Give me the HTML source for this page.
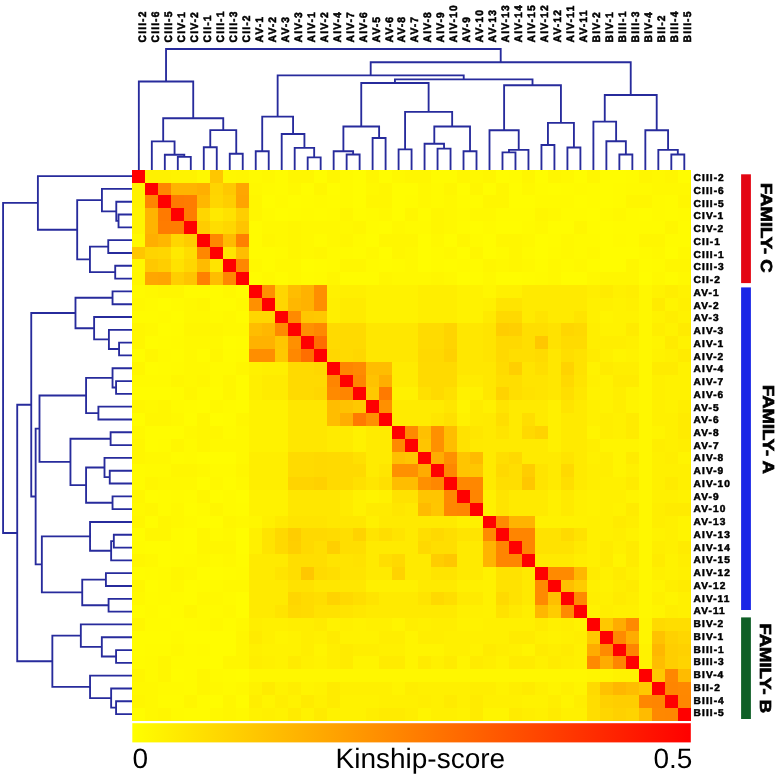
<!DOCTYPE html><html><head><meta charset="utf-8"><style>html,body{margin:0;padding:0;background:#fff;}svg{display:block;will-change:transform;}text{font-family:"Liberation Sans",sans-serif;text-rendering:geometricPrecision;}.lb{font-weight:bold;font-size:10.0px;letter-spacing:1.05px;fill:#000;stroke:#000;stroke-width:0.5px;}.lt{font-weight:bold;font-size:10.8px;letter-spacing:1.2px;fill:#000;stroke:#000;stroke-width:0.55px;}.fam{font-weight:bold;font-size:16px;fill:#000;stroke:#000;stroke-width:0.7px;}.big{font-size:28px;fill:#000;}</style></head><body><svg width="778" height="775" viewBox="0 0 778 775"><rect width="778" height="775" fill="#fff"/><defs><linearGradient id="cb" x1="0" x2="1" y1="0" y2="0"><stop offset="0" stop-color="#ffff00"/><stop offset="1" stop-color="#ff0000"/></linearGradient></defs><path d="M177.81 169.70L177.81 156.80M190.79 169.70L190.79 156.80M177.81 156.80L190.79 156.80M164.82 169.70L164.82 154.70M184.30 156.80L184.30 154.70M164.82 154.70L184.30 154.70M151.83 169.70L151.83 141.30M174.56 154.70L174.56 141.30M151.83 141.30L174.56 141.30M203.78 169.70L203.78 147.20M216.77 169.70L216.77 147.20M203.78 147.20L216.77 147.20M229.75 169.70L229.75 153.70M242.74 169.70L242.74 153.70M229.75 153.70L242.74 153.70M210.27 147.20L210.27 130.10M236.25 153.70L236.25 130.10M210.27 130.10L236.25 130.10M163.19 141.30L163.19 118.20M223.26 130.10L223.26 118.20M163.19 118.20L223.26 118.20M138.84 169.70L138.84 81.50M193.23 118.20L193.23 81.50M138.84 81.50L193.23 81.50M255.73 169.70L255.73 151.20M268.72 169.70L268.72 151.20M255.73 151.20L268.72 151.20M307.68 169.70L307.68 157.30M320.66 169.70L320.66 157.30M307.68 157.30L320.66 157.30M294.69 169.70L294.69 147.80M314.17 157.30L314.17 147.80M294.69 147.80L314.17 147.80M281.70 169.70L281.70 134.00M304.43 147.80L304.43 134.00M281.70 134.00L304.43 134.00M262.22 151.20L262.22 116.60M293.07 134.00L293.07 116.60M262.22 116.60L293.07 116.60M346.64 169.70L346.64 154.50M359.63 169.70L359.63 154.50M346.64 154.50L359.63 154.50M333.65 169.70L333.65 151.20M353.13 154.50L353.13 151.20M333.65 151.20L353.13 151.20M372.61 169.70L372.61 138.00M385.60 169.70L385.60 138.00M372.61 138.00L385.60 138.00M343.39 151.20L343.39 126.50M379.11 138.00L379.11 126.50M343.39 126.50L379.11 126.50M398.59 169.70L398.59 149.40M411.57 169.70L411.57 149.40M398.59 149.40L411.57 149.40M437.55 169.70L437.55 148.60M450.54 169.70L450.54 148.60M437.55 148.60L450.54 148.60M424.56 169.70L424.56 143.70M444.04 148.60L444.04 143.70M424.56 143.70L444.04 143.70M463.52 169.70L463.52 151.20M476.51 169.70L476.51 151.20M463.52 151.20L476.51 151.20M434.30 143.70L434.30 126.50M470.02 151.20L470.02 126.50M434.30 126.50L470.02 126.50M405.08 149.40L405.08 111.90M452.16 126.50L452.16 111.90M405.08 111.90L452.16 111.90M361.25 126.50L361.25 83.00M428.62 111.90L428.62 83.00M361.25 83.00L428.62 83.00M502.49 169.70L502.49 152.40M515.47 169.70L515.47 152.40M502.49 152.40L515.47 152.40M508.98 152.40L508.98 149.90M528.46 169.70L528.46 149.90M508.98 149.90L528.46 149.90M489.50 169.70L489.50 130.20M518.72 149.90L518.72 130.20M489.50 130.20L518.72 130.20M541.45 169.70L541.45 145.00M554.43 169.70L554.43 145.00M541.45 145.00L554.43 145.00M567.42 169.70L567.42 147.50M580.41 169.70L580.41 147.50M567.42 147.50L580.41 147.50M547.94 145.00L547.94 122.90M573.92 147.50L573.92 122.90M547.94 122.90L573.92 122.90M504.11 130.20L504.11 85.20M560.93 122.90L560.93 85.20M504.11 85.20L560.93 85.20M394.94 83.00L394.94 79.40M532.52 85.20L532.52 79.40M394.94 79.40L532.52 79.40M277.64 116.60L277.64 75.30M463.73 79.40L463.73 75.30M277.64 75.30L463.73 75.30M619.37 169.70L619.37 154.50M632.36 169.70L632.36 154.50M619.37 154.50L632.36 154.50M606.38 169.70L606.38 141.20M625.86 154.50L625.86 141.20M606.38 141.20L625.86 141.20M593.40 169.70L593.40 121.60M616.12 141.20L616.12 121.60M593.40 121.60L616.12 121.60M671.32 169.70L671.32 154.50M684.31 169.70L684.31 154.50M671.32 154.50L684.31 154.50M658.33 169.70L658.33 149.90M677.81 154.50L677.81 149.90M658.33 149.90L677.81 149.90M645.34 169.70L645.34 130.20M668.07 149.90L668.07 130.20M645.34 130.20L668.07 130.20M604.76 121.60L604.76 95.00M656.71 130.20L656.71 95.00M604.76 95.00L656.71 95.00M370.69 75.30L370.69 62.20M630.73 95.00L630.73 62.20M370.69 62.20L630.73 62.20M166.04 81.50L166.04 49.00M500.71 62.20L500.71 49.00M166.04 49.00L500.71 49.00" stroke="#272b9c" stroke-width="1.85" fill="none" stroke-linecap="square"/><path d="M132.35 214.53L118.53 214.53M132.35 227.34L118.53 227.34M118.53 214.53L118.53 227.34M132.35 201.72L116.28 201.72M118.53 220.94L116.28 220.94M116.28 201.72L116.28 220.94M132.35 188.91L101.93 188.91M116.28 211.33L101.93 211.33M101.93 188.91L101.93 211.33M132.35 240.15L108.25 240.15M132.35 252.96L108.25 252.96M108.25 240.15L108.25 252.96M132.35 265.77L115.21 265.77M132.35 278.58L115.21 278.58M115.21 265.77L115.21 278.58M108.25 246.56L89.94 246.56M115.21 272.17L89.94 272.17M89.94 246.56L89.94 272.17M101.93 200.12L77.19 200.12M89.94 259.37L77.19 259.37M77.19 200.12L77.19 259.37M132.35 176.10L37.89 176.10M77.19 229.74L37.89 229.74M37.89 176.10L37.89 229.74M132.35 291.39L112.54 291.39M132.35 304.20L112.54 304.20M112.54 291.39L112.54 304.20M132.35 342.63L119.07 342.63M132.35 355.43L119.07 355.43M119.07 342.63L119.07 355.43M132.35 329.82L108.90 329.82M119.07 349.03L108.90 349.03M108.90 329.82L108.90 349.03M132.35 317.01L94.12 317.01M108.90 339.42L94.12 339.42M94.12 317.01L94.12 339.42M112.54 297.79L75.48 297.79M94.12 328.22L75.48 328.22M75.48 297.79L75.48 328.22M132.35 381.05L116.07 381.05M132.35 393.86L116.07 393.86M116.07 381.05L116.07 393.86M132.35 368.24L112.54 368.24M116.07 387.46L112.54 387.46M112.54 368.24L112.54 387.46M132.35 406.67L98.40 406.67M132.35 419.48L98.40 419.48M98.40 406.67L98.40 419.48M112.54 377.85L86.08 377.85M98.40 413.08L86.08 413.08M86.08 377.85L86.08 413.08M132.35 432.29L110.61 432.29M132.35 445.10L110.61 445.10M110.61 432.29L110.61 445.10M132.35 470.72L109.75 470.72M132.35 483.53L109.75 483.53M109.75 470.72L109.75 483.53M132.35 457.91L104.50 457.91M109.75 477.12L104.50 477.12M104.50 457.91L104.50 477.12M132.35 496.34L112.54 496.34M132.35 509.15L112.54 509.15M112.54 496.34L112.54 509.15M104.50 467.52L86.08 467.52M112.54 502.74L86.08 502.74M86.08 467.52L86.08 502.74M110.61 438.70L70.45 438.70M86.08 485.13L70.45 485.13M70.45 438.70L70.45 485.13M86.08 395.46L39.49 395.46M70.45 461.91L39.49 461.91M39.49 395.46L39.49 461.91M132.35 534.77L113.82 534.77M132.35 547.57L113.82 547.57M113.82 534.77L113.82 547.57M113.82 541.17L111.14 541.17M132.35 560.38L111.14 560.38M111.14 541.17L111.14 560.38M132.35 521.96L90.05 521.96M111.14 550.78L90.05 550.78M90.05 521.96L90.05 550.78M132.35 573.19L105.90 573.19M132.35 586.00L105.90 586.00M105.90 573.19L105.90 586.00M132.35 598.81L108.57 598.81M132.35 611.62L108.57 611.62M108.57 598.81L108.57 611.62M105.90 579.60L82.23 579.60M108.57 605.22L82.23 605.22M82.23 579.60L82.23 605.22M90.05 536.37L41.85 536.37M82.23 592.41L41.85 592.41M41.85 536.37L41.85 592.41M39.49 428.69L35.64 428.69M41.85 564.39L35.64 564.39M35.64 428.69L35.64 564.39M75.48 313.00L31.25 313.00M35.64 496.54L31.25 496.54M31.25 313.00L31.25 496.54M132.35 650.05L116.07 650.05M132.35 662.86L116.07 662.86M116.07 650.05L116.07 662.86M132.35 637.24L101.83 637.24M116.07 656.45L101.83 656.45M101.83 637.24L101.83 656.45M132.35 624.43L80.83 624.43M101.83 646.85L80.83 646.85M80.83 624.43L80.83 646.85M132.35 701.29L116.07 701.29M132.35 714.10L116.07 714.10M116.07 701.29L116.07 714.10M132.35 688.48L111.14 688.48M116.07 707.69L111.14 707.69M111.14 688.48L111.14 707.69M132.35 675.67L90.05 675.67M111.14 698.08L90.05 698.08M90.05 675.67L90.05 698.08M80.83 635.64L52.35 635.64M90.05 686.88L52.35 686.88M52.35 635.64L52.35 686.88M31.25 404.77L17.22 404.77M52.35 661.26L17.22 661.26M17.22 404.77L17.22 661.26M37.89 202.92L3.08 202.92M17.22 533.01L3.08 533.01M3.08 202.92L3.08 533.01" stroke="#272b9c" stroke-width="1.85" fill="none" stroke-linecap="square"/><g shape-rendering="crispEdges"><rect x="132.35" y="169.70" width="13.04" height="12.86" fill="rgb(255,0,0)"/><rect x="145.34" y="169.70" width="13.04" height="12.86" fill="rgb(255,241,0)"/><rect x="158.32" y="169.70" width="13.04" height="12.86" fill="rgb(255,241,0)"/><rect x="171.31" y="169.70" width="13.04" height="12.86" fill="rgb(255,243,0)"/><rect x="184.30" y="169.70" width="13.04" height="12.86" fill="rgb(255,243,0)"/><rect x="197.29" y="169.70" width="13.04" height="12.86" fill="rgb(255,248,0)"/><rect x="210.27" y="169.70" width="13.04" height="12.86" fill="rgb(255,198,0)"/><rect x="223.26" y="169.70" width="13.04" height="12.86" fill="rgb(255,247,0)"/><rect x="236.25" y="169.70" width="13.04" height="12.86" fill="rgb(255,246,0)"/><rect x="249.23" y="169.70" width="13.04" height="12.86" fill="rgb(255,250,0)"/><rect x="262.22" y="169.70" width="13.04" height="12.86" fill="rgb(255,248,0)"/><rect x="275.21" y="169.70" width="13.04" height="12.86" fill="rgb(255,251,0)"/><rect x="288.20" y="169.70" width="13.04" height="12.86" fill="rgb(255,246,0)"/><rect x="301.18" y="169.70" width="13.04" height="12.86" fill="rgb(255,246,0)"/><rect x="314.17" y="169.70" width="13.04" height="12.86" fill="rgb(255,252,0)"/><rect x="327.16" y="169.70" width="13.04" height="12.86" fill="rgb(255,246,0)"/><rect x="340.15" y="169.70" width="13.04" height="12.86" fill="rgb(255,250,0)"/><rect x="353.13" y="169.70" width="13.04" height="12.86" fill="rgb(255,252,0)"/><rect x="366.12" y="169.70" width="13.04" height="12.86" fill="rgb(255,246,0)"/><rect x="379.11" y="169.70" width="13.04" height="12.86" fill="rgb(255,252,0)"/><rect x="392.09" y="169.70" width="13.04" height="12.86" fill="rgb(255,248,0)"/><rect x="405.08" y="169.70" width="13.04" height="12.86" fill="rgb(255,246,0)"/><rect x="418.07" y="169.70" width="13.04" height="12.86" fill="rgb(255,246,0)"/><rect x="431.06" y="169.70" width="13.04" height="12.86" fill="rgb(255,251,0)"/><rect x="444.04" y="169.70" width="13.04" height="12.86" fill="rgb(255,251,0)"/><rect x="457.03" y="169.70" width="13.04" height="12.86" fill="rgb(255,246,0)"/><rect x="470.02" y="169.70" width="13.04" height="12.86" fill="rgb(255,248,0)"/><rect x="483.00" y="169.70" width="13.04" height="12.86" fill="rgb(255,246,0)"/><rect x="495.99" y="169.70" width="13.04" height="12.86" fill="rgb(255,252,0)"/><rect x="508.98" y="169.70" width="13.04" height="12.86" fill="rgb(255,251,0)"/><rect x="521.97" y="169.70" width="13.04" height="12.86" fill="rgb(255,246,0)"/><rect x="534.95" y="169.70" width="13.04" height="12.86" fill="rgb(255,252,0)"/><rect x="547.94" y="169.70" width="13.04" height="12.86" fill="rgb(255,246,0)"/><rect x="560.93" y="169.70" width="13.04" height="12.86" fill="rgb(255,248,0)"/><rect x="573.92" y="169.70" width="13.04" height="12.86" fill="rgb(255,252,0)"/><rect x="586.90" y="169.70" width="13.04" height="12.86" fill="rgb(255,246,0)"/><rect x="599.89" y="169.70" width="13.04" height="12.86" fill="rgb(255,252,0)"/><rect x="612.88" y="169.70" width="13.04" height="12.86" fill="rgb(255,252,0)"/><rect x="625.86" y="169.70" width="13.04" height="12.86" fill="rgb(255,251,0)"/><rect x="638.85" y="169.70" width="13.04" height="12.86" fill="rgb(255,246,0)"/><rect x="651.84" y="169.70" width="13.04" height="12.86" fill="rgb(255,248,0)"/><rect x="664.83" y="169.70" width="13.04" height="12.86" fill="rgb(255,246,0)"/><rect x="677.81" y="169.70" width="13.04" height="12.86" fill="rgb(255,252,0)"/><rect x="132.35" y="182.51" width="13.04" height="12.86" fill="rgb(255,241,0)"/><rect x="145.34" y="182.51" width="13.04" height="12.86" fill="rgb(255,0,0)"/><rect x="158.32" y="182.51" width="13.04" height="12.86" fill="rgb(255,133,0)"/><rect x="171.31" y="182.51" width="13.04" height="12.86" fill="rgb(255,180,0)"/><rect x="184.30" y="182.51" width="13.04" height="12.86" fill="rgb(255,180,0)"/><rect x="197.29" y="182.51" width="13.04" height="12.86" fill="rgb(255,175,0)"/><rect x="210.27" y="182.51" width="13.04" height="12.86" fill="rgb(255,212,0)"/><rect x="223.26" y="182.51" width="13.04" height="12.86" fill="rgb(255,200,0)"/><rect x="236.25" y="182.51" width="13.04" height="12.86" fill="rgb(255,166,0)"/><rect x="249.23" y="182.51" width="13.04" height="12.86" fill="rgb(255,248,0)"/><rect x="262.22" y="182.51" width="13.04" height="12.86" fill="rgb(255,250,0)"/><rect x="275.21" y="182.51" width="13.04" height="12.86" fill="rgb(255,251,0)"/><rect x="288.20" y="182.51" width="13.04" height="12.86" fill="rgb(255,248,0)"/><rect x="301.18" y="182.51" width="13.04" height="12.86" fill="rgb(255,252,0)"/><rect x="314.17" y="182.51" width="13.04" height="12.86" fill="rgb(255,246,0)"/><rect x="327.16" y="182.51" width="13.04" height="12.86" fill="rgb(255,252,0)"/><rect x="340.15" y="182.51" width="13.04" height="12.86" fill="rgb(255,250,0)"/><rect x="353.13" y="182.51" width="13.04" height="12.86" fill="rgb(255,252,0)"/><rect x="366.12" y="182.51" width="13.04" height="12.86" fill="rgb(255,248,0)"/><rect x="379.11" y="182.51" width="13.04" height="12.86" fill="rgb(255,246,0)"/><rect x="392.09" y="182.51" width="13.04" height="12.86" fill="rgb(255,252,0)"/><rect x="405.08" y="182.51" width="13.04" height="12.86" fill="rgb(255,252,0)"/><rect x="418.07" y="182.51" width="13.04" height="12.86" fill="rgb(255,248,0)"/><rect x="431.06" y="182.51" width="13.04" height="12.86" fill="rgb(255,250,0)"/><rect x="444.04" y="182.51" width="13.04" height="12.86" fill="rgb(255,246,0)"/><rect x="457.03" y="182.51" width="13.04" height="12.86" fill="rgb(255,252,0)"/><rect x="470.02" y="182.51" width="13.04" height="12.86" fill="rgb(255,246,0)"/><rect x="483.00" y="182.51" width="13.04" height="12.86" fill="rgb(255,252,0)"/><rect x="495.99" y="182.51" width="13.04" height="12.86" fill="rgb(255,246,0)"/><rect x="508.98" y="182.51" width="13.04" height="12.86" fill="rgb(255,252,0)"/><rect x="521.97" y="182.51" width="13.04" height="12.86" fill="rgb(255,248,0)"/><rect x="534.95" y="182.51" width="13.04" height="12.86" fill="rgb(255,251,0)"/><rect x="547.94" y="182.51" width="13.04" height="12.86" fill="rgb(255,252,0)"/><rect x="560.93" y="182.51" width="13.04" height="12.86" fill="rgb(255,251,0)"/><rect x="573.92" y="182.51" width="13.04" height="12.86" fill="rgb(255,250,0)"/><rect x="586.90" y="182.51" width="13.04" height="12.86" fill="rgb(255,251,0)"/><rect x="599.89" y="182.51" width="13.04" height="12.86" fill="rgb(255,252,0)"/><rect x="612.88" y="182.51" width="13.04" height="12.86" fill="rgb(255,251,0)"/><rect x="625.86" y="182.51" width="13.04" height="12.86" fill="rgb(255,250,0)"/><rect x="638.85" y="182.51" width="13.04" height="12.86" fill="rgb(255,250,0)"/><rect x="651.84" y="182.51" width="13.04" height="12.86" fill="rgb(255,248,0)"/><rect x="664.83" y="182.51" width="13.04" height="12.86" fill="rgb(255,248,0)"/><rect x="677.81" y="182.51" width="13.04" height="12.86" fill="rgb(255,248,0)"/><rect x="132.35" y="195.32" width="13.04" height="12.86" fill="rgb(255,241,0)"/><rect x="145.34" y="195.32" width="13.04" height="12.86" fill="rgb(255,133,0)"/><rect x="158.32" y="195.32" width="13.04" height="12.86" fill="rgb(255,0,0)"/><rect x="171.31" y="195.32" width="13.04" height="12.86" fill="rgb(255,122,0)"/><rect x="184.30" y="195.32" width="13.04" height="12.86" fill="rgb(255,124,0)"/><rect x="197.29" y="195.32" width="13.04" height="12.86" fill="rgb(255,183,0)"/><rect x="210.27" y="195.32" width="13.04" height="12.86" fill="rgb(255,214,0)"/><rect x="223.26" y="195.32" width="13.04" height="12.86" fill="rgb(255,206,0)"/><rect x="236.25" y="195.32" width="13.04" height="12.86" fill="rgb(255,164,0)"/><rect x="249.23" y="195.32" width="13.04" height="12.86" fill="rgb(255,246,0)"/><rect x="262.22" y="195.32" width="13.04" height="12.86" fill="rgb(255,252,0)"/><rect x="275.21" y="195.32" width="13.04" height="12.86" fill="rgb(255,250,0)"/><rect x="288.20" y="195.32" width="13.04" height="12.86" fill="rgb(255,252,0)"/><rect x="301.18" y="195.32" width="13.04" height="12.86" fill="rgb(255,251,0)"/><rect x="314.17" y="195.32" width="13.04" height="12.86" fill="rgb(255,250,0)"/><rect x="327.16" y="195.32" width="13.04" height="12.86" fill="rgb(255,251,0)"/><rect x="340.15" y="195.32" width="13.04" height="12.86" fill="rgb(255,250,0)"/><rect x="353.13" y="195.32" width="13.04" height="12.86" fill="rgb(255,252,0)"/><rect x="366.12" y="195.32" width="13.04" height="12.86" fill="rgb(255,246,0)"/><rect x="379.11" y="195.32" width="13.04" height="12.86" fill="rgb(255,246,0)"/><rect x="392.09" y="195.32" width="13.04" height="12.86" fill="rgb(255,252,0)"/><rect x="405.08" y="195.32" width="13.04" height="12.86" fill="rgb(255,251,0)"/><rect x="418.07" y="195.32" width="13.04" height="12.86" fill="rgb(255,248,0)"/><rect x="431.06" y="195.32" width="13.04" height="12.86" fill="rgb(255,250,0)"/><rect x="444.04" y="195.32" width="13.04" height="12.86" fill="rgb(255,248,0)"/><rect x="457.03" y="195.32" width="13.04" height="12.86" fill="rgb(255,251,0)"/><rect x="470.02" y="195.32" width="13.04" height="12.86" fill="rgb(255,251,0)"/><rect x="483.00" y="195.32" width="13.04" height="12.86" fill="rgb(255,246,0)"/><rect x="495.99" y="195.32" width="13.04" height="12.86" fill="rgb(255,246,0)"/><rect x="508.98" y="195.32" width="13.04" height="12.86" fill="rgb(255,252,0)"/><rect x="521.97" y="195.32" width="13.04" height="12.86" fill="rgb(255,252,0)"/><rect x="534.95" y="195.32" width="13.04" height="12.86" fill="rgb(255,250,0)"/><rect x="547.94" y="195.32" width="13.04" height="12.86" fill="rgb(255,250,0)"/><rect x="560.93" y="195.32" width="13.04" height="12.86" fill="rgb(255,250,0)"/><rect x="573.92" y="195.32" width="13.04" height="12.86" fill="rgb(255,252,0)"/><rect x="586.90" y="195.32" width="13.04" height="12.86" fill="rgb(255,251,0)"/><rect x="599.89" y="195.32" width="13.04" height="12.86" fill="rgb(255,252,0)"/><rect x="612.88" y="195.32" width="13.04" height="12.86" fill="rgb(255,251,0)"/><rect x="625.86" y="195.32" width="13.04" height="12.86" fill="rgb(255,246,0)"/><rect x="638.85" y="195.32" width="13.04" height="12.86" fill="rgb(255,246,0)"/><rect x="651.84" y="195.32" width="13.04" height="12.86" fill="rgb(255,250,0)"/><rect x="664.83" y="195.32" width="13.04" height="12.86" fill="rgb(255,251,0)"/><rect x="677.81" y="195.32" width="13.04" height="12.86" fill="rgb(255,246,0)"/><rect x="132.35" y="208.13" width="13.04" height="12.86" fill="rgb(255,243,0)"/><rect x="145.34" y="208.13" width="13.04" height="12.86" fill="rgb(255,180,0)"/><rect x="158.32" y="208.13" width="13.04" height="12.86" fill="rgb(255,122,0)"/><rect x="171.31" y="208.13" width="13.04" height="12.86" fill="rgb(255,0,0)"/><rect x="184.30" y="208.13" width="13.04" height="12.86" fill="rgb(255,124,0)"/><rect x="197.29" y="208.13" width="13.04" height="12.86" fill="rgb(255,214,0)"/><rect x="210.27" y="208.13" width="13.04" height="12.86" fill="rgb(255,233,0)"/><rect x="223.26" y="208.13" width="13.04" height="12.86" fill="rgb(255,226,0)"/><rect x="236.25" y="208.13" width="13.04" height="12.86" fill="rgb(255,206,0)"/><rect x="249.23" y="208.13" width="13.04" height="12.86" fill="rgb(255,246,0)"/><rect x="262.22" y="208.13" width="13.04" height="12.86" fill="rgb(255,250,0)"/><rect x="275.21" y="208.13" width="13.04" height="12.86" fill="rgb(255,252,0)"/><rect x="288.20" y="208.13" width="13.04" height="12.86" fill="rgb(255,251,0)"/><rect x="301.18" y="208.13" width="13.04" height="12.86" fill="rgb(255,250,0)"/><rect x="314.17" y="208.13" width="13.04" height="12.86" fill="rgb(255,251,0)"/><rect x="327.16" y="208.13" width="13.04" height="12.86" fill="rgb(255,250,0)"/><rect x="340.15" y="208.13" width="13.04" height="12.86" fill="rgb(255,246,0)"/><rect x="353.13" y="208.13" width="13.04" height="12.86" fill="rgb(255,251,0)"/><rect x="366.12" y="208.13" width="13.04" height="12.86" fill="rgb(255,250,0)"/><rect x="379.11" y="208.13" width="13.04" height="12.86" fill="rgb(255,248,0)"/><rect x="392.09" y="208.13" width="13.04" height="12.86" fill="rgb(255,252,0)"/><rect x="405.08" y="208.13" width="13.04" height="12.86" fill="rgb(255,246,0)"/><rect x="418.07" y="208.13" width="13.04" height="12.86" fill="rgb(255,251,0)"/><rect x="431.06" y="208.13" width="13.04" height="12.86" fill="rgb(255,246,0)"/><rect x="444.04" y="208.13" width="13.04" height="12.86" fill="rgb(255,248,0)"/><rect x="457.03" y="208.13" width="13.04" height="12.86" fill="rgb(255,250,0)"/><rect x="470.02" y="208.13" width="13.04" height="12.86" fill="rgb(255,248,0)"/><rect x="483.00" y="208.13" width="13.04" height="12.86" fill="rgb(255,248,0)"/><rect x="495.99" y="208.13" width="13.04" height="12.86" fill="rgb(255,251,0)"/><rect x="508.98" y="208.13" width="13.04" height="12.86" fill="rgb(255,251,0)"/><rect x="521.97" y="208.13" width="13.04" height="12.86" fill="rgb(255,251,0)"/><rect x="534.95" y="208.13" width="13.04" height="12.86" fill="rgb(255,246,0)"/><rect x="547.94" y="208.13" width="13.04" height="12.86" fill="rgb(255,248,0)"/><rect x="560.93" y="208.13" width="13.04" height="12.86" fill="rgb(255,251,0)"/><rect x="573.92" y="208.13" width="13.04" height="12.86" fill="rgb(255,251,0)"/><rect x="586.90" y="208.13" width="13.04" height="12.86" fill="rgb(255,252,0)"/><rect x="599.89" y="208.13" width="13.04" height="12.86" fill="rgb(255,250,0)"/><rect x="612.88" y="208.13" width="13.04" height="12.86" fill="rgb(255,248,0)"/><rect x="625.86" y="208.13" width="13.04" height="12.86" fill="rgb(255,251,0)"/><rect x="638.85" y="208.13" width="13.04" height="12.86" fill="rgb(255,252,0)"/><rect x="651.84" y="208.13" width="13.04" height="12.86" fill="rgb(255,250,0)"/><rect x="664.83" y="208.13" width="13.04" height="12.86" fill="rgb(255,251,0)"/><rect x="677.81" y="208.13" width="13.04" height="12.86" fill="rgb(255,250,0)"/><rect x="132.35" y="220.94" width="13.04" height="12.86" fill="rgb(255,243,0)"/><rect x="145.34" y="220.94" width="13.04" height="12.86" fill="rgb(255,180,0)"/><rect x="158.32" y="220.94" width="13.04" height="12.86" fill="rgb(255,124,0)"/><rect x="171.31" y="220.94" width="13.04" height="12.86" fill="rgb(255,124,0)"/><rect x="184.30" y="220.94" width="13.04" height="12.86" fill="rgb(255,0,0)"/><rect x="197.29" y="220.94" width="13.04" height="12.86" fill="rgb(255,204,0)"/><rect x="210.27" y="220.94" width="13.04" height="12.86" fill="rgb(255,221,0)"/><rect x="223.26" y="220.94" width="13.04" height="12.86" fill="rgb(255,215,0)"/><rect x="236.25" y="220.94" width="13.04" height="12.86" fill="rgb(255,196,0)"/><rect x="249.23" y="220.94" width="13.04" height="12.86" fill="rgb(255,251,0)"/><rect x="262.22" y="220.94" width="13.04" height="12.86" fill="rgb(255,248,0)"/><rect x="275.21" y="220.94" width="13.04" height="12.86" fill="rgb(255,248,0)"/><rect x="288.20" y="220.94" width="13.04" height="12.86" fill="rgb(255,246,0)"/><rect x="301.18" y="220.94" width="13.04" height="12.86" fill="rgb(255,248,0)"/><rect x="314.17" y="220.94" width="13.04" height="12.86" fill="rgb(255,248,0)"/><rect x="327.16" y="220.94" width="13.04" height="12.86" fill="rgb(255,248,0)"/><rect x="340.15" y="220.94" width="13.04" height="12.86" fill="rgb(255,248,0)"/><rect x="353.13" y="220.94" width="13.04" height="12.86" fill="rgb(255,246,0)"/><rect x="366.12" y="220.94" width="13.04" height="12.86" fill="rgb(255,251,0)"/><rect x="379.11" y="220.94" width="13.04" height="12.86" fill="rgb(255,252,0)"/><rect x="392.09" y="220.94" width="13.04" height="12.86" fill="rgb(255,248,0)"/><rect x="405.08" y="220.94" width="13.04" height="12.86" fill="rgb(255,250,0)"/><rect x="418.07" y="220.94" width="13.04" height="12.86" fill="rgb(255,250,0)"/><rect x="431.06" y="220.94" width="13.04" height="12.86" fill="rgb(255,246,0)"/><rect x="444.04" y="220.94" width="13.04" height="12.86" fill="rgb(255,248,0)"/><rect x="457.03" y="220.94" width="13.04" height="12.86" fill="rgb(255,251,0)"/><rect x="470.02" y="220.94" width="13.04" height="12.86" fill="rgb(255,252,0)"/><rect x="483.00" y="220.94" width="13.04" height="12.86" fill="rgb(255,250,0)"/><rect x="495.99" y="220.94" width="13.04" height="12.86" fill="rgb(255,252,0)"/><rect x="508.98" y="220.94" width="13.04" height="12.86" fill="rgb(255,252,0)"/><rect x="521.97" y="220.94" width="13.04" height="12.86" fill="rgb(255,250,0)"/><rect x="534.95" y="220.94" width="13.04" height="12.86" fill="rgb(255,248,0)"/><rect x="547.94" y="220.94" width="13.04" height="12.86" fill="rgb(255,252,0)"/><rect x="560.93" y="220.94" width="13.04" height="12.86" fill="rgb(255,252,0)"/><rect x="573.92" y="220.94" width="13.04" height="12.86" fill="rgb(255,246,0)"/><rect x="586.90" y="220.94" width="13.04" height="12.86" fill="rgb(255,251,0)"/><rect x="599.89" y="220.94" width="13.04" height="12.86" fill="rgb(255,252,0)"/><rect x="612.88" y="220.94" width="13.04" height="12.86" fill="rgb(255,251,0)"/><rect x="625.86" y="220.94" width="13.04" height="12.86" fill="rgb(255,251,0)"/><rect x="638.85" y="220.94" width="13.04" height="12.86" fill="rgb(255,251,0)"/><rect x="651.84" y="220.94" width="13.04" height="12.86" fill="rgb(255,251,0)"/><rect x="664.83" y="220.94" width="13.04" height="12.86" fill="rgb(255,246,0)"/><rect x="677.81" y="220.94" width="13.04" height="12.86" fill="rgb(255,251,0)"/><rect x="132.35" y="233.75" width="13.04" height="12.86" fill="rgb(255,248,0)"/><rect x="145.34" y="233.75" width="13.04" height="12.86" fill="rgb(255,175,0)"/><rect x="158.32" y="233.75" width="13.04" height="12.86" fill="rgb(255,183,0)"/><rect x="171.31" y="233.75" width="13.04" height="12.86" fill="rgb(255,214,0)"/><rect x="184.30" y="233.75" width="13.04" height="12.86" fill="rgb(255,204,0)"/><rect x="197.29" y="233.75" width="13.04" height="12.86" fill="rgb(255,0,0)"/><rect x="210.27" y="233.75" width="13.04" height="12.86" fill="rgb(255,135,0)"/><rect x="223.26" y="233.75" width="13.04" height="12.86" fill="rgb(255,187,0)"/><rect x="236.25" y="233.75" width="13.04" height="12.86" fill="rgb(255,128,0)"/><rect x="249.23" y="233.75" width="13.04" height="12.86" fill="rgb(255,251,0)"/><rect x="262.22" y="233.75" width="13.04" height="12.86" fill="rgb(255,246,0)"/><rect x="275.21" y="233.75" width="13.04" height="12.86" fill="rgb(255,248,0)"/><rect x="288.20" y="233.75" width="13.04" height="12.86" fill="rgb(255,246,0)"/><rect x="301.18" y="233.75" width="13.04" height="12.86" fill="rgb(255,248,0)"/><rect x="314.17" y="233.75" width="13.04" height="12.86" fill="rgb(255,251,0)"/><rect x="327.16" y="233.75" width="13.04" height="12.86" fill="rgb(255,248,0)"/><rect x="340.15" y="233.75" width="13.04" height="12.86" fill="rgb(255,246,0)"/><rect x="353.13" y="233.75" width="13.04" height="12.86" fill="rgb(255,250,0)"/><rect x="366.12" y="233.75" width="13.04" height="12.86" fill="rgb(255,252,0)"/><rect x="379.11" y="233.75" width="13.04" height="12.86" fill="rgb(255,246,0)"/><rect x="392.09" y="233.75" width="13.04" height="12.86" fill="rgb(255,246,0)"/><rect x="405.08" y="233.75" width="13.04" height="12.86" fill="rgb(255,246,0)"/><rect x="418.07" y="233.75" width="13.04" height="12.86" fill="rgb(255,252,0)"/><rect x="431.06" y="233.75" width="13.04" height="12.86" fill="rgb(255,248,0)"/><rect x="444.04" y="233.75" width="13.04" height="12.86" fill="rgb(255,252,0)"/><rect x="457.03" y="233.75" width="13.04" height="12.86" fill="rgb(255,246,0)"/><rect x="470.02" y="233.75" width="13.04" height="12.86" fill="rgb(255,250,0)"/><rect x="483.00" y="233.75" width="13.04" height="12.86" fill="rgb(255,252,0)"/><rect x="495.99" y="233.75" width="13.04" height="12.86" fill="rgb(255,246,0)"/><rect x="508.98" y="233.75" width="13.04" height="12.86" fill="rgb(255,246,0)"/><rect x="521.97" y="233.75" width="13.04" height="12.86" fill="rgb(255,248,0)"/><rect x="534.95" y="233.75" width="13.04" height="12.86" fill="rgb(255,252,0)"/><rect x="547.94" y="233.75" width="13.04" height="12.86" fill="rgb(255,251,0)"/><rect x="560.93" y="233.75" width="13.04" height="12.86" fill="rgb(255,248,0)"/><rect x="573.92" y="233.75" width="13.04" height="12.86" fill="rgb(255,250,0)"/><rect x="586.90" y="233.75" width="13.04" height="12.86" fill="rgb(255,250,0)"/><rect x="599.89" y="233.75" width="13.04" height="12.86" fill="rgb(255,252,0)"/><rect x="612.88" y="233.75" width="13.04" height="12.86" fill="rgb(255,250,0)"/><rect x="625.86" y="233.75" width="13.04" height="12.86" fill="rgb(255,251,0)"/><rect x="638.85" y="233.75" width="13.04" height="12.86" fill="rgb(255,246,0)"/><rect x="651.84" y="233.75" width="13.04" height="12.86" fill="rgb(255,246,0)"/><rect x="664.83" y="233.75" width="13.04" height="12.86" fill="rgb(255,251,0)"/><rect x="677.81" y="233.75" width="13.04" height="12.86" fill="rgb(255,251,0)"/><rect x="132.35" y="246.56" width="13.04" height="12.86" fill="rgb(255,198,0)"/><rect x="145.34" y="246.56" width="13.04" height="12.86" fill="rgb(255,212,0)"/><rect x="158.32" y="246.56" width="13.04" height="12.86" fill="rgb(255,214,0)"/><rect x="171.31" y="246.56" width="13.04" height="12.86" fill="rgb(255,233,0)"/><rect x="184.30" y="246.56" width="13.04" height="12.86" fill="rgb(255,221,0)"/><rect x="197.29" y="246.56" width="13.04" height="12.86" fill="rgb(255,135,0)"/><rect x="210.27" y="246.56" width="13.04" height="12.86" fill="rgb(255,0,0)"/><rect x="223.26" y="246.56" width="13.04" height="12.86" fill="rgb(255,228,0)"/><rect x="236.25" y="246.56" width="13.04" height="12.86" fill="rgb(255,189,0)"/><rect x="249.23" y="246.56" width="13.04" height="12.86" fill="rgb(255,251,0)"/><rect x="262.22" y="246.56" width="13.04" height="12.86" fill="rgb(255,251,0)"/><rect x="275.21" y="246.56" width="13.04" height="12.86" fill="rgb(255,250,0)"/><rect x="288.20" y="246.56" width="13.04" height="12.86" fill="rgb(255,246,0)"/><rect x="301.18" y="246.56" width="13.04" height="12.86" fill="rgb(255,248,0)"/><rect x="314.17" y="246.56" width="13.04" height="12.86" fill="rgb(255,246,0)"/><rect x="327.16" y="246.56" width="13.04" height="12.86" fill="rgb(255,250,0)"/><rect x="340.15" y="246.56" width="13.04" height="12.86" fill="rgb(255,250,0)"/><rect x="353.13" y="246.56" width="13.04" height="12.86" fill="rgb(255,251,0)"/><rect x="366.12" y="246.56" width="13.04" height="12.86" fill="rgb(255,248,0)"/><rect x="379.11" y="246.56" width="13.04" height="12.86" fill="rgb(255,252,0)"/><rect x="392.09" y="246.56" width="13.04" height="12.86" fill="rgb(255,246,0)"/><rect x="405.08" y="246.56" width="13.04" height="12.86" fill="rgb(255,248,0)"/><rect x="418.07" y="246.56" width="13.04" height="12.86" fill="rgb(255,252,0)"/><rect x="431.06" y="246.56" width="13.04" height="12.86" fill="rgb(255,250,0)"/><rect x="444.04" y="246.56" width="13.04" height="12.86" fill="rgb(255,248,0)"/><rect x="457.03" y="246.56" width="13.04" height="12.86" fill="rgb(255,252,0)"/><rect x="470.02" y="246.56" width="13.04" height="12.86" fill="rgb(255,246,0)"/><rect x="483.00" y="246.56" width="13.04" height="12.86" fill="rgb(255,252,0)"/><rect x="495.99" y="246.56" width="13.04" height="12.86" fill="rgb(255,250,0)"/><rect x="508.98" y="246.56" width="13.04" height="12.86" fill="rgb(255,246,0)"/><rect x="521.97" y="246.56" width="13.04" height="12.86" fill="rgb(255,250,0)"/><rect x="534.95" y="246.56" width="13.04" height="12.86" fill="rgb(255,252,0)"/><rect x="547.94" y="246.56" width="13.04" height="12.86" fill="rgb(255,250,0)"/><rect x="560.93" y="246.56" width="13.04" height="12.86" fill="rgb(255,248,0)"/><rect x="573.92" y="246.56" width="13.04" height="12.86" fill="rgb(255,250,0)"/><rect x="586.90" y="246.56" width="13.04" height="12.86" fill="rgb(255,248,0)"/><rect x="599.89" y="246.56" width="13.04" height="12.86" fill="rgb(255,252,0)"/><rect x="612.88" y="246.56" width="13.04" height="12.86" fill="rgb(255,252,0)"/><rect x="625.86" y="246.56" width="13.04" height="12.86" fill="rgb(255,252,0)"/><rect x="638.85" y="246.56" width="13.04" height="12.86" fill="rgb(255,250,0)"/><rect x="651.84" y="246.56" width="13.04" height="12.86" fill="rgb(255,248,0)"/><rect x="664.83" y="246.56" width="13.04" height="12.86" fill="rgb(255,252,0)"/><rect x="677.81" y="246.56" width="13.04" height="12.86" fill="rgb(255,248,0)"/><rect x="132.35" y="259.37" width="13.04" height="12.86" fill="rgb(255,247,0)"/><rect x="145.34" y="259.37" width="13.04" height="12.86" fill="rgb(255,200,0)"/><rect x="158.32" y="259.37" width="13.04" height="12.86" fill="rgb(255,206,0)"/><rect x="171.31" y="259.37" width="13.04" height="12.86" fill="rgb(255,226,0)"/><rect x="184.30" y="259.37" width="13.04" height="12.86" fill="rgb(255,215,0)"/><rect x="197.29" y="259.37" width="13.04" height="12.86" fill="rgb(255,187,0)"/><rect x="210.27" y="259.37" width="13.04" height="12.86" fill="rgb(255,228,0)"/><rect x="223.26" y="259.37" width="13.04" height="12.86" fill="rgb(255,0,0)"/><rect x="236.25" y="259.37" width="13.04" height="12.86" fill="rgb(255,135,0)"/><rect x="249.23" y="259.37" width="13.04" height="12.86" fill="rgb(255,248,0)"/><rect x="262.22" y="259.37" width="13.04" height="12.86" fill="rgb(255,251,0)"/><rect x="275.21" y="259.37" width="13.04" height="12.86" fill="rgb(255,248,0)"/><rect x="288.20" y="259.37" width="13.04" height="12.86" fill="rgb(255,248,0)"/><rect x="301.18" y="259.37" width="13.04" height="12.86" fill="rgb(255,252,0)"/><rect x="314.17" y="259.37" width="13.04" height="12.86" fill="rgb(255,251,0)"/><rect x="327.16" y="259.37" width="13.04" height="12.86" fill="rgb(255,250,0)"/><rect x="340.15" y="259.37" width="13.04" height="12.86" fill="rgb(255,246,0)"/><rect x="353.13" y="259.37" width="13.04" height="12.86" fill="rgb(255,246,0)"/><rect x="366.12" y="259.37" width="13.04" height="12.86" fill="rgb(255,250,0)"/><rect x="379.11" y="259.37" width="13.04" height="12.86" fill="rgb(255,251,0)"/><rect x="392.09" y="259.37" width="13.04" height="12.86" fill="rgb(255,250,0)"/><rect x="405.08" y="259.37" width="13.04" height="12.86" fill="rgb(255,248,0)"/><rect x="418.07" y="259.37" width="13.04" height="12.86" fill="rgb(255,252,0)"/><rect x="431.06" y="259.37" width="13.04" height="12.86" fill="rgb(255,250,0)"/><rect x="444.04" y="259.37" width="13.04" height="12.86" fill="rgb(255,251,0)"/><rect x="457.03" y="259.37" width="13.04" height="12.86" fill="rgb(255,250,0)"/><rect x="470.02" y="259.37" width="13.04" height="12.86" fill="rgb(255,250,0)"/><rect x="483.00" y="259.37" width="13.04" height="12.86" fill="rgb(255,246,0)"/><rect x="495.99" y="259.37" width="13.04" height="12.86" fill="rgb(255,248,0)"/><rect x="508.98" y="259.37" width="13.04" height="12.86" fill="rgb(255,246,0)"/><rect x="521.97" y="259.37" width="13.04" height="12.86" fill="rgb(255,248,0)"/><rect x="534.95" y="259.37" width="13.04" height="12.86" fill="rgb(255,251,0)"/><rect x="547.94" y="259.37" width="13.04" height="12.86" fill="rgb(255,248,0)"/><rect x="560.93" y="259.37" width="13.04" height="12.86" fill="rgb(255,250,0)"/><rect x="573.92" y="259.37" width="13.04" height="12.86" fill="rgb(255,248,0)"/><rect x="586.90" y="259.37" width="13.04" height="12.86" fill="rgb(255,251,0)"/><rect x="599.89" y="259.37" width="13.04" height="12.86" fill="rgb(255,252,0)"/><rect x="612.88" y="259.37" width="13.04" height="12.86" fill="rgb(255,252,0)"/><rect x="625.86" y="259.37" width="13.04" height="12.86" fill="rgb(255,246,0)"/><rect x="638.85" y="259.37" width="13.04" height="12.86" fill="rgb(255,251,0)"/><rect x="651.84" y="259.37" width="13.04" height="12.86" fill="rgb(255,250,0)"/><rect x="664.83" y="259.37" width="13.04" height="12.86" fill="rgb(255,246,0)"/><rect x="677.81" y="259.37" width="13.04" height="12.86" fill="rgb(255,246,0)"/><rect x="132.35" y="272.17" width="13.04" height="12.86" fill="rgb(255,246,0)"/><rect x="145.34" y="272.17" width="13.04" height="12.86" fill="rgb(255,166,0)"/><rect x="158.32" y="272.17" width="13.04" height="12.86" fill="rgb(255,164,0)"/><rect x="171.31" y="272.17" width="13.04" height="12.86" fill="rgb(255,206,0)"/><rect x="184.30" y="272.17" width="13.04" height="12.86" fill="rgb(255,196,0)"/><rect x="197.29" y="272.17" width="13.04" height="12.86" fill="rgb(255,128,0)"/><rect x="210.27" y="272.17" width="13.04" height="12.86" fill="rgb(255,189,0)"/><rect x="223.26" y="272.17" width="13.04" height="12.86" fill="rgb(255,135,0)"/><rect x="236.25" y="272.17" width="13.04" height="12.86" fill="rgb(255,0,0)"/><rect x="249.23" y="272.17" width="13.04" height="12.86" fill="rgb(255,251,0)"/><rect x="262.22" y="272.17" width="13.04" height="12.86" fill="rgb(255,248,0)"/><rect x="275.21" y="272.17" width="13.04" height="12.86" fill="rgb(255,251,0)"/><rect x="288.20" y="272.17" width="13.04" height="12.86" fill="rgb(255,248,0)"/><rect x="301.18" y="272.17" width="13.04" height="12.86" fill="rgb(255,251,0)"/><rect x="314.17" y="272.17" width="13.04" height="12.86" fill="rgb(255,250,0)"/><rect x="327.16" y="272.17" width="13.04" height="12.86" fill="rgb(255,246,0)"/><rect x="340.15" y="272.17" width="13.04" height="12.86" fill="rgb(255,251,0)"/><rect x="353.13" y="272.17" width="13.04" height="12.86" fill="rgb(255,251,0)"/><rect x="366.12" y="272.17" width="13.04" height="12.86" fill="rgb(255,251,0)"/><rect x="379.11" y="272.17" width="13.04" height="12.86" fill="rgb(255,246,0)"/><rect x="392.09" y="272.17" width="13.04" height="12.86" fill="rgb(255,248,0)"/><rect x="405.08" y="272.17" width="13.04" height="12.86" fill="rgb(255,248,0)"/><rect x="418.07" y="272.17" width="13.04" height="12.86" fill="rgb(255,248,0)"/><rect x="431.06" y="272.17" width="13.04" height="12.86" fill="rgb(255,246,0)"/><rect x="444.04" y="272.17" width="13.04" height="12.86" fill="rgb(255,248,0)"/><rect x="457.03" y="272.17" width="13.04" height="12.86" fill="rgb(255,252,0)"/><rect x="470.02" y="272.17" width="13.04" height="12.86" fill="rgb(255,251,0)"/><rect x="483.00" y="272.17" width="13.04" height="12.86" fill="rgb(255,248,0)"/><rect x="495.99" y="272.17" width="13.04" height="12.86" fill="rgb(255,252,0)"/><rect x="508.98" y="272.17" width="13.04" height="12.86" fill="rgb(255,252,0)"/><rect x="521.97" y="272.17" width="13.04" height="12.86" fill="rgb(255,251,0)"/><rect x="534.95" y="272.17" width="13.04" height="12.86" fill="rgb(255,250,0)"/><rect x="547.94" y="272.17" width="13.04" height="12.86" fill="rgb(255,248,0)"/><rect x="560.93" y="272.17" width="13.04" height="12.86" fill="rgb(255,252,0)"/><rect x="573.92" y="272.17" width="13.04" height="12.86" fill="rgb(255,252,0)"/><rect x="586.90" y="272.17" width="13.04" height="12.86" fill="rgb(255,248,0)"/><rect x="599.89" y="272.17" width="13.04" height="12.86" fill="rgb(255,246,0)"/><rect x="612.88" y="272.17" width="13.04" height="12.86" fill="rgb(255,246,0)"/><rect x="625.86" y="272.17" width="13.04" height="12.86" fill="rgb(255,246,0)"/><rect x="638.85" y="272.17" width="13.04" height="12.86" fill="rgb(255,252,0)"/><rect x="651.84" y="272.17" width="13.04" height="12.86" fill="rgb(255,248,0)"/><rect x="664.83" y="272.17" width="13.04" height="12.86" fill="rgb(255,251,0)"/><rect x="677.81" y="272.17" width="13.04" height="12.86" fill="rgb(255,248,0)"/><rect x="132.35" y="284.98" width="13.04" height="12.86" fill="rgb(255,250,0)"/><rect x="145.34" y="284.98" width="13.04" height="12.86" fill="rgb(255,248,0)"/><rect x="158.32" y="284.98" width="13.04" height="12.86" fill="rgb(255,246,0)"/><rect x="171.31" y="284.98" width="13.04" height="12.86" fill="rgb(255,246,0)"/><rect x="184.30" y="284.98" width="13.04" height="12.86" fill="rgb(255,251,0)"/><rect x="197.29" y="284.98" width="13.04" height="12.86" fill="rgb(255,251,0)"/><rect x="210.27" y="284.98" width="13.04" height="12.86" fill="rgb(255,251,0)"/><rect x="223.26" y="284.98" width="13.04" height="12.86" fill="rgb(255,248,0)"/><rect x="236.25" y="284.98" width="13.04" height="12.86" fill="rgb(255,251,0)"/><rect x="249.23" y="284.98" width="13.04" height="12.86" fill="rgb(255,0,0)"/><rect x="262.22" y="284.98" width="13.04" height="12.86" fill="rgb(255,144,0)"/><rect x="275.21" y="284.98" width="13.04" height="12.86" fill="rgb(255,214,0)"/><rect x="288.20" y="284.98" width="13.04" height="12.86" fill="rgb(255,189,0)"/><rect x="301.18" y="284.98" width="13.04" height="12.86" fill="rgb(255,178,0)"/><rect x="314.17" y="284.98" width="13.04" height="12.86" fill="rgb(255,142,0)"/><rect x="327.16" y="284.98" width="13.04" height="12.86" fill="rgb(255,241,0)"/><rect x="340.15" y="284.98" width="13.04" height="12.86" fill="rgb(255,239,0)"/><rect x="353.13" y="284.98" width="13.04" height="12.86" fill="rgb(255,239,0)"/><rect x="366.12" y="284.98" width="13.04" height="12.86" fill="rgb(255,242,0)"/><rect x="379.11" y="284.98" width="13.04" height="12.86" fill="rgb(255,242,0)"/><rect x="392.09" y="284.98" width="13.04" height="12.86" fill="rgb(255,242,0)"/><rect x="405.08" y="284.98" width="13.04" height="12.86" fill="rgb(255,242,0)"/><rect x="418.07" y="284.98" width="13.04" height="12.86" fill="rgb(255,238,0)"/><rect x="431.06" y="284.98" width="13.04" height="12.86" fill="rgb(255,238,0)"/><rect x="444.04" y="284.98" width="13.04" height="12.86" fill="rgb(255,238,0)"/><rect x="457.03" y="284.98" width="13.04" height="12.86" fill="rgb(255,242,0)"/><rect x="470.02" y="284.98" width="13.04" height="12.86" fill="rgb(255,242,0)"/><rect x="483.00" y="284.98" width="13.04" height="12.86" fill="rgb(255,246,0)"/><rect x="495.99" y="284.98" width="13.04" height="12.86" fill="rgb(255,240,0)"/><rect x="508.98" y="284.98" width="13.04" height="12.86" fill="rgb(255,240,0)"/><rect x="521.97" y="284.98" width="13.04" height="12.86" fill="rgb(255,234,0)"/><rect x="534.95" y="284.98" width="13.04" height="12.86" fill="rgb(255,234,0)"/><rect x="547.94" y="284.98" width="13.04" height="12.86" fill="rgb(255,234,0)"/><rect x="560.93" y="284.98" width="13.04" height="12.86" fill="rgb(255,234,0)"/><rect x="573.92" y="284.98" width="13.04" height="12.86" fill="rgb(255,234,0)"/><rect x="586.90" y="284.98" width="13.04" height="12.86" fill="rgb(255,238,0)"/><rect x="599.89" y="284.98" width="13.04" height="12.86" fill="rgb(255,235,0)"/><rect x="612.88" y="284.98" width="13.04" height="12.86" fill="rgb(255,240,0)"/><rect x="625.86" y="284.98" width="13.04" height="12.86" fill="rgb(255,238,0)"/><rect x="638.85" y="284.98" width="13.04" height="12.86" fill="rgb(255,247,0)"/><rect x="651.84" y="284.98" width="13.04" height="12.86" fill="rgb(255,242,0)"/><rect x="664.83" y="284.98" width="13.04" height="12.86" fill="rgb(255,238,0)"/><rect x="677.81" y="284.98" width="13.04" height="12.86" fill="rgb(255,242,0)"/><rect x="132.35" y="297.79" width="13.04" height="12.86" fill="rgb(255,248,0)"/><rect x="145.34" y="297.79" width="13.04" height="12.86" fill="rgb(255,250,0)"/><rect x="158.32" y="297.79" width="13.04" height="12.86" fill="rgb(255,252,0)"/><rect x="171.31" y="297.79" width="13.04" height="12.86" fill="rgb(255,250,0)"/><rect x="184.30" y="297.79" width="13.04" height="12.86" fill="rgb(255,248,0)"/><rect x="197.29" y="297.79" width="13.04" height="12.86" fill="rgb(255,246,0)"/><rect x="210.27" y="297.79" width="13.04" height="12.86" fill="rgb(255,251,0)"/><rect x="223.26" y="297.79" width="13.04" height="12.86" fill="rgb(255,251,0)"/><rect x="236.25" y="297.79" width="13.04" height="12.86" fill="rgb(255,248,0)"/><rect x="249.23" y="297.79" width="13.04" height="12.86" fill="rgb(255,144,0)"/><rect x="262.22" y="297.79" width="13.04" height="12.86" fill="rgb(255,0,0)"/><rect x="275.21" y="297.79" width="13.04" height="12.86" fill="rgb(255,214,0)"/><rect x="288.20" y="297.79" width="13.04" height="12.86" fill="rgb(255,183,0)"/><rect x="301.18" y="297.79" width="13.04" height="12.86" fill="rgb(255,178,0)"/><rect x="314.17" y="297.79" width="13.04" height="12.86" fill="rgb(255,142,0)"/><rect x="327.16" y="297.79" width="13.04" height="12.86" fill="rgb(255,239,0)"/><rect x="340.15" y="297.79" width="13.04" height="12.86" fill="rgb(255,235,0)"/><rect x="353.13" y="297.79" width="13.04" height="12.86" fill="rgb(255,235,0)"/><rect x="366.12" y="297.79" width="13.04" height="12.86" fill="rgb(255,242,0)"/><rect x="379.11" y="297.79" width="13.04" height="12.86" fill="rgb(255,242,0)"/><rect x="392.09" y="297.79" width="13.04" height="12.86" fill="rgb(255,242,0)"/><rect x="405.08" y="297.79" width="13.04" height="12.86" fill="rgb(255,242,0)"/><rect x="418.07" y="297.79" width="13.04" height="12.86" fill="rgb(255,238,0)"/><rect x="431.06" y="297.79" width="13.04" height="12.86" fill="rgb(255,238,0)"/><rect x="444.04" y="297.79" width="13.04" height="12.86" fill="rgb(255,238,0)"/><rect x="457.03" y="297.79" width="13.04" height="12.86" fill="rgb(255,242,0)"/><rect x="470.02" y="297.79" width="13.04" height="12.86" fill="rgb(255,242,0)"/><rect x="483.00" y="297.79" width="13.04" height="12.86" fill="rgb(255,240,0)"/><rect x="495.99" y="297.79" width="13.04" height="12.86" fill="rgb(255,228,0)"/><rect x="508.98" y="297.79" width="13.04" height="12.86" fill="rgb(255,228,0)"/><rect x="521.97" y="297.79" width="13.04" height="12.86" fill="rgb(255,234,0)"/><rect x="534.95" y="297.79" width="13.04" height="12.86" fill="rgb(255,234,0)"/><rect x="547.94" y="297.79" width="13.04" height="12.86" fill="rgb(255,234,0)"/><rect x="560.93" y="297.79" width="13.04" height="12.86" fill="rgb(255,234,0)"/><rect x="573.92" y="297.79" width="13.04" height="12.86" fill="rgb(255,234,0)"/><rect x="586.90" y="297.79" width="13.04" height="12.86" fill="rgb(255,240,0)"/><rect x="599.89" y="297.79" width="13.04" height="12.86" fill="rgb(255,240,0)"/><rect x="612.88" y="297.79" width="13.04" height="12.86" fill="rgb(255,242,0)"/><rect x="625.86" y="297.79" width="13.04" height="12.86" fill="rgb(255,240,0)"/><rect x="638.85" y="297.79" width="13.04" height="12.86" fill="rgb(255,247,0)"/><rect x="651.84" y="297.79" width="13.04" height="12.86" fill="rgb(255,235,0)"/><rect x="664.83" y="297.79" width="13.04" height="12.86" fill="rgb(255,244,0)"/><rect x="677.81" y="297.79" width="13.04" height="12.86" fill="rgb(255,240,0)"/><rect x="132.35" y="310.60" width="13.04" height="12.86" fill="rgb(255,251,0)"/><rect x="145.34" y="310.60" width="13.04" height="12.86" fill="rgb(255,251,0)"/><rect x="158.32" y="310.60" width="13.04" height="12.86" fill="rgb(255,250,0)"/><rect x="171.31" y="310.60" width="13.04" height="12.86" fill="rgb(255,252,0)"/><rect x="184.30" y="310.60" width="13.04" height="12.86" fill="rgb(255,248,0)"/><rect x="197.29" y="310.60" width="13.04" height="12.86" fill="rgb(255,248,0)"/><rect x="210.27" y="310.60" width="13.04" height="12.86" fill="rgb(255,250,0)"/><rect x="223.26" y="310.60" width="13.04" height="12.86" fill="rgb(255,248,0)"/><rect x="236.25" y="310.60" width="13.04" height="12.86" fill="rgb(255,251,0)"/><rect x="249.23" y="310.60" width="13.04" height="12.86" fill="rgb(255,214,0)"/><rect x="262.22" y="310.60" width="13.04" height="12.86" fill="rgb(255,214,0)"/><rect x="275.21" y="310.60" width="13.04" height="12.86" fill="rgb(255,0,0)"/><rect x="288.20" y="310.60" width="13.04" height="12.86" fill="rgb(255,138,0)"/><rect x="301.18" y="310.60" width="13.04" height="12.86" fill="rgb(255,198,0)"/><rect x="314.17" y="310.60" width="13.04" height="12.86" fill="rgb(255,200,0)"/><rect x="327.16" y="310.60" width="13.04" height="12.86" fill="rgb(255,239,0)"/><rect x="340.15" y="310.60" width="13.04" height="12.86" fill="rgb(255,235,0)"/><rect x="353.13" y="310.60" width="13.04" height="12.86" fill="rgb(255,235,0)"/><rect x="366.12" y="310.60" width="13.04" height="12.86" fill="rgb(255,242,0)"/><rect x="379.11" y="310.60" width="13.04" height="12.86" fill="rgb(255,242,0)"/><rect x="392.09" y="310.60" width="13.04" height="12.86" fill="rgb(255,242,0)"/><rect x="405.08" y="310.60" width="13.04" height="12.86" fill="rgb(255,242,0)"/><rect x="418.07" y="310.60" width="13.04" height="12.86" fill="rgb(255,238,0)"/><rect x="431.06" y="310.60" width="13.04" height="12.86" fill="rgb(255,238,0)"/><rect x="444.04" y="310.60" width="13.04" height="12.86" fill="rgb(255,238,0)"/><rect x="457.03" y="310.60" width="13.04" height="12.86" fill="rgb(255,242,0)"/><rect x="470.02" y="310.60" width="13.04" height="12.86" fill="rgb(255,242,0)"/><rect x="483.00" y="310.60" width="13.04" height="12.86" fill="rgb(255,234,0)"/><rect x="495.99" y="310.60" width="13.04" height="12.86" fill="rgb(255,217,0)"/><rect x="508.98" y="310.60" width="13.04" height="12.86" fill="rgb(255,217,0)"/><rect x="521.97" y="310.60" width="13.04" height="12.86" fill="rgb(255,234,0)"/><rect x="534.95" y="310.60" width="13.04" height="12.86" fill="rgb(255,228,0)"/><rect x="547.94" y="310.60" width="13.04" height="12.86" fill="rgb(255,234,0)"/><rect x="560.93" y="310.60" width="13.04" height="12.86" fill="rgb(255,234,0)"/><rect x="573.92" y="310.60" width="13.04" height="12.86" fill="rgb(255,228,0)"/><rect x="586.90" y="310.60" width="13.04" height="12.86" fill="rgb(255,240,0)"/><rect x="599.89" y="310.60" width="13.04" height="12.86" fill="rgb(255,244,0)"/><rect x="612.88" y="310.60" width="13.04" height="12.86" fill="rgb(255,242,0)"/><rect x="625.86" y="310.60" width="13.04" height="12.86" fill="rgb(255,242,0)"/><rect x="638.85" y="310.60" width="13.04" height="12.86" fill="rgb(255,247,0)"/><rect x="651.84" y="310.60" width="13.04" height="12.86" fill="rgb(255,242,0)"/><rect x="664.83" y="310.60" width="13.04" height="12.86" fill="rgb(255,238,0)"/><rect x="677.81" y="310.60" width="13.04" height="12.86" fill="rgb(255,242,0)"/><rect x="132.35" y="323.41" width="13.04" height="12.86" fill="rgb(255,246,0)"/><rect x="145.34" y="323.41" width="13.04" height="12.86" fill="rgb(255,248,0)"/><rect x="158.32" y="323.41" width="13.04" height="12.86" fill="rgb(255,252,0)"/><rect x="171.31" y="323.41" width="13.04" height="12.86" fill="rgb(255,251,0)"/><rect x="184.30" y="323.41" width="13.04" height="12.86" fill="rgb(255,246,0)"/><rect x="197.29" y="323.41" width="13.04" height="12.86" fill="rgb(255,246,0)"/><rect x="210.27" y="323.41" width="13.04" height="12.86" fill="rgb(255,246,0)"/><rect x="223.26" y="323.41" width="13.04" height="12.86" fill="rgb(255,248,0)"/><rect x="236.25" y="323.41" width="13.04" height="12.86" fill="rgb(255,248,0)"/><rect x="249.23" y="323.41" width="13.04" height="12.86" fill="rgb(255,189,0)"/><rect x="262.22" y="323.41" width="13.04" height="12.86" fill="rgb(255,183,0)"/><rect x="275.21" y="323.41" width="13.04" height="12.86" fill="rgb(255,138,0)"/><rect x="288.20" y="323.41" width="13.04" height="12.86" fill="rgb(255,0,0)"/><rect x="301.18" y="323.41" width="13.04" height="12.86" fill="rgb(255,144,0)"/><rect x="314.17" y="323.41" width="13.04" height="12.86" fill="rgb(255,136,0)"/><rect x="327.16" y="323.41" width="13.04" height="12.86" fill="rgb(255,218,0)"/><rect x="340.15" y="323.41" width="13.04" height="12.86" fill="rgb(255,218,0)"/><rect x="353.13" y="323.41" width="13.04" height="12.86" fill="rgb(255,218,0)"/><rect x="366.12" y="323.41" width="13.04" height="12.86" fill="rgb(255,231,0)"/><rect x="379.11" y="323.41" width="13.04" height="12.86" fill="rgb(255,231,0)"/><rect x="392.09" y="323.41" width="13.04" height="12.86" fill="rgb(255,231,0)"/><rect x="405.08" y="323.41" width="13.04" height="12.86" fill="rgb(255,231,0)"/><rect x="418.07" y="323.41" width="13.04" height="12.86" fill="rgb(255,219,0)"/><rect x="431.06" y="323.41" width="13.04" height="12.86" fill="rgb(255,219,0)"/><rect x="444.04" y="323.41" width="13.04" height="12.86" fill="rgb(255,212,0)"/><rect x="457.03" y="323.41" width="13.04" height="12.86" fill="rgb(255,231,0)"/><rect x="470.02" y="323.41" width="13.04" height="12.86" fill="rgb(255,231,0)"/><rect x="483.00" y="323.41" width="13.04" height="12.86" fill="rgb(255,228,0)"/><rect x="495.99" y="323.41" width="13.04" height="12.86" fill="rgb(255,205,0)"/><rect x="508.98" y="323.41" width="13.04" height="12.86" fill="rgb(255,207,0)"/><rect x="521.97" y="323.41" width="13.04" height="12.86" fill="rgb(255,222,0)"/><rect x="534.95" y="323.41" width="13.04" height="12.86" fill="rgb(255,222,0)"/><rect x="547.94" y="323.41" width="13.04" height="12.86" fill="rgb(255,226,0)"/><rect x="560.93" y="323.41" width="13.04" height="12.86" fill="rgb(255,214,0)"/><rect x="573.92" y="323.41" width="13.04" height="12.86" fill="rgb(255,217,0)"/><rect x="586.90" y="323.41" width="13.04" height="12.86" fill="rgb(255,238,0)"/><rect x="599.89" y="323.41" width="13.04" height="12.86" fill="rgb(255,242,0)"/><rect x="612.88" y="323.41" width="13.04" height="12.86" fill="rgb(255,242,0)"/><rect x="625.86" y="323.41" width="13.04" height="12.86" fill="rgb(255,235,0)"/><rect x="638.85" y="323.41" width="13.04" height="12.86" fill="rgb(255,247,0)"/><rect x="651.84" y="323.41" width="13.04" height="12.86" fill="rgb(255,238,0)"/><rect x="664.83" y="323.41" width="13.04" height="12.86" fill="rgb(255,242,0)"/><rect x="677.81" y="323.41" width="13.04" height="12.86" fill="rgb(255,235,0)"/><rect x="132.35" y="336.22" width="13.04" height="12.86" fill="rgb(255,246,0)"/><rect x="145.34" y="336.22" width="13.04" height="12.86" fill="rgb(255,252,0)"/><rect x="158.32" y="336.22" width="13.04" height="12.86" fill="rgb(255,251,0)"/><rect x="171.31" y="336.22" width="13.04" height="12.86" fill="rgb(255,250,0)"/><rect x="184.30" y="336.22" width="13.04" height="12.86" fill="rgb(255,248,0)"/><rect x="197.29" y="336.22" width="13.04" height="12.86" fill="rgb(255,248,0)"/><rect x="210.27" y="336.22" width="13.04" height="12.86" fill="rgb(255,248,0)"/><rect x="223.26" y="336.22" width="13.04" height="12.86" fill="rgb(255,252,0)"/><rect x="236.25" y="336.22" width="13.04" height="12.86" fill="rgb(255,251,0)"/><rect x="249.23" y="336.22" width="13.04" height="12.86" fill="rgb(255,178,0)"/><rect x="262.22" y="336.22" width="13.04" height="12.86" fill="rgb(255,178,0)"/><rect x="275.21" y="336.22" width="13.04" height="12.86" fill="rgb(255,198,0)"/><rect x="288.20" y="336.22" width="13.04" height="12.86" fill="rgb(255,144,0)"/><rect x="301.18" y="336.22" width="13.04" height="12.86" fill="rgb(255,0,0)"/><rect x="314.17" y="336.22" width="13.04" height="12.86" fill="rgb(255,110,0)"/><rect x="327.16" y="336.22" width="13.04" height="12.86" fill="rgb(255,218,0)"/><rect x="340.15" y="336.22" width="13.04" height="12.86" fill="rgb(255,218,0)"/><rect x="353.13" y="336.22" width="13.04" height="12.86" fill="rgb(255,218,0)"/><rect x="366.12" y="336.22" width="13.04" height="12.86" fill="rgb(255,231,0)"/><rect x="379.11" y="336.22" width="13.04" height="12.86" fill="rgb(255,231,0)"/><rect x="392.09" y="336.22" width="13.04" height="12.86" fill="rgb(255,231,0)"/><rect x="405.08" y="336.22" width="13.04" height="12.86" fill="rgb(255,231,0)"/><rect x="418.07" y="336.22" width="13.04" height="12.86" fill="rgb(255,219,0)"/><rect x="431.06" y="336.22" width="13.04" height="12.86" fill="rgb(255,219,0)"/><rect x="444.04" y="336.22" width="13.04" height="12.86" fill="rgb(255,212,0)"/><rect x="457.03" y="336.22" width="13.04" height="12.86" fill="rgb(255,231,0)"/><rect x="470.02" y="336.22" width="13.04" height="12.86" fill="rgb(255,231,0)"/><rect x="483.00" y="336.22" width="13.04" height="12.86" fill="rgb(255,228,0)"/><rect x="495.99" y="336.22" width="13.04" height="12.86" fill="rgb(255,217,0)"/><rect x="508.98" y="336.22" width="13.04" height="12.86" fill="rgb(255,217,0)"/><rect x="521.97" y="336.22" width="13.04" height="12.86" fill="rgb(255,222,0)"/><rect x="534.95" y="336.22" width="13.04" height="12.86" fill="rgb(255,199,0)"/><rect x="547.94" y="336.22" width="13.04" height="12.86" fill="rgb(255,226,0)"/><rect x="560.93" y="336.22" width="13.04" height="12.86" fill="rgb(255,219,0)"/><rect x="573.92" y="336.22" width="13.04" height="12.86" fill="rgb(255,219,0)"/><rect x="586.90" y="336.22" width="13.04" height="12.86" fill="rgb(255,238,0)"/><rect x="599.89" y="336.22" width="13.04" height="12.86" fill="rgb(255,238,0)"/><rect x="612.88" y="336.22" width="13.04" height="12.86" fill="rgb(255,238,0)"/><rect x="625.86" y="336.22" width="13.04" height="12.86" fill="rgb(255,240,0)"/><rect x="638.85" y="336.22" width="13.04" height="12.86" fill="rgb(255,247,0)"/><rect x="651.84" y="336.22" width="13.04" height="12.86" fill="rgb(255,244,0)"/><rect x="664.83" y="336.22" width="13.04" height="12.86" fill="rgb(255,235,0)"/><rect x="677.81" y="336.22" width="13.04" height="12.86" fill="rgb(255,242,0)"/><rect x="132.35" y="349.03" width="13.04" height="12.86" fill="rgb(255,252,0)"/><rect x="145.34" y="349.03" width="13.04" height="12.86" fill="rgb(255,246,0)"/><rect x="158.32" y="349.03" width="13.04" height="12.86" fill="rgb(255,250,0)"/><rect x="171.31" y="349.03" width="13.04" height="12.86" fill="rgb(255,251,0)"/><rect x="184.30" y="349.03" width="13.04" height="12.86" fill="rgb(255,248,0)"/><rect x="197.29" y="349.03" width="13.04" height="12.86" fill="rgb(255,251,0)"/><rect x="210.27" y="349.03" width="13.04" height="12.86" fill="rgb(255,246,0)"/><rect x="223.26" y="349.03" width="13.04" height="12.86" fill="rgb(255,251,0)"/><rect x="236.25" y="349.03" width="13.04" height="12.86" fill="rgb(255,250,0)"/><rect x="249.23" y="349.03" width="13.04" height="12.86" fill="rgb(255,142,0)"/><rect x="262.22" y="349.03" width="13.04" height="12.86" fill="rgb(255,142,0)"/><rect x="275.21" y="349.03" width="13.04" height="12.86" fill="rgb(255,200,0)"/><rect x="288.20" y="349.03" width="13.04" height="12.86" fill="rgb(255,136,0)"/><rect x="301.18" y="349.03" width="13.04" height="12.86" fill="rgb(255,110,0)"/><rect x="314.17" y="349.03" width="13.04" height="12.86" fill="rgb(255,0,0)"/><rect x="327.16" y="349.03" width="13.04" height="12.86" fill="rgb(255,215,0)"/><rect x="340.15" y="349.03" width="13.04" height="12.86" fill="rgb(255,218,0)"/><rect x="353.13" y="349.03" width="13.04" height="12.86" fill="rgb(255,215,0)"/><rect x="366.12" y="349.03" width="13.04" height="12.86" fill="rgb(255,231,0)"/><rect x="379.11" y="349.03" width="13.04" height="12.86" fill="rgb(255,231,0)"/><rect x="392.09" y="349.03" width="13.04" height="12.86" fill="rgb(255,231,0)"/><rect x="405.08" y="349.03" width="13.04" height="12.86" fill="rgb(255,231,0)"/><rect x="418.07" y="349.03" width="13.04" height="12.86" fill="rgb(255,217,0)"/><rect x="431.06" y="349.03" width="13.04" height="12.86" fill="rgb(255,217,0)"/><rect x="444.04" y="349.03" width="13.04" height="12.86" fill="rgb(255,209,0)"/><rect x="457.03" y="349.03" width="13.04" height="12.86" fill="rgb(255,231,0)"/><rect x="470.02" y="349.03" width="13.04" height="12.86" fill="rgb(255,231,0)"/><rect x="483.00" y="349.03" width="13.04" height="12.86" fill="rgb(255,228,0)"/><rect x="495.99" y="349.03" width="13.04" height="12.86" fill="rgb(255,217,0)"/><rect x="508.98" y="349.03" width="13.04" height="12.86" fill="rgb(255,222,0)"/><rect x="521.97" y="349.03" width="13.04" height="12.86" fill="rgb(255,222,0)"/><rect x="534.95" y="349.03" width="13.04" height="12.86" fill="rgb(255,219,0)"/><rect x="547.94" y="349.03" width="13.04" height="12.86" fill="rgb(255,231,0)"/><rect x="560.93" y="349.03" width="13.04" height="12.86" fill="rgb(255,222,0)"/><rect x="573.92" y="349.03" width="13.04" height="12.86" fill="rgb(255,226,0)"/><rect x="586.90" y="349.03" width="13.04" height="12.86" fill="rgb(255,235,0)"/><rect x="599.89" y="349.03" width="13.04" height="12.86" fill="rgb(255,240,0)"/><rect x="612.88" y="349.03" width="13.04" height="12.86" fill="rgb(255,244,0)"/><rect x="625.86" y="349.03" width="13.04" height="12.86" fill="rgb(255,242,0)"/><rect x="638.85" y="349.03" width="13.04" height="12.86" fill="rgb(255,247,0)"/><rect x="651.84" y="349.03" width="13.04" height="12.86" fill="rgb(255,242,0)"/><rect x="664.83" y="349.03" width="13.04" height="12.86" fill="rgb(255,240,0)"/><rect x="677.81" y="349.03" width="13.04" height="12.86" fill="rgb(255,235,0)"/><rect x="132.35" y="361.84" width="13.04" height="12.86" fill="rgb(255,246,0)"/><rect x="145.34" y="361.84" width="13.04" height="12.86" fill="rgb(255,252,0)"/><rect x="158.32" y="361.84" width="13.04" height="12.86" fill="rgb(255,251,0)"/><rect x="171.31" y="361.84" width="13.04" height="12.86" fill="rgb(255,250,0)"/><rect x="184.30" y="361.84" width="13.04" height="12.86" fill="rgb(255,248,0)"/><rect x="197.29" y="361.84" width="13.04" height="12.86" fill="rgb(255,248,0)"/><rect x="210.27" y="361.84" width="13.04" height="12.86" fill="rgb(255,250,0)"/><rect x="223.26" y="361.84" width="13.04" height="12.86" fill="rgb(255,250,0)"/><rect x="236.25" y="361.84" width="13.04" height="12.86" fill="rgb(255,246,0)"/><rect x="249.23" y="361.84" width="13.04" height="12.86" fill="rgb(255,241,0)"/><rect x="262.22" y="361.84" width="13.04" height="12.86" fill="rgb(255,239,0)"/><rect x="275.21" y="361.84" width="13.04" height="12.86" fill="rgb(255,239,0)"/><rect x="288.20" y="361.84" width="13.04" height="12.86" fill="rgb(255,218,0)"/><rect x="301.18" y="361.84" width="13.04" height="12.86" fill="rgb(255,218,0)"/><rect x="314.17" y="361.84" width="13.04" height="12.86" fill="rgb(255,215,0)"/><rect x="327.16" y="361.84" width="13.04" height="12.86" fill="rgb(255,0,0)"/><rect x="340.15" y="361.84" width="13.04" height="12.86" fill="rgb(255,133,0)"/><rect x="353.13" y="361.84" width="13.04" height="12.86" fill="rgb(255,138,0)"/><rect x="366.12" y="361.84" width="13.04" height="12.86" fill="rgb(255,189,0)"/><rect x="379.11" y="361.84" width="13.04" height="12.86" fill="rgb(255,189,0)"/><rect x="392.09" y="361.84" width="13.04" height="12.86" fill="rgb(255,235,0)"/><rect x="405.08" y="361.84" width="13.04" height="12.86" fill="rgb(255,235,0)"/><rect x="418.07" y="361.84" width="13.04" height="12.86" fill="rgb(255,218,0)"/><rect x="431.06" y="361.84" width="13.04" height="12.86" fill="rgb(255,218,0)"/><rect x="444.04" y="361.84" width="13.04" height="12.86" fill="rgb(255,218,0)"/><rect x="457.03" y="361.84" width="13.04" height="12.86" fill="rgb(255,231,0)"/><rect x="470.02" y="361.84" width="13.04" height="12.86" fill="rgb(255,231,0)"/><rect x="483.00" y="361.84" width="13.04" height="12.86" fill="rgb(255,231,0)"/><rect x="495.99" y="361.84" width="13.04" height="12.86" fill="rgb(255,219,0)"/><rect x="508.98" y="361.84" width="13.04" height="12.86" fill="rgb(255,207,0)"/><rect x="521.97" y="361.84" width="13.04" height="12.86" fill="rgb(255,228,0)"/><rect x="534.95" y="361.84" width="13.04" height="12.86" fill="rgb(255,222,0)"/><rect x="547.94" y="361.84" width="13.04" height="12.86" fill="rgb(255,231,0)"/><rect x="560.93" y="361.84" width="13.04" height="12.86" fill="rgb(255,211,0)"/><rect x="573.92" y="361.84" width="13.04" height="12.86" fill="rgb(255,226,0)"/><rect x="586.90" y="361.84" width="13.04" height="12.86" fill="rgb(255,242,0)"/><rect x="599.89" y="361.84" width="13.04" height="12.86" fill="rgb(255,235,0)"/><rect x="612.88" y="361.84" width="13.04" height="12.86" fill="rgb(255,238,0)"/><rect x="625.86" y="361.84" width="13.04" height="12.86" fill="rgb(255,238,0)"/><rect x="638.85" y="361.84" width="13.04" height="12.86" fill="rgb(255,247,0)"/><rect x="651.84" y="361.84" width="13.04" height="12.86" fill="rgb(255,235,0)"/><rect x="664.83" y="361.84" width="13.04" height="12.86" fill="rgb(255,235,0)"/><rect x="677.81" y="361.84" width="13.04" height="12.86" fill="rgb(255,242,0)"/><rect x="132.35" y="374.65" width="13.04" height="12.86" fill="rgb(255,250,0)"/><rect x="145.34" y="374.65" width="13.04" height="12.86" fill="rgb(255,250,0)"/><rect x="158.32" y="374.65" width="13.04" height="12.86" fill="rgb(255,250,0)"/><rect x="171.31" y="374.65" width="13.04" height="12.86" fill="rgb(255,246,0)"/><rect x="184.30" y="374.65" width="13.04" height="12.86" fill="rgb(255,248,0)"/><rect x="197.29" y="374.65" width="13.04" height="12.86" fill="rgb(255,246,0)"/><rect x="210.27" y="374.65" width="13.04" height="12.86" fill="rgb(255,250,0)"/><rect x="223.26" y="374.65" width="13.04" height="12.86" fill="rgb(255,246,0)"/><rect x="236.25" y="374.65" width="13.04" height="12.86" fill="rgb(255,251,0)"/><rect x="249.23" y="374.65" width="13.04" height="12.86" fill="rgb(255,239,0)"/><rect x="262.22" y="374.65" width="13.04" height="12.86" fill="rgb(255,235,0)"/><rect x="275.21" y="374.65" width="13.04" height="12.86" fill="rgb(255,235,0)"/><rect x="288.20" y="374.65" width="13.04" height="12.86" fill="rgb(255,218,0)"/><rect x="301.18" y="374.65" width="13.04" height="12.86" fill="rgb(255,218,0)"/><rect x="314.17" y="374.65" width="13.04" height="12.86" fill="rgb(255,218,0)"/><rect x="327.16" y="374.65" width="13.04" height="12.86" fill="rgb(255,133,0)"/><rect x="340.15" y="374.65" width="13.04" height="12.86" fill="rgb(255,0,0)"/><rect x="353.13" y="374.65" width="13.04" height="12.86" fill="rgb(255,133,0)"/><rect x="366.12" y="374.65" width="13.04" height="12.86" fill="rgb(255,194,0)"/><rect x="379.11" y="374.65" width="13.04" height="12.86" fill="rgb(255,174,0)"/><rect x="392.09" y="374.65" width="13.04" height="12.86" fill="rgb(255,235,0)"/><rect x="405.08" y="374.65" width="13.04" height="12.86" fill="rgb(255,235,0)"/><rect x="418.07" y="374.65" width="13.04" height="12.86" fill="rgb(255,218,0)"/><rect x="431.06" y="374.65" width="13.04" height="12.86" fill="rgb(255,218,0)"/><rect x="444.04" y="374.65" width="13.04" height="12.86" fill="rgb(255,218,0)"/><rect x="457.03" y="374.65" width="13.04" height="12.86" fill="rgb(255,235,0)"/><rect x="470.02" y="374.65" width="13.04" height="12.86" fill="rgb(255,235,0)"/><rect x="483.00" y="374.65" width="13.04" height="12.86" fill="rgb(255,231,0)"/><rect x="495.99" y="374.65" width="13.04" height="12.86" fill="rgb(255,222,0)"/><rect x="508.98" y="374.65" width="13.04" height="12.86" fill="rgb(255,222,0)"/><rect x="521.97" y="374.65" width="13.04" height="12.86" fill="rgb(255,228,0)"/><rect x="534.95" y="374.65" width="13.04" height="12.86" fill="rgb(255,228,0)"/><rect x="547.94" y="374.65" width="13.04" height="12.86" fill="rgb(255,231,0)"/><rect x="560.93" y="374.65" width="13.04" height="12.86" fill="rgb(255,217,0)"/><rect x="573.92" y="374.65" width="13.04" height="12.86" fill="rgb(255,228,0)"/><rect x="586.90" y="374.65" width="13.04" height="12.86" fill="rgb(255,240,0)"/><rect x="599.89" y="374.65" width="13.04" height="12.86" fill="rgb(255,242,0)"/><rect x="612.88" y="374.65" width="13.04" height="12.86" fill="rgb(255,235,0)"/><rect x="625.86" y="374.65" width="13.04" height="12.86" fill="rgb(255,235,0)"/><rect x="638.85" y="374.65" width="13.04" height="12.86" fill="rgb(255,247,0)"/><rect x="651.84" y="374.65" width="13.04" height="12.86" fill="rgb(255,240,0)"/><rect x="664.83" y="374.65" width="13.04" height="12.86" fill="rgb(255,242,0)"/><rect x="677.81" y="374.65" width="13.04" height="12.86" fill="rgb(255,242,0)"/><rect x="132.35" y="387.46" width="13.04" height="12.86" fill="rgb(255,252,0)"/><rect x="145.34" y="387.46" width="13.04" height="12.86" fill="rgb(255,252,0)"/><rect x="158.32" y="387.46" width="13.04" height="12.86" fill="rgb(255,252,0)"/><rect x="171.31" y="387.46" width="13.04" height="12.86" fill="rgb(255,251,0)"/><rect x="184.30" y="387.46" width="13.04" height="12.86" fill="rgb(255,246,0)"/><rect x="197.29" y="387.46" width="13.04" height="12.86" fill="rgb(255,250,0)"/><rect x="210.27" y="387.46" width="13.04" height="12.86" fill="rgb(255,251,0)"/><rect x="223.26" y="387.46" width="13.04" height="12.86" fill="rgb(255,246,0)"/><rect x="236.25" y="387.46" width="13.04" height="12.86" fill="rgb(255,251,0)"/><rect x="249.23" y="387.46" width="13.04" height="12.86" fill="rgb(255,239,0)"/><rect x="262.22" y="387.46" width="13.04" height="12.86" fill="rgb(255,235,0)"/><rect x="275.21" y="387.46" width="13.04" height="12.86" fill="rgb(255,235,0)"/><rect x="288.20" y="387.46" width="13.04" height="12.86" fill="rgb(255,218,0)"/><rect x="301.18" y="387.46" width="13.04" height="12.86" fill="rgb(255,218,0)"/><rect x="314.17" y="387.46" width="13.04" height="12.86" fill="rgb(255,215,0)"/><rect x="327.16" y="387.46" width="13.04" height="12.86" fill="rgb(255,138,0)"/><rect x="340.15" y="387.46" width="13.04" height="12.86" fill="rgb(255,133,0)"/><rect x="353.13" y="387.46" width="13.04" height="12.86" fill="rgb(255,0,0)"/><rect x="366.12" y="387.46" width="13.04" height="12.86" fill="rgb(255,200,0)"/><rect x="379.11" y="387.46" width="13.04" height="12.86" fill="rgb(255,122,0)"/><rect x="392.09" y="387.46" width="13.04" height="12.86" fill="rgb(255,241,0)"/><rect x="405.08" y="387.46" width="13.04" height="12.86" fill="rgb(255,241,0)"/><rect x="418.07" y="387.46" width="13.04" height="12.86" fill="rgb(255,224,0)"/><rect x="431.06" y="387.46" width="13.04" height="12.86" fill="rgb(255,218,0)"/><rect x="444.04" y="387.46" width="13.04" height="12.86" fill="rgb(255,224,0)"/><rect x="457.03" y="387.46" width="13.04" height="12.86" fill="rgb(255,241,0)"/><rect x="470.02" y="387.46" width="13.04" height="12.86" fill="rgb(255,241,0)"/><rect x="483.00" y="387.46" width="13.04" height="12.86" fill="rgb(255,231,0)"/><rect x="495.99" y="387.46" width="13.04" height="12.86" fill="rgb(255,211,0)"/><rect x="508.98" y="387.46" width="13.04" height="12.86" fill="rgb(255,222,0)"/><rect x="521.97" y="387.46" width="13.04" height="12.86" fill="rgb(255,226,0)"/><rect x="534.95" y="387.46" width="13.04" height="12.86" fill="rgb(255,228,0)"/><rect x="547.94" y="387.46" width="13.04" height="12.86" fill="rgb(255,231,0)"/><rect x="560.93" y="387.46" width="13.04" height="12.86" fill="rgb(255,222,0)"/><rect x="573.92" y="387.46" width="13.04" height="12.86" fill="rgb(255,231,0)"/><rect x="586.90" y="387.46" width="13.04" height="12.86" fill="rgb(255,242,0)"/><rect x="599.89" y="387.46" width="13.04" height="12.86" fill="rgb(255,242,0)"/><rect x="612.88" y="387.46" width="13.04" height="12.86" fill="rgb(255,238,0)"/><rect x="625.86" y="387.46" width="13.04" height="12.86" fill="rgb(255,244,0)"/><rect x="638.85" y="387.46" width="13.04" height="12.86" fill="rgb(255,247,0)"/><rect x="651.84" y="387.46" width="13.04" height="12.86" fill="rgb(255,240,0)"/><rect x="664.83" y="387.46" width="13.04" height="12.86" fill="rgb(255,242,0)"/><rect x="677.81" y="387.46" width="13.04" height="12.86" fill="rgb(255,242,0)"/><rect x="132.35" y="400.27" width="13.04" height="12.86" fill="rgb(255,246,0)"/><rect x="145.34" y="400.27" width="13.04" height="12.86" fill="rgb(255,248,0)"/><rect x="158.32" y="400.27" width="13.04" height="12.86" fill="rgb(255,246,0)"/><rect x="171.31" y="400.27" width="13.04" height="12.86" fill="rgb(255,250,0)"/><rect x="184.30" y="400.27" width="13.04" height="12.86" fill="rgb(255,251,0)"/><rect x="197.29" y="400.27" width="13.04" height="12.86" fill="rgb(255,252,0)"/><rect x="210.27" y="400.27" width="13.04" height="12.86" fill="rgb(255,248,0)"/><rect x="223.26" y="400.27" width="13.04" height="12.86" fill="rgb(255,250,0)"/><rect x="236.25" y="400.27" width="13.04" height="12.86" fill="rgb(255,251,0)"/><rect x="249.23" y="400.27" width="13.04" height="12.86" fill="rgb(255,242,0)"/><rect x="262.22" y="400.27" width="13.04" height="12.86" fill="rgb(255,242,0)"/><rect x="275.21" y="400.27" width="13.04" height="12.86" fill="rgb(255,242,0)"/><rect x="288.20" y="400.27" width="13.04" height="12.86" fill="rgb(255,231,0)"/><rect x="301.18" y="400.27" width="13.04" height="12.86" fill="rgb(255,231,0)"/><rect x="314.17" y="400.27" width="13.04" height="12.86" fill="rgb(255,231,0)"/><rect x="327.16" y="400.27" width="13.04" height="12.86" fill="rgb(255,189,0)"/><rect x="340.15" y="400.27" width="13.04" height="12.86" fill="rgb(255,194,0)"/><rect x="353.13" y="400.27" width="13.04" height="12.86" fill="rgb(255,200,0)"/><rect x="366.12" y="400.27" width="13.04" height="12.86" fill="rgb(255,0,0)"/><rect x="379.11" y="400.27" width="13.04" height="12.86" fill="rgb(255,144,0)"/><rect x="392.09" y="400.27" width="13.04" height="12.86" fill="rgb(255,235,0)"/><rect x="405.08" y="400.27" width="13.04" height="12.86" fill="rgb(255,235,0)"/><rect x="418.07" y="400.27" width="13.04" height="12.86" fill="rgb(255,235,0)"/><rect x="431.06" y="400.27" width="13.04" height="12.86" fill="rgb(255,235,0)"/><rect x="444.04" y="400.27" width="13.04" height="12.86" fill="rgb(255,230,0)"/><rect x="457.03" y="400.27" width="13.04" height="12.86" fill="rgb(255,244,0)"/><rect x="470.02" y="400.27" width="13.04" height="12.86" fill="rgb(255,235,0)"/><rect x="483.00" y="400.27" width="13.04" height="12.86" fill="rgb(255,240,0)"/><rect x="495.99" y="400.27" width="13.04" height="12.86" fill="rgb(255,228,0)"/><rect x="508.98" y="400.27" width="13.04" height="12.86" fill="rgb(255,234,0)"/><rect x="521.97" y="400.27" width="13.04" height="12.86" fill="rgb(255,234,0)"/><rect x="534.95" y="400.27" width="13.04" height="12.86" fill="rgb(255,234,0)"/><rect x="547.94" y="400.27" width="13.04" height="12.86" fill="rgb(255,240,0)"/><rect x="560.93" y="400.27" width="13.04" height="12.86" fill="rgb(255,228,0)"/><rect x="573.92" y="400.27" width="13.04" height="12.86" fill="rgb(255,234,0)"/><rect x="586.90" y="400.27" width="13.04" height="12.86" fill="rgb(255,240,0)"/><rect x="599.89" y="400.27" width="13.04" height="12.86" fill="rgb(255,242,0)"/><rect x="612.88" y="400.27" width="13.04" height="12.86" fill="rgb(255,238,0)"/><rect x="625.86" y="400.27" width="13.04" height="12.86" fill="rgb(255,244,0)"/><rect x="638.85" y="400.27" width="13.04" height="12.86" fill="rgb(255,247,0)"/><rect x="651.84" y="400.27" width="13.04" height="12.86" fill="rgb(255,240,0)"/><rect x="664.83" y="400.27" width="13.04" height="12.86" fill="rgb(255,242,0)"/><rect x="677.81" y="400.27" width="13.04" height="12.86" fill="rgb(255,238,0)"/><rect x="132.35" y="413.08" width="13.04" height="12.86" fill="rgb(255,252,0)"/><rect x="145.34" y="413.08" width="13.04" height="12.86" fill="rgb(255,246,0)"/><rect x="158.32" y="413.08" width="13.04" height="12.86" fill="rgb(255,246,0)"/><rect x="171.31" y="413.08" width="13.04" height="12.86" fill="rgb(255,248,0)"/><rect x="184.30" y="413.08" width="13.04" height="12.86" fill="rgb(255,252,0)"/><rect x="197.29" y="413.08" width="13.04" height="12.86" fill="rgb(255,246,0)"/><rect x="210.27" y="413.08" width="13.04" height="12.86" fill="rgb(255,252,0)"/><rect x="223.26" y="413.08" width="13.04" height="12.86" fill="rgb(255,251,0)"/><rect x="236.25" y="413.08" width="13.04" height="12.86" fill="rgb(255,246,0)"/><rect x="249.23" y="413.08" width="13.04" height="12.86" fill="rgb(255,242,0)"/><rect x="262.22" y="413.08" width="13.04" height="12.86" fill="rgb(255,242,0)"/><rect x="275.21" y="413.08" width="13.04" height="12.86" fill="rgb(255,242,0)"/><rect x="288.20" y="413.08" width="13.04" height="12.86" fill="rgb(255,231,0)"/><rect x="301.18" y="413.08" width="13.04" height="12.86" fill="rgb(255,231,0)"/><rect x="314.17" y="413.08" width="13.04" height="12.86" fill="rgb(255,231,0)"/><rect x="327.16" y="413.08" width="13.04" height="12.86" fill="rgb(255,189,0)"/><rect x="340.15" y="413.08" width="13.04" height="12.86" fill="rgb(255,174,0)"/><rect x="353.13" y="413.08" width="13.04" height="12.86" fill="rgb(255,122,0)"/><rect x="366.12" y="413.08" width="13.04" height="12.86" fill="rgb(255,144,0)"/><rect x="379.11" y="413.08" width="13.04" height="12.86" fill="rgb(255,0,0)"/><rect x="392.09" y="413.08" width="13.04" height="12.86" fill="rgb(255,235,0)"/><rect x="405.08" y="413.08" width="13.04" height="12.86" fill="rgb(255,235,0)"/><rect x="418.07" y="413.08" width="13.04" height="12.86" fill="rgb(255,235,0)"/><rect x="431.06" y="413.08" width="13.04" height="12.86" fill="rgb(255,230,0)"/><rect x="444.04" y="413.08" width="13.04" height="12.86" fill="rgb(255,224,0)"/><rect x="457.03" y="413.08" width="13.04" height="12.86" fill="rgb(255,241,0)"/><rect x="470.02" y="413.08" width="13.04" height="12.86" fill="rgb(255,235,0)"/><rect x="483.00" y="413.08" width="13.04" height="12.86" fill="rgb(255,234,0)"/><rect x="495.99" y="413.08" width="13.04" height="12.86" fill="rgb(255,222,0)"/><rect x="508.98" y="413.08" width="13.04" height="12.86" fill="rgb(255,234,0)"/><rect x="521.97" y="413.08" width="13.04" height="12.86" fill="rgb(255,222,0)"/><rect x="534.95" y="413.08" width="13.04" height="12.86" fill="rgb(255,234,0)"/><rect x="547.94" y="413.08" width="13.04" height="12.86" fill="rgb(255,240,0)"/><rect x="560.93" y="413.08" width="13.04" height="12.86" fill="rgb(255,234,0)"/><rect x="573.92" y="413.08" width="13.04" height="12.86" fill="rgb(255,234,0)"/><rect x="586.90" y="413.08" width="13.04" height="12.86" fill="rgb(255,240,0)"/><rect x="599.89" y="413.08" width="13.04" height="12.86" fill="rgb(255,238,0)"/><rect x="612.88" y="413.08" width="13.04" height="12.86" fill="rgb(255,240,0)"/><rect x="625.86" y="413.08" width="13.04" height="12.86" fill="rgb(255,235,0)"/><rect x="638.85" y="413.08" width="13.04" height="12.86" fill="rgb(255,247,0)"/><rect x="651.84" y="413.08" width="13.04" height="12.86" fill="rgb(255,240,0)"/><rect x="664.83" y="413.08" width="13.04" height="12.86" fill="rgb(255,240,0)"/><rect x="677.81" y="413.08" width="13.04" height="12.86" fill="rgb(255,235,0)"/><rect x="132.35" y="425.89" width="13.04" height="12.86" fill="rgb(255,248,0)"/><rect x="145.34" y="425.89" width="13.04" height="12.86" fill="rgb(255,252,0)"/><rect x="158.32" y="425.89" width="13.04" height="12.86" fill="rgb(255,252,0)"/><rect x="171.31" y="425.89" width="13.04" height="12.86" fill="rgb(255,252,0)"/><rect x="184.30" y="425.89" width="13.04" height="12.86" fill="rgb(255,248,0)"/><rect x="197.29" y="425.89" width="13.04" height="12.86" fill="rgb(255,246,0)"/><rect x="210.27" y="425.89" width="13.04" height="12.86" fill="rgb(255,246,0)"/><rect x="223.26" y="425.89" width="13.04" height="12.86" fill="rgb(255,250,0)"/><rect x="236.25" y="425.89" width="13.04" height="12.86" fill="rgb(255,248,0)"/><rect x="249.23" y="425.89" width="13.04" height="12.86" fill="rgb(255,242,0)"/><rect x="262.22" y="425.89" width="13.04" height="12.86" fill="rgb(255,242,0)"/><rect x="275.21" y="425.89" width="13.04" height="12.86" fill="rgb(255,242,0)"/><rect x="288.20" y="425.89" width="13.04" height="12.86" fill="rgb(255,231,0)"/><rect x="301.18" y="425.89" width="13.04" height="12.86" fill="rgb(255,231,0)"/><rect x="314.17" y="425.89" width="13.04" height="12.86" fill="rgb(255,231,0)"/><rect x="327.16" y="425.89" width="13.04" height="12.86" fill="rgb(255,235,0)"/><rect x="340.15" y="425.89" width="13.04" height="12.86" fill="rgb(255,235,0)"/><rect x="353.13" y="425.89" width="13.04" height="12.86" fill="rgb(255,241,0)"/><rect x="366.12" y="425.89" width="13.04" height="12.86" fill="rgb(255,235,0)"/><rect x="379.11" y="425.89" width="13.04" height="12.86" fill="rgb(255,235,0)"/><rect x="392.09" y="425.89" width="13.04" height="12.86" fill="rgb(255,0,0)"/><rect x="405.08" y="425.89" width="13.04" height="12.86" fill="rgb(255,138,0)"/><rect x="418.07" y="425.89" width="13.04" height="12.86" fill="rgb(255,192,0)"/><rect x="431.06" y="425.89" width="13.04" height="12.86" fill="rgb(255,144,0)"/><rect x="444.04" y="425.89" width="13.04" height="12.86" fill="rgb(255,189,0)"/><rect x="457.03" y="425.89" width="13.04" height="12.86" fill="rgb(255,226,0)"/><rect x="470.02" y="425.89" width="13.04" height="12.86" fill="rgb(255,230,0)"/><rect x="483.00" y="425.89" width="13.04" height="12.86" fill="rgb(255,234,0)"/><rect x="495.99" y="425.89" width="13.04" height="12.86" fill="rgb(255,228,0)"/><rect x="508.98" y="425.89" width="13.04" height="12.86" fill="rgb(255,234,0)"/><rect x="521.97" y="425.89" width="13.04" height="12.86" fill="rgb(255,217,0)"/><rect x="534.95" y="425.89" width="13.04" height="12.86" fill="rgb(255,211,0)"/><rect x="547.94" y="425.89" width="13.04" height="12.86" fill="rgb(255,240,0)"/><rect x="560.93" y="425.89" width="13.04" height="12.86" fill="rgb(255,234,0)"/><rect x="573.92" y="425.89" width="13.04" height="12.86" fill="rgb(255,234,0)"/><rect x="586.90" y="425.89" width="13.04" height="12.86" fill="rgb(255,244,0)"/><rect x="599.89" y="425.89" width="13.04" height="12.86" fill="rgb(255,238,0)"/><rect x="612.88" y="425.89" width="13.04" height="12.86" fill="rgb(255,240,0)"/><rect x="625.86" y="425.89" width="13.04" height="12.86" fill="rgb(255,235,0)"/><rect x="638.85" y="425.89" width="13.04" height="12.86" fill="rgb(255,247,0)"/><rect x="651.84" y="425.89" width="13.04" height="12.86" fill="rgb(255,244,0)"/><rect x="664.83" y="425.89" width="13.04" height="12.86" fill="rgb(255,240,0)"/><rect x="677.81" y="425.89" width="13.04" height="12.86" fill="rgb(255,235,0)"/><rect x="132.35" y="438.70" width="13.04" height="12.86" fill="rgb(255,246,0)"/><rect x="145.34" y="438.70" width="13.04" height="12.86" fill="rgb(255,252,0)"/><rect x="158.32" y="438.70" width="13.04" height="12.86" fill="rgb(255,251,0)"/><rect x="171.31" y="438.70" width="13.04" height="12.86" fill="rgb(255,246,0)"/><rect x="184.30" y="438.70" width="13.04" height="12.86" fill="rgb(255,250,0)"/><rect x="197.29" y="438.70" width="13.04" height="12.86" fill="rgb(255,246,0)"/><rect x="210.27" y="438.70" width="13.04" height="12.86" fill="rgb(255,248,0)"/><rect x="223.26" y="438.70" width="13.04" height="12.86" fill="rgb(255,248,0)"/><rect x="236.25" y="438.70" width="13.04" height="12.86" fill="rgb(255,248,0)"/><rect x="249.23" y="438.70" width="13.04" height="12.86" fill="rgb(255,242,0)"/><rect x="262.22" y="438.70" width="13.04" height="12.86" fill="rgb(255,242,0)"/><rect x="275.21" y="438.70" width="13.04" height="12.86" fill="rgb(255,242,0)"/><rect x="288.20" y="438.70" width="13.04" height="12.86" fill="rgb(255,231,0)"/><rect x="301.18" y="438.70" width="13.04" height="12.86" fill="rgb(255,231,0)"/><rect x="314.17" y="438.70" width="13.04" height="12.86" fill="rgb(255,231,0)"/><rect x="327.16" y="438.70" width="13.04" height="12.86" fill="rgb(255,235,0)"/><rect x="340.15" y="438.70" width="13.04" height="12.86" fill="rgb(255,235,0)"/><rect x="353.13" y="438.70" width="13.04" height="12.86" fill="rgb(255,241,0)"/><rect x="366.12" y="438.70" width="13.04" height="12.86" fill="rgb(255,235,0)"/><rect x="379.11" y="438.70" width="13.04" height="12.86" fill="rgb(255,235,0)"/><rect x="392.09" y="438.70" width="13.04" height="12.86" fill="rgb(255,138,0)"/><rect x="405.08" y="438.70" width="13.04" height="12.86" fill="rgb(255,0,0)"/><rect x="418.07" y="438.70" width="13.04" height="12.86" fill="rgb(255,197,0)"/><rect x="431.06" y="438.70" width="13.04" height="12.86" fill="rgb(255,144,0)"/><rect x="444.04" y="438.70" width="13.04" height="12.86" fill="rgb(255,189,0)"/><rect x="457.03" y="438.70" width="13.04" height="12.86" fill="rgb(255,226,0)"/><rect x="470.02" y="438.70" width="13.04" height="12.86" fill="rgb(255,233,0)"/><rect x="483.00" y="438.70" width="13.04" height="12.86" fill="rgb(255,234,0)"/><rect x="495.99" y="438.70" width="13.04" height="12.86" fill="rgb(255,234,0)"/><rect x="508.98" y="438.70" width="13.04" height="12.86" fill="rgb(255,234,0)"/><rect x="521.97" y="438.70" width="13.04" height="12.86" fill="rgb(255,234,0)"/><rect x="534.95" y="438.70" width="13.04" height="12.86" fill="rgb(255,234,0)"/><rect x="547.94" y="438.70" width="13.04" height="12.86" fill="rgb(255,240,0)"/><rect x="560.93" y="438.70" width="13.04" height="12.86" fill="rgb(255,234,0)"/><rect x="573.92" y="438.70" width="13.04" height="12.86" fill="rgb(255,234,0)"/><rect x="586.90" y="438.70" width="13.04" height="12.86" fill="rgb(255,238,0)"/><rect x="599.89" y="438.70" width="13.04" height="12.86" fill="rgb(255,244,0)"/><rect x="612.88" y="438.70" width="13.04" height="12.86" fill="rgb(255,244,0)"/><rect x="625.86" y="438.70" width="13.04" height="12.86" fill="rgb(255,244,0)"/><rect x="638.85" y="438.70" width="13.04" height="12.86" fill="rgb(255,247,0)"/><rect x="651.84" y="438.70" width="13.04" height="12.86" fill="rgb(255,238,0)"/><rect x="664.83" y="438.70" width="13.04" height="12.86" fill="rgb(255,240,0)"/><rect x="677.81" y="438.70" width="13.04" height="12.86" fill="rgb(255,238,0)"/><rect x="132.35" y="451.50" width="13.04" height="12.86" fill="rgb(255,246,0)"/><rect x="145.34" y="451.50" width="13.04" height="12.86" fill="rgb(255,248,0)"/><rect x="158.32" y="451.50" width="13.04" height="12.86" fill="rgb(255,248,0)"/><rect x="171.31" y="451.50" width="13.04" height="12.86" fill="rgb(255,251,0)"/><rect x="184.30" y="451.50" width="13.04" height="12.86" fill="rgb(255,250,0)"/><rect x="197.29" y="451.50" width="13.04" height="12.86" fill="rgb(255,252,0)"/><rect x="210.27" y="451.50" width="13.04" height="12.86" fill="rgb(255,252,0)"/><rect x="223.26" y="451.50" width="13.04" height="12.86" fill="rgb(255,252,0)"/><rect x="236.25" y="451.50" width="13.04" height="12.86" fill="rgb(255,248,0)"/><rect x="249.23" y="451.50" width="13.04" height="12.86" fill="rgb(255,238,0)"/><rect x="262.22" y="451.50" width="13.04" height="12.86" fill="rgb(255,238,0)"/><rect x="275.21" y="451.50" width="13.04" height="12.86" fill="rgb(255,238,0)"/><rect x="288.20" y="451.50" width="13.04" height="12.86" fill="rgb(255,219,0)"/><rect x="301.18" y="451.50" width="13.04" height="12.86" fill="rgb(255,219,0)"/><rect x="314.17" y="451.50" width="13.04" height="12.86" fill="rgb(255,217,0)"/><rect x="327.16" y="451.50" width="13.04" height="12.86" fill="rgb(255,218,0)"/><rect x="340.15" y="451.50" width="13.04" height="12.86" fill="rgb(255,218,0)"/><rect x="353.13" y="451.50" width="13.04" height="12.86" fill="rgb(255,224,0)"/><rect x="366.12" y="451.50" width="13.04" height="12.86" fill="rgb(255,235,0)"/><rect x="379.11" y="451.50" width="13.04" height="12.86" fill="rgb(255,235,0)"/><rect x="392.09" y="451.50" width="13.04" height="12.86" fill="rgb(255,192,0)"/><rect x="405.08" y="451.50" width="13.04" height="12.86" fill="rgb(255,197,0)"/><rect x="418.07" y="451.50" width="13.04" height="12.86" fill="rgb(255,0,0)"/><rect x="431.06" y="451.50" width="13.04" height="12.86" fill="rgb(255,172,0)"/><rect x="444.04" y="451.50" width="13.04" height="12.86" fill="rgb(255,144,0)"/><rect x="457.03" y="451.50" width="13.04" height="12.86" fill="rgb(255,197,0)"/><rect x="470.02" y="451.50" width="13.04" height="12.86" fill="rgb(255,187,0)"/><rect x="483.00" y="451.50" width="13.04" height="12.86" fill="rgb(255,234,0)"/><rect x="495.99" y="451.50" width="13.04" height="12.86" fill="rgb(255,222,0)"/><rect x="508.98" y="451.50" width="13.04" height="12.86" fill="rgb(255,217,0)"/><rect x="521.97" y="451.50" width="13.04" height="12.86" fill="rgb(255,234,0)"/><rect x="534.95" y="451.50" width="13.04" height="12.86" fill="rgb(255,234,0)"/><rect x="547.94" y="451.50" width="13.04" height="12.86" fill="rgb(255,234,0)"/><rect x="560.93" y="451.50" width="13.04" height="12.86" fill="rgb(255,228,0)"/><rect x="573.92" y="451.50" width="13.04" height="12.86" fill="rgb(255,234,0)"/><rect x="586.90" y="451.50" width="13.04" height="12.86" fill="rgb(255,240,0)"/><rect x="599.89" y="451.50" width="13.04" height="12.86" fill="rgb(255,238,0)"/><rect x="612.88" y="451.50" width="13.04" height="12.86" fill="rgb(255,244,0)"/><rect x="625.86" y="451.50" width="13.04" height="12.86" fill="rgb(255,235,0)"/><rect x="638.85" y="451.50" width="13.04" height="12.86" fill="rgb(255,247,0)"/><rect x="651.84" y="451.50" width="13.04" height="12.86" fill="rgb(255,240,0)"/><rect x="664.83" y="451.50" width="13.04" height="12.86" fill="rgb(255,238,0)"/><rect x="677.81" y="451.50" width="13.04" height="12.86" fill="rgb(255,244,0)"/><rect x="132.35" y="464.31" width="13.04" height="12.86" fill="rgb(255,251,0)"/><rect x="145.34" y="464.31" width="13.04" height="12.86" fill="rgb(255,250,0)"/><rect x="158.32" y="464.31" width="13.04" height="12.86" fill="rgb(255,250,0)"/><rect x="171.31" y="464.31" width="13.04" height="12.86" fill="rgb(255,246,0)"/><rect x="184.30" y="464.31" width="13.04" height="12.86" fill="rgb(255,246,0)"/><rect x="197.29" y="464.31" width="13.04" height="12.86" fill="rgb(255,248,0)"/><rect x="210.27" y="464.31" width="13.04" height="12.86" fill="rgb(255,250,0)"/><rect x="223.26" y="464.31" width="13.04" height="12.86" fill="rgb(255,250,0)"/><rect x="236.25" y="464.31" width="13.04" height="12.86" fill="rgb(255,246,0)"/><rect x="249.23" y="464.31" width="13.04" height="12.86" fill="rgb(255,238,0)"/><rect x="262.22" y="464.31" width="13.04" height="12.86" fill="rgb(255,238,0)"/><rect x="275.21" y="464.31" width="13.04" height="12.86" fill="rgb(255,238,0)"/><rect x="288.20" y="464.31" width="13.04" height="12.86" fill="rgb(255,219,0)"/><rect x="301.18" y="464.31" width="13.04" height="12.86" fill="rgb(255,219,0)"/><rect x="314.17" y="464.31" width="13.04" height="12.86" fill="rgb(255,217,0)"/><rect x="327.16" y="464.31" width="13.04" height="12.86" fill="rgb(255,218,0)"/><rect x="340.15" y="464.31" width="13.04" height="12.86" fill="rgb(255,218,0)"/><rect x="353.13" y="464.31" width="13.04" height="12.86" fill="rgb(255,218,0)"/><rect x="366.12" y="464.31" width="13.04" height="12.86" fill="rgb(255,235,0)"/><rect x="379.11" y="464.31" width="13.04" height="12.86" fill="rgb(255,230,0)"/><rect x="392.09" y="464.31" width="13.04" height="12.86" fill="rgb(255,144,0)"/><rect x="405.08" y="464.31" width="13.04" height="12.86" fill="rgb(255,144,0)"/><rect x="418.07" y="464.31" width="13.04" height="12.86" fill="rgb(255,172,0)"/><rect x="431.06" y="464.31" width="13.04" height="12.86" fill="rgb(255,0,0)"/><rect x="444.04" y="464.31" width="13.04" height="12.86" fill="rgb(255,135,0)"/><rect x="457.03" y="464.31" width="13.04" height="12.86" fill="rgb(255,197,0)"/><rect x="470.02" y="464.31" width="13.04" height="12.86" fill="rgb(255,198,0)"/><rect x="483.00" y="464.31" width="13.04" height="12.86" fill="rgb(255,234,0)"/><rect x="495.99" y="464.31" width="13.04" height="12.86" fill="rgb(255,217,0)"/><rect x="508.98" y="464.31" width="13.04" height="12.86" fill="rgb(255,222,0)"/><rect x="521.97" y="464.31" width="13.04" height="12.86" fill="rgb(255,205,0)"/><rect x="534.95" y="464.31" width="13.04" height="12.86" fill="rgb(255,228,0)"/><rect x="547.94" y="464.31" width="13.04" height="12.86" fill="rgb(255,234,0)"/><rect x="560.93" y="464.31" width="13.04" height="12.86" fill="rgb(255,217,0)"/><rect x="573.92" y="464.31" width="13.04" height="12.86" fill="rgb(255,234,0)"/><rect x="586.90" y="464.31" width="13.04" height="12.86" fill="rgb(255,238,0)"/><rect x="599.89" y="464.31" width="13.04" height="12.86" fill="rgb(255,238,0)"/><rect x="612.88" y="464.31" width="13.04" height="12.86" fill="rgb(255,244,0)"/><rect x="625.86" y="464.31" width="13.04" height="12.86" fill="rgb(255,240,0)"/><rect x="638.85" y="464.31" width="13.04" height="12.86" fill="rgb(255,247,0)"/><rect x="651.84" y="464.31" width="13.04" height="12.86" fill="rgb(255,240,0)"/><rect x="664.83" y="464.31" width="13.04" height="12.86" fill="rgb(255,240,0)"/><rect x="677.81" y="464.31" width="13.04" height="12.86" fill="rgb(255,240,0)"/><rect x="132.35" y="477.12" width="13.04" height="12.86" fill="rgb(255,251,0)"/><rect x="145.34" y="477.12" width="13.04" height="12.86" fill="rgb(255,246,0)"/><rect x="158.32" y="477.12" width="13.04" height="12.86" fill="rgb(255,248,0)"/><rect x="171.31" y="477.12" width="13.04" height="12.86" fill="rgb(255,248,0)"/><rect x="184.30" y="477.12" width="13.04" height="12.86" fill="rgb(255,248,0)"/><rect x="197.29" y="477.12" width="13.04" height="12.86" fill="rgb(255,252,0)"/><rect x="210.27" y="477.12" width="13.04" height="12.86" fill="rgb(255,248,0)"/><rect x="223.26" y="477.12" width="13.04" height="12.86" fill="rgb(255,251,0)"/><rect x="236.25" y="477.12" width="13.04" height="12.86" fill="rgb(255,248,0)"/><rect x="249.23" y="477.12" width="13.04" height="12.86" fill="rgb(255,238,0)"/><rect x="262.22" y="477.12" width="13.04" height="12.86" fill="rgb(255,238,0)"/><rect x="275.21" y="477.12" width="13.04" height="12.86" fill="rgb(255,238,0)"/><rect x="288.20" y="477.12" width="13.04" height="12.86" fill="rgb(255,212,0)"/><rect x="301.18" y="477.12" width="13.04" height="12.86" fill="rgb(255,212,0)"/><rect x="314.17" y="477.12" width="13.04" height="12.86" fill="rgb(255,209,0)"/><rect x="327.16" y="477.12" width="13.04" height="12.86" fill="rgb(255,218,0)"/><rect x="340.15" y="477.12" width="13.04" height="12.86" fill="rgb(255,218,0)"/><rect x="353.13" y="477.12" width="13.04" height="12.86" fill="rgb(255,224,0)"/><rect x="366.12" y="477.12" width="13.04" height="12.86" fill="rgb(255,230,0)"/><rect x="379.11" y="477.12" width="13.04" height="12.86" fill="rgb(255,224,0)"/><rect x="392.09" y="477.12" width="13.04" height="12.86" fill="rgb(255,189,0)"/><rect x="405.08" y="477.12" width="13.04" height="12.86" fill="rgb(255,189,0)"/><rect x="418.07" y="477.12" width="13.04" height="12.86" fill="rgb(255,144,0)"/><rect x="431.06" y="477.12" width="13.04" height="12.86" fill="rgb(255,135,0)"/><rect x="444.04" y="477.12" width="13.04" height="12.86" fill="rgb(255,0,0)"/><rect x="457.03" y="477.12" width="13.04" height="12.86" fill="rgb(255,136,0)"/><rect x="470.02" y="477.12" width="13.04" height="12.86" fill="rgb(255,135,0)"/><rect x="483.00" y="477.12" width="13.04" height="12.86" fill="rgb(255,234,0)"/><rect x="495.99" y="477.12" width="13.04" height="12.86" fill="rgb(255,222,0)"/><rect x="508.98" y="477.12" width="13.04" height="12.86" fill="rgb(255,222,0)"/><rect x="521.97" y="477.12" width="13.04" height="12.86" fill="rgb(255,199,0)"/><rect x="534.95" y="477.12" width="13.04" height="12.86" fill="rgb(255,228,0)"/><rect x="547.94" y="477.12" width="13.04" height="12.86" fill="rgb(255,234,0)"/><rect x="560.93" y="477.12" width="13.04" height="12.86" fill="rgb(255,222,0)"/><rect x="573.92" y="477.12" width="13.04" height="12.86" fill="rgb(255,234,0)"/><rect x="586.90" y="477.12" width="13.04" height="12.86" fill="rgb(255,238,0)"/><rect x="599.89" y="477.12" width="13.04" height="12.86" fill="rgb(255,240,0)"/><rect x="612.88" y="477.12" width="13.04" height="12.86" fill="rgb(255,240,0)"/><rect x="625.86" y="477.12" width="13.04" height="12.86" fill="rgb(255,235,0)"/><rect x="638.85" y="477.12" width="13.04" height="12.86" fill="rgb(255,247,0)"/><rect x="651.84" y="477.12" width="13.04" height="12.86" fill="rgb(255,240,0)"/><rect x="664.83" y="477.12" width="13.04" height="12.86" fill="rgb(255,235,0)"/><rect x="677.81" y="477.12" width="13.04" height="12.86" fill="rgb(255,240,0)"/><rect x="132.35" y="489.93" width="13.04" height="12.86" fill="rgb(255,246,0)"/><rect x="145.34" y="489.93" width="13.04" height="12.86" fill="rgb(255,252,0)"/><rect x="158.32" y="489.93" width="13.04" height="12.86" fill="rgb(255,251,0)"/><rect x="171.31" y="489.93" width="13.04" height="12.86" fill="rgb(255,250,0)"/><rect x="184.30" y="489.93" width="13.04" height="12.86" fill="rgb(255,251,0)"/><rect x="197.29" y="489.93" width="13.04" height="12.86" fill="rgb(255,246,0)"/><rect x="210.27" y="489.93" width="13.04" height="12.86" fill="rgb(255,252,0)"/><rect x="223.26" y="489.93" width="13.04" height="12.86" fill="rgb(255,250,0)"/><rect x="236.25" y="489.93" width="13.04" height="12.86" fill="rgb(255,252,0)"/><rect x="249.23" y="489.93" width="13.04" height="12.86" fill="rgb(255,242,0)"/><rect x="262.22" y="489.93" width="13.04" height="12.86" fill="rgb(255,242,0)"/><rect x="275.21" y="489.93" width="13.04" height="12.86" fill="rgb(255,242,0)"/><rect x="288.20" y="489.93" width="13.04" height="12.86" fill="rgb(255,231,0)"/><rect x="301.18" y="489.93" width="13.04" height="12.86" fill="rgb(255,231,0)"/><rect x="314.17" y="489.93" width="13.04" height="12.86" fill="rgb(255,231,0)"/><rect x="327.16" y="489.93" width="13.04" height="12.86" fill="rgb(255,231,0)"/><rect x="340.15" y="489.93" width="13.04" height="12.86" fill="rgb(255,235,0)"/><rect x="353.13" y="489.93" width="13.04" height="12.86" fill="rgb(255,241,0)"/><rect x="366.12" y="489.93" width="13.04" height="12.86" fill="rgb(255,244,0)"/><rect x="379.11" y="489.93" width="13.04" height="12.86" fill="rgb(255,241,0)"/><rect x="392.09" y="489.93" width="13.04" height="12.86" fill="rgb(255,226,0)"/><rect x="405.08" y="489.93" width="13.04" height="12.86" fill="rgb(255,226,0)"/><rect x="418.07" y="489.93" width="13.04" height="12.86" fill="rgb(255,197,0)"/><rect x="431.06" y="489.93" width="13.04" height="12.86" fill="rgb(255,197,0)"/><rect x="444.04" y="489.93" width="13.04" height="12.86" fill="rgb(255,136,0)"/><rect x="457.03" y="489.93" width="13.04" height="12.86" fill="rgb(255,0,0)"/><rect x="470.02" y="489.93" width="13.04" height="12.86" fill="rgb(255,133,0)"/><rect x="483.00" y="489.93" width="13.04" height="12.86" fill="rgb(255,240,0)"/><rect x="495.99" y="489.93" width="13.04" height="12.86" fill="rgb(255,228,0)"/><rect x="508.98" y="489.93" width="13.04" height="12.86" fill="rgb(255,234,0)"/><rect x="521.97" y="489.93" width="13.04" height="12.86" fill="rgb(255,234,0)"/><rect x="534.95" y="489.93" width="13.04" height="12.86" fill="rgb(255,234,0)"/><rect x="547.94" y="489.93" width="13.04" height="12.86" fill="rgb(255,240,0)"/><rect x="560.93" y="489.93" width="13.04" height="12.86" fill="rgb(255,234,0)"/><rect x="573.92" y="489.93" width="13.04" height="12.86" fill="rgb(255,240,0)"/><rect x="586.90" y="489.93" width="13.04" height="12.86" fill="rgb(255,242,0)"/><rect x="599.89" y="489.93" width="13.04" height="12.86" fill="rgb(255,240,0)"/><rect x="612.88" y="489.93" width="13.04" height="12.86" fill="rgb(255,240,0)"/><rect x="625.86" y="489.93" width="13.04" height="12.86" fill="rgb(255,244,0)"/><rect x="638.85" y="489.93" width="13.04" height="12.86" fill="rgb(255,247,0)"/><rect x="651.84" y="489.93" width="13.04" height="12.86" fill="rgb(255,240,0)"/><rect x="664.83" y="489.93" width="13.04" height="12.86" fill="rgb(255,240,0)"/><rect x="677.81" y="489.93" width="13.04" height="12.86" fill="rgb(255,242,0)"/><rect x="132.35" y="502.74" width="13.04" height="12.86" fill="rgb(255,248,0)"/><rect x="145.34" y="502.74" width="13.04" height="12.86" fill="rgb(255,246,0)"/><rect x="158.32" y="502.74" width="13.04" height="12.86" fill="rgb(255,251,0)"/><rect x="171.31" y="502.74" width="13.04" height="12.86" fill="rgb(255,248,0)"/><rect x="184.30" y="502.74" width="13.04" height="12.86" fill="rgb(255,252,0)"/><rect x="197.29" y="502.74" width="13.04" height="12.86" fill="rgb(255,250,0)"/><rect x="210.27" y="502.74" width="13.04" height="12.86" fill="rgb(255,246,0)"/><rect x="223.26" y="502.74" width="13.04" height="12.86" fill="rgb(255,250,0)"/><rect x="236.25" y="502.74" width="13.04" height="12.86" fill="rgb(255,251,0)"/><rect x="249.23" y="502.74" width="13.04" height="12.86" fill="rgb(255,242,0)"/><rect x="262.22" y="502.74" width="13.04" height="12.86" fill="rgb(255,242,0)"/><rect x="275.21" y="502.74" width="13.04" height="12.86" fill="rgb(255,242,0)"/><rect x="288.20" y="502.74" width="13.04" height="12.86" fill="rgb(255,231,0)"/><rect x="301.18" y="502.74" width="13.04" height="12.86" fill="rgb(255,231,0)"/><rect x="314.17" y="502.74" width="13.04" height="12.86" fill="rgb(255,231,0)"/><rect x="327.16" y="502.74" width="13.04" height="12.86" fill="rgb(255,231,0)"/><rect x="340.15" y="502.74" width="13.04" height="12.86" fill="rgb(255,235,0)"/><rect x="353.13" y="502.74" width="13.04" height="12.86" fill="rgb(255,241,0)"/><rect x="366.12" y="502.74" width="13.04" height="12.86" fill="rgb(255,235,0)"/><rect x="379.11" y="502.74" width="13.04" height="12.86" fill="rgb(255,235,0)"/><rect x="392.09" y="502.74" width="13.04" height="12.86" fill="rgb(255,230,0)"/><rect x="405.08" y="502.74" width="13.04" height="12.86" fill="rgb(255,233,0)"/><rect x="418.07" y="502.74" width="13.04" height="12.86" fill="rgb(255,187,0)"/><rect x="431.06" y="502.74" width="13.04" height="12.86" fill="rgb(255,198,0)"/><rect x="444.04" y="502.74" width="13.04" height="12.86" fill="rgb(255,135,0)"/><rect x="457.03" y="502.74" width="13.04" height="12.86" fill="rgb(255,133,0)"/><rect x="470.02" y="502.74" width="13.04" height="12.86" fill="rgb(255,0,0)"/><rect x="483.00" y="502.74" width="13.04" height="12.86" fill="rgb(255,240,0)"/><rect x="495.99" y="502.74" width="13.04" height="12.86" fill="rgb(255,228,0)"/><rect x="508.98" y="502.74" width="13.04" height="12.86" fill="rgb(255,234,0)"/><rect x="521.97" y="502.74" width="13.04" height="12.86" fill="rgb(255,234,0)"/><rect x="534.95" y="502.74" width="13.04" height="12.86" fill="rgb(255,234,0)"/><rect x="547.94" y="502.74" width="13.04" height="12.86" fill="rgb(255,240,0)"/><rect x="560.93" y="502.74" width="13.04" height="12.86" fill="rgb(255,234,0)"/><rect x="573.92" y="502.74" width="13.04" height="12.86" fill="rgb(255,240,0)"/><rect x="586.90" y="502.74" width="13.04" height="12.86" fill="rgb(255,242,0)"/><rect x="599.89" y="502.74" width="13.04" height="12.86" fill="rgb(255,240,0)"/><rect x="612.88" y="502.74" width="13.04" height="12.86" fill="rgb(255,242,0)"/><rect x="625.86" y="502.74" width="13.04" height="12.86" fill="rgb(255,235,0)"/><rect x="638.85" y="502.74" width="13.04" height="12.86" fill="rgb(255,247,0)"/><rect x="651.84" y="502.74" width="13.04" height="12.86" fill="rgb(255,238,0)"/><rect x="664.83" y="502.74" width="13.04" height="12.86" fill="rgb(255,235,0)"/><rect x="677.81" y="502.74" width="13.04" height="12.86" fill="rgb(255,235,0)"/><rect x="132.35" y="515.55" width="13.04" height="12.86" fill="rgb(255,246,0)"/><rect x="145.34" y="515.55" width="13.04" height="12.86" fill="rgb(255,252,0)"/><rect x="158.32" y="515.55" width="13.04" height="12.86" fill="rgb(255,246,0)"/><rect x="171.31" y="515.55" width="13.04" height="12.86" fill="rgb(255,248,0)"/><rect x="184.30" y="515.55" width="13.04" height="12.86" fill="rgb(255,250,0)"/><rect x="197.29" y="515.55" width="13.04" height="12.86" fill="rgb(255,252,0)"/><rect x="210.27" y="515.55" width="13.04" height="12.86" fill="rgb(255,252,0)"/><rect x="223.26" y="515.55" width="13.04" height="12.86" fill="rgb(255,246,0)"/><rect x="236.25" y="515.55" width="13.04" height="12.86" fill="rgb(255,248,0)"/><rect x="249.23" y="515.55" width="13.04" height="12.86" fill="rgb(255,246,0)"/><rect x="262.22" y="515.55" width="13.04" height="12.86" fill="rgb(255,240,0)"/><rect x="275.21" y="515.55" width="13.04" height="12.86" fill="rgb(255,234,0)"/><rect x="288.20" y="515.55" width="13.04" height="12.86" fill="rgb(255,228,0)"/><rect x="301.18" y="515.55" width="13.04" height="12.86" fill="rgb(255,228,0)"/><rect x="314.17" y="515.55" width="13.04" height="12.86" fill="rgb(255,228,0)"/><rect x="327.16" y="515.55" width="13.04" height="12.86" fill="rgb(255,231,0)"/><rect x="340.15" y="515.55" width="13.04" height="12.86" fill="rgb(255,231,0)"/><rect x="353.13" y="515.55" width="13.04" height="12.86" fill="rgb(255,231,0)"/><rect x="366.12" y="515.55" width="13.04" height="12.86" fill="rgb(255,240,0)"/><rect x="379.11" y="515.55" width="13.04" height="12.86" fill="rgb(255,234,0)"/><rect x="392.09" y="515.55" width="13.04" height="12.86" fill="rgb(255,234,0)"/><rect x="405.08" y="515.55" width="13.04" height="12.86" fill="rgb(255,234,0)"/><rect x="418.07" y="515.55" width="13.04" height="12.86" fill="rgb(255,234,0)"/><rect x="431.06" y="515.55" width="13.04" height="12.86" fill="rgb(255,234,0)"/><rect x="444.04" y="515.55" width="13.04" height="12.86" fill="rgb(255,234,0)"/><rect x="457.03" y="515.55" width="13.04" height="12.86" fill="rgb(255,240,0)"/><rect x="470.02" y="515.55" width="13.04" height="12.86" fill="rgb(255,240,0)"/><rect x="483.00" y="515.55" width="13.04" height="12.86" fill="rgb(255,0,0)"/><rect x="495.99" y="515.55" width="13.04" height="12.86" fill="rgb(255,138,0)"/><rect x="508.98" y="515.55" width="13.04" height="12.86" fill="rgb(255,180,0)"/><rect x="521.97" y="515.55" width="13.04" height="12.86" fill="rgb(255,180,0)"/><rect x="534.95" y="515.55" width="13.04" height="12.86" fill="rgb(255,241,0)"/><rect x="547.94" y="515.55" width="13.04" height="12.86" fill="rgb(255,241,0)"/><rect x="560.93" y="515.55" width="13.04" height="12.86" fill="rgb(255,241,0)"/><rect x="573.92" y="515.55" width="13.04" height="12.86" fill="rgb(255,241,0)"/><rect x="586.90" y="515.55" width="13.04" height="12.86" fill="rgb(255,240,0)"/><rect x="599.89" y="515.55" width="13.04" height="12.86" fill="rgb(255,240,0)"/><rect x="612.88" y="515.55" width="13.04" height="12.86" fill="rgb(255,235,0)"/><rect x="625.86" y="515.55" width="13.04" height="12.86" fill="rgb(255,238,0)"/><rect x="638.85" y="515.55" width="13.04" height="12.86" fill="rgb(255,247,0)"/><rect x="651.84" y="515.55" width="13.04" height="12.86" fill="rgb(255,238,0)"/><rect x="664.83" y="515.55" width="13.04" height="12.86" fill="rgb(255,240,0)"/><rect x="677.81" y="515.55" width="13.04" height="12.86" fill="rgb(255,244,0)"/><rect x="132.35" y="528.36" width="13.04" height="12.86" fill="rgb(255,252,0)"/><rect x="145.34" y="528.36" width="13.04" height="12.86" fill="rgb(255,246,0)"/><rect x="158.32" y="528.36" width="13.04" height="12.86" fill="rgb(255,246,0)"/><rect x="171.31" y="528.36" width="13.04" height="12.86" fill="rgb(255,251,0)"/><rect x="184.30" y="528.36" width="13.04" height="12.86" fill="rgb(255,252,0)"/><rect x="197.29" y="528.36" width="13.04" height="12.86" fill="rgb(255,246,0)"/><rect x="210.27" y="528.36" width="13.04" height="12.86" fill="rgb(255,250,0)"/><rect x="223.26" y="528.36" width="13.04" height="12.86" fill="rgb(255,248,0)"/><rect x="236.25" y="528.36" width="13.04" height="12.86" fill="rgb(255,252,0)"/><rect x="249.23" y="528.36" width="13.04" height="12.86" fill="rgb(255,240,0)"/><rect x="262.22" y="528.36" width="13.04" height="12.86" fill="rgb(255,228,0)"/><rect x="275.21" y="528.36" width="13.04" height="12.86" fill="rgb(255,217,0)"/><rect x="288.20" y="528.36" width="13.04" height="12.86" fill="rgb(255,205,0)"/><rect x="301.18" y="528.36" width="13.04" height="12.86" fill="rgb(255,217,0)"/><rect x="314.17" y="528.36" width="13.04" height="12.86" fill="rgb(255,217,0)"/><rect x="327.16" y="528.36" width="13.04" height="12.86" fill="rgb(255,219,0)"/><rect x="340.15" y="528.36" width="13.04" height="12.86" fill="rgb(255,222,0)"/><rect x="353.13" y="528.36" width="13.04" height="12.86" fill="rgb(255,211,0)"/><rect x="366.12" y="528.36" width="13.04" height="12.86" fill="rgb(255,228,0)"/><rect x="379.11" y="528.36" width="13.04" height="12.86" fill="rgb(255,222,0)"/><rect x="392.09" y="528.36" width="13.04" height="12.86" fill="rgb(255,228,0)"/><rect x="405.08" y="528.36" width="13.04" height="12.86" fill="rgb(255,234,0)"/><rect x="418.07" y="528.36" width="13.04" height="12.86" fill="rgb(255,222,0)"/><rect x="431.06" y="528.36" width="13.04" height="12.86" fill="rgb(255,217,0)"/><rect x="444.04" y="528.36" width="13.04" height="12.86" fill="rgb(255,222,0)"/><rect x="457.03" y="528.36" width="13.04" height="12.86" fill="rgb(255,228,0)"/><rect x="470.02" y="528.36" width="13.04" height="12.86" fill="rgb(255,228,0)"/><rect x="483.00" y="528.36" width="13.04" height="12.86" fill="rgb(255,138,0)"/><rect x="495.99" y="528.36" width="13.04" height="12.86" fill="rgb(255,0,0)"/><rect x="508.98" y="528.36" width="13.04" height="12.86" fill="rgb(255,133,0)"/><rect x="521.97" y="528.36" width="13.04" height="12.86" fill="rgb(255,133,0)"/><rect x="534.95" y="528.36" width="13.04" height="12.86" fill="rgb(255,226,0)"/><rect x="547.94" y="528.36" width="13.04" height="12.86" fill="rgb(255,226,0)"/><rect x="560.93" y="528.36" width="13.04" height="12.86" fill="rgb(255,218,0)"/><rect x="573.92" y="528.36" width="13.04" height="12.86" fill="rgb(255,226,0)"/><rect x="586.90" y="528.36" width="13.04" height="12.86" fill="rgb(255,240,0)"/><rect x="599.89" y="528.36" width="13.04" height="12.86" fill="rgb(255,240,0)"/><rect x="612.88" y="528.36" width="13.04" height="12.86" fill="rgb(255,238,0)"/><rect x="625.86" y="528.36" width="13.04" height="12.86" fill="rgb(255,242,0)"/><rect x="638.85" y="528.36" width="13.04" height="12.86" fill="rgb(255,247,0)"/><rect x="651.84" y="528.36" width="13.04" height="12.86" fill="rgb(255,242,0)"/><rect x="664.83" y="528.36" width="13.04" height="12.86" fill="rgb(255,240,0)"/><rect x="677.81" y="528.36" width="13.04" height="12.86" fill="rgb(255,244,0)"/><rect x="132.35" y="541.17" width="13.04" height="12.86" fill="rgb(255,251,0)"/><rect x="145.34" y="541.17" width="13.04" height="12.86" fill="rgb(255,252,0)"/><rect x="158.32" y="541.17" width="13.04" height="12.86" fill="rgb(255,252,0)"/><rect x="171.31" y="541.17" width="13.04" height="12.86" fill="rgb(255,251,0)"/><rect x="184.30" y="541.17" width="13.04" height="12.86" fill="rgb(255,252,0)"/><rect x="197.29" y="541.17" width="13.04" height="12.86" fill="rgb(255,246,0)"/><rect x="210.27" y="541.17" width="13.04" height="12.86" fill="rgb(255,246,0)"/><rect x="223.26" y="541.17" width="13.04" height="12.86" fill="rgb(255,246,0)"/><rect x="236.25" y="541.17" width="13.04" height="12.86" fill="rgb(255,252,0)"/><rect x="249.23" y="541.17" width="13.04" height="12.86" fill="rgb(255,240,0)"/><rect x="262.22" y="541.17" width="13.04" height="12.86" fill="rgb(255,228,0)"/><rect x="275.21" y="541.17" width="13.04" height="12.86" fill="rgb(255,217,0)"/><rect x="288.20" y="541.17" width="13.04" height="12.86" fill="rgb(255,207,0)"/><rect x="301.18" y="541.17" width="13.04" height="12.86" fill="rgb(255,217,0)"/><rect x="314.17" y="541.17" width="13.04" height="12.86" fill="rgb(255,222,0)"/><rect x="327.16" y="541.17" width="13.04" height="12.86" fill="rgb(255,207,0)"/><rect x="340.15" y="541.17" width="13.04" height="12.86" fill="rgb(255,222,0)"/><rect x="353.13" y="541.17" width="13.04" height="12.86" fill="rgb(255,222,0)"/><rect x="366.12" y="541.17" width="13.04" height="12.86" fill="rgb(255,234,0)"/><rect x="379.11" y="541.17" width="13.04" height="12.86" fill="rgb(255,234,0)"/><rect x="392.09" y="541.17" width="13.04" height="12.86" fill="rgb(255,234,0)"/><rect x="405.08" y="541.17" width="13.04" height="12.86" fill="rgb(255,234,0)"/><rect x="418.07" y="541.17" width="13.04" height="12.86" fill="rgb(255,217,0)"/><rect x="431.06" y="541.17" width="13.04" height="12.86" fill="rgb(255,222,0)"/><rect x="444.04" y="541.17" width="13.04" height="12.86" fill="rgb(255,222,0)"/><rect x="457.03" y="541.17" width="13.04" height="12.86" fill="rgb(255,234,0)"/><rect x="470.02" y="541.17" width="13.04" height="12.86" fill="rgb(255,234,0)"/><rect x="483.00" y="541.17" width="13.04" height="12.86" fill="rgb(255,180,0)"/><rect x="495.99" y="541.17" width="13.04" height="12.86" fill="rgb(255,133,0)"/><rect x="508.98" y="541.17" width="13.04" height="12.86" fill="rgb(255,0,0)"/><rect x="521.97" y="541.17" width="13.04" height="12.86" fill="rgb(255,133,0)"/><rect x="534.95" y="541.17" width="13.04" height="12.86" fill="rgb(255,226,0)"/><rect x="547.94" y="541.17" width="13.04" height="12.86" fill="rgb(255,226,0)"/><rect x="560.93" y="541.17" width="13.04" height="12.86" fill="rgb(255,226,0)"/><rect x="573.92" y="541.17" width="13.04" height="12.86" fill="rgb(255,233,0)"/><rect x="586.90" y="541.17" width="13.04" height="12.86" fill="rgb(255,240,0)"/><rect x="599.89" y="541.17" width="13.04" height="12.86" fill="rgb(255,235,0)"/><rect x="612.88" y="541.17" width="13.04" height="12.86" fill="rgb(255,240,0)"/><rect x="625.86" y="541.17" width="13.04" height="12.86" fill="rgb(255,235,0)"/><rect x="638.85" y="541.17" width="13.04" height="12.86" fill="rgb(255,247,0)"/><rect x="651.84" y="541.17" width="13.04" height="12.86" fill="rgb(255,238,0)"/><rect x="664.83" y="541.17" width="13.04" height="12.86" fill="rgb(255,240,0)"/><rect x="677.81" y="541.17" width="13.04" height="12.86" fill="rgb(255,235,0)"/><rect x="132.35" y="553.98" width="13.04" height="12.86" fill="rgb(255,246,0)"/><rect x="145.34" y="553.98" width="13.04" height="12.86" fill="rgb(255,248,0)"/><rect x="158.32" y="553.98" width="13.04" height="12.86" fill="rgb(255,252,0)"/><rect x="171.31" y="553.98" width="13.04" height="12.86" fill="rgb(255,251,0)"/><rect x="184.30" y="553.98" width="13.04" height="12.86" fill="rgb(255,250,0)"/><rect x="197.29" y="553.98" width="13.04" height="12.86" fill="rgb(255,248,0)"/><rect x="210.27" y="553.98" width="13.04" height="12.86" fill="rgb(255,250,0)"/><rect x="223.26" y="553.98" width="13.04" height="12.86" fill="rgb(255,248,0)"/><rect x="236.25" y="553.98" width="13.04" height="12.86" fill="rgb(255,251,0)"/><rect x="249.23" y="553.98" width="13.04" height="12.86" fill="rgb(255,234,0)"/><rect x="262.22" y="553.98" width="13.04" height="12.86" fill="rgb(255,234,0)"/><rect x="275.21" y="553.98" width="13.04" height="12.86" fill="rgb(255,234,0)"/><rect x="288.20" y="553.98" width="13.04" height="12.86" fill="rgb(255,222,0)"/><rect x="301.18" y="553.98" width="13.04" height="12.86" fill="rgb(255,222,0)"/><rect x="314.17" y="553.98" width="13.04" height="12.86" fill="rgb(255,222,0)"/><rect x="327.16" y="553.98" width="13.04" height="12.86" fill="rgb(255,228,0)"/><rect x="340.15" y="553.98" width="13.04" height="12.86" fill="rgb(255,228,0)"/><rect x="353.13" y="553.98" width="13.04" height="12.86" fill="rgb(255,226,0)"/><rect x="366.12" y="553.98" width="13.04" height="12.86" fill="rgb(255,234,0)"/><rect x="379.11" y="553.98" width="13.04" height="12.86" fill="rgb(255,222,0)"/><rect x="392.09" y="553.98" width="13.04" height="12.86" fill="rgb(255,217,0)"/><rect x="405.08" y="553.98" width="13.04" height="12.86" fill="rgb(255,234,0)"/><rect x="418.07" y="553.98" width="13.04" height="12.86" fill="rgb(255,234,0)"/><rect x="431.06" y="553.98" width="13.04" height="12.86" fill="rgb(255,205,0)"/><rect x="444.04" y="553.98" width="13.04" height="12.86" fill="rgb(255,199,0)"/><rect x="457.03" y="553.98" width="13.04" height="12.86" fill="rgb(255,234,0)"/><rect x="470.02" y="553.98" width="13.04" height="12.86" fill="rgb(255,234,0)"/><rect x="483.00" y="553.98" width="13.04" height="12.86" fill="rgb(255,180,0)"/><rect x="495.99" y="553.98" width="13.04" height="12.86" fill="rgb(255,133,0)"/><rect x="508.98" y="553.98" width="13.04" height="12.86" fill="rgb(255,133,0)"/><rect x="521.97" y="553.98" width="13.04" height="12.86" fill="rgb(255,0,0)"/><rect x="534.95" y="553.98" width="13.04" height="12.86" fill="rgb(255,233,0)"/><rect x="547.94" y="553.98" width="13.04" height="12.86" fill="rgb(255,233,0)"/><rect x="560.93" y="553.98" width="13.04" height="12.86" fill="rgb(255,233,0)"/><rect x="573.92" y="553.98" width="13.04" height="12.86" fill="rgb(255,238,0)"/><rect x="586.90" y="553.98" width="13.04" height="12.86" fill="rgb(255,240,0)"/><rect x="599.89" y="553.98" width="13.04" height="12.86" fill="rgb(255,235,0)"/><rect x="612.88" y="553.98" width="13.04" height="12.86" fill="rgb(255,244,0)"/><rect x="625.86" y="553.98" width="13.04" height="12.86" fill="rgb(255,235,0)"/><rect x="638.85" y="553.98" width="13.04" height="12.86" fill="rgb(255,247,0)"/><rect x="651.84" y="553.98" width="13.04" height="12.86" fill="rgb(255,235,0)"/><rect x="664.83" y="553.98" width="13.04" height="12.86" fill="rgb(255,242,0)"/><rect x="677.81" y="553.98" width="13.04" height="12.86" fill="rgb(255,238,0)"/><rect x="132.35" y="566.79" width="13.04" height="12.86" fill="rgb(255,252,0)"/><rect x="145.34" y="566.79" width="13.04" height="12.86" fill="rgb(255,251,0)"/><rect x="158.32" y="566.79" width="13.04" height="12.86" fill="rgb(255,250,0)"/><rect x="171.31" y="566.79" width="13.04" height="12.86" fill="rgb(255,246,0)"/><rect x="184.30" y="566.79" width="13.04" height="12.86" fill="rgb(255,248,0)"/><rect x="197.29" y="566.79" width="13.04" height="12.86" fill="rgb(255,252,0)"/><rect x="210.27" y="566.79" width="13.04" height="12.86" fill="rgb(255,252,0)"/><rect x="223.26" y="566.79" width="13.04" height="12.86" fill="rgb(255,251,0)"/><rect x="236.25" y="566.79" width="13.04" height="12.86" fill="rgb(255,250,0)"/><rect x="249.23" y="566.79" width="13.04" height="12.86" fill="rgb(255,234,0)"/><rect x="262.22" y="566.79" width="13.04" height="12.86" fill="rgb(255,234,0)"/><rect x="275.21" y="566.79" width="13.04" height="12.86" fill="rgb(255,228,0)"/><rect x="288.20" y="566.79" width="13.04" height="12.86" fill="rgb(255,222,0)"/><rect x="301.18" y="566.79" width="13.04" height="12.86" fill="rgb(255,199,0)"/><rect x="314.17" y="566.79" width="13.04" height="12.86" fill="rgb(255,219,0)"/><rect x="327.16" y="566.79" width="13.04" height="12.86" fill="rgb(255,222,0)"/><rect x="340.15" y="566.79" width="13.04" height="12.86" fill="rgb(255,228,0)"/><rect x="353.13" y="566.79" width="13.04" height="12.86" fill="rgb(255,228,0)"/><rect x="366.12" y="566.79" width="13.04" height="12.86" fill="rgb(255,234,0)"/><rect x="379.11" y="566.79" width="13.04" height="12.86" fill="rgb(255,234,0)"/><rect x="392.09" y="566.79" width="13.04" height="12.86" fill="rgb(255,211,0)"/><rect x="405.08" y="566.79" width="13.04" height="12.86" fill="rgb(255,234,0)"/><rect x="418.07" y="566.79" width="13.04" height="12.86" fill="rgb(255,234,0)"/><rect x="431.06" y="566.79" width="13.04" height="12.86" fill="rgb(255,228,0)"/><rect x="444.04" y="566.79" width="13.04" height="12.86" fill="rgb(255,228,0)"/><rect x="457.03" y="566.79" width="13.04" height="12.86" fill="rgb(255,234,0)"/><rect x="470.02" y="566.79" width="13.04" height="12.86" fill="rgb(255,234,0)"/><rect x="483.00" y="566.79" width="13.04" height="12.86" fill="rgb(255,241,0)"/><rect x="495.99" y="566.79" width="13.04" height="12.86" fill="rgb(255,226,0)"/><rect x="508.98" y="566.79" width="13.04" height="12.86" fill="rgb(255,226,0)"/><rect x="521.97" y="566.79" width="13.04" height="12.86" fill="rgb(255,233,0)"/><rect x="534.95" y="566.79" width="13.04" height="12.86" fill="rgb(255,0,0)"/><rect x="547.94" y="566.79" width="13.04" height="12.86" fill="rgb(255,138,0)"/><rect x="560.93" y="566.79" width="13.04" height="12.86" fill="rgb(255,138,0)"/><rect x="573.92" y="566.79" width="13.04" height="12.86" fill="rgb(255,183,0)"/><rect x="586.90" y="566.79" width="13.04" height="12.86" fill="rgb(255,235,0)"/><rect x="599.89" y="566.79" width="13.04" height="12.86" fill="rgb(255,240,0)"/><rect x="612.88" y="566.79" width="13.04" height="12.86" fill="rgb(255,235,0)"/><rect x="625.86" y="566.79" width="13.04" height="12.86" fill="rgb(255,240,0)"/><rect x="638.85" y="566.79" width="13.04" height="12.86" fill="rgb(255,247,0)"/><rect x="651.84" y="566.79" width="13.04" height="12.86" fill="rgb(255,240,0)"/><rect x="664.83" y="566.79" width="13.04" height="12.86" fill="rgb(255,242,0)"/><rect x="677.81" y="566.79" width="13.04" height="12.86" fill="rgb(255,240,0)"/><rect x="132.35" y="579.60" width="13.04" height="12.86" fill="rgb(255,246,0)"/><rect x="145.34" y="579.60" width="13.04" height="12.86" fill="rgb(255,252,0)"/><rect x="158.32" y="579.60" width="13.04" height="12.86" fill="rgb(255,250,0)"/><rect x="171.31" y="579.60" width="13.04" height="12.86" fill="rgb(255,248,0)"/><rect x="184.30" y="579.60" width="13.04" height="12.86" fill="rgb(255,252,0)"/><rect x="197.29" y="579.60" width="13.04" height="12.86" fill="rgb(255,251,0)"/><rect x="210.27" y="579.60" width="13.04" height="12.86" fill="rgb(255,250,0)"/><rect x="223.26" y="579.60" width="13.04" height="12.86" fill="rgb(255,248,0)"/><rect x="236.25" y="579.60" width="13.04" height="12.86" fill="rgb(255,248,0)"/><rect x="249.23" y="579.60" width="13.04" height="12.86" fill="rgb(255,234,0)"/><rect x="262.22" y="579.60" width="13.04" height="12.86" fill="rgb(255,234,0)"/><rect x="275.21" y="579.60" width="13.04" height="12.86" fill="rgb(255,234,0)"/><rect x="288.20" y="579.60" width="13.04" height="12.86" fill="rgb(255,226,0)"/><rect x="301.18" y="579.60" width="13.04" height="12.86" fill="rgb(255,226,0)"/><rect x="314.17" y="579.60" width="13.04" height="12.86" fill="rgb(255,231,0)"/><rect x="327.16" y="579.60" width="13.04" height="12.86" fill="rgb(255,231,0)"/><rect x="340.15" y="579.60" width="13.04" height="12.86" fill="rgb(255,231,0)"/><rect x="353.13" y="579.60" width="13.04" height="12.86" fill="rgb(255,231,0)"/><rect x="366.12" y="579.60" width="13.04" height="12.86" fill="rgb(255,240,0)"/><rect x="379.11" y="579.60" width="13.04" height="12.86" fill="rgb(255,240,0)"/><rect x="392.09" y="579.60" width="13.04" height="12.86" fill="rgb(255,240,0)"/><rect x="405.08" y="579.60" width="13.04" height="12.86" fill="rgb(255,240,0)"/><rect x="418.07" y="579.60" width="13.04" height="12.86" fill="rgb(255,234,0)"/><rect x="431.06" y="579.60" width="13.04" height="12.86" fill="rgb(255,234,0)"/><rect x="444.04" y="579.60" width="13.04" height="12.86" fill="rgb(255,234,0)"/><rect x="457.03" y="579.60" width="13.04" height="12.86" fill="rgb(255,240,0)"/><rect x="470.02" y="579.60" width="13.04" height="12.86" fill="rgb(255,240,0)"/><rect x="483.00" y="579.60" width="13.04" height="12.86" fill="rgb(255,241,0)"/><rect x="495.99" y="579.60" width="13.04" height="12.86" fill="rgb(255,226,0)"/><rect x="508.98" y="579.60" width="13.04" height="12.86" fill="rgb(255,226,0)"/><rect x="521.97" y="579.60" width="13.04" height="12.86" fill="rgb(255,233,0)"/><rect x="534.95" y="579.60" width="13.04" height="12.86" fill="rgb(255,138,0)"/><rect x="547.94" y="579.60" width="13.04" height="12.86" fill="rgb(255,0,0)"/><rect x="560.93" y="579.60" width="13.04" height="12.86" fill="rgb(255,191,0)"/><rect x="573.92" y="579.60" width="13.04" height="12.86" fill="rgb(255,204,0)"/><rect x="586.90" y="579.60" width="13.04" height="12.86" fill="rgb(255,240,0)"/><rect x="599.89" y="579.60" width="13.04" height="12.86" fill="rgb(255,242,0)"/><rect x="612.88" y="579.60" width="13.04" height="12.86" fill="rgb(255,238,0)"/><rect x="625.86" y="579.60" width="13.04" height="12.86" fill="rgb(255,235,0)"/><rect x="638.85" y="579.60" width="13.04" height="12.86" fill="rgb(255,247,0)"/><rect x="651.84" y="579.60" width="13.04" height="12.86" fill="rgb(255,244,0)"/><rect x="664.83" y="579.60" width="13.04" height="12.86" fill="rgb(255,238,0)"/><rect x="677.81" y="579.60" width="13.04" height="12.86" fill="rgb(255,235,0)"/><rect x="132.35" y="592.41" width="13.04" height="12.86" fill="rgb(255,248,0)"/><rect x="145.34" y="592.41" width="13.04" height="12.86" fill="rgb(255,251,0)"/><rect x="158.32" y="592.41" width="13.04" height="12.86" fill="rgb(255,250,0)"/><rect x="171.31" y="592.41" width="13.04" height="12.86" fill="rgb(255,251,0)"/><rect x="184.30" y="592.41" width="13.04" height="12.86" fill="rgb(255,252,0)"/><rect x="197.29" y="592.41" width="13.04" height="12.86" fill="rgb(255,248,0)"/><rect x="210.27" y="592.41" width="13.04" height="12.86" fill="rgb(255,248,0)"/><rect x="223.26" y="592.41" width="13.04" height="12.86" fill="rgb(255,250,0)"/><rect x="236.25" y="592.41" width="13.04" height="12.86" fill="rgb(255,252,0)"/><rect x="249.23" y="592.41" width="13.04" height="12.86" fill="rgb(255,234,0)"/><rect x="262.22" y="592.41" width="13.04" height="12.86" fill="rgb(255,234,0)"/><rect x="275.21" y="592.41" width="13.04" height="12.86" fill="rgb(255,234,0)"/><rect x="288.20" y="592.41" width="13.04" height="12.86" fill="rgb(255,214,0)"/><rect x="301.18" y="592.41" width="13.04" height="12.86" fill="rgb(255,219,0)"/><rect x="314.17" y="592.41" width="13.04" height="12.86" fill="rgb(255,222,0)"/><rect x="327.16" y="592.41" width="13.04" height="12.86" fill="rgb(255,211,0)"/><rect x="340.15" y="592.41" width="13.04" height="12.86" fill="rgb(255,217,0)"/><rect x="353.13" y="592.41" width="13.04" height="12.86" fill="rgb(255,222,0)"/><rect x="366.12" y="592.41" width="13.04" height="12.86" fill="rgb(255,228,0)"/><rect x="379.11" y="592.41" width="13.04" height="12.86" fill="rgb(255,234,0)"/><rect x="392.09" y="592.41" width="13.04" height="12.86" fill="rgb(255,234,0)"/><rect x="405.08" y="592.41" width="13.04" height="12.86" fill="rgb(255,234,0)"/><rect x="418.07" y="592.41" width="13.04" height="12.86" fill="rgb(255,228,0)"/><rect x="431.06" y="592.41" width="13.04" height="12.86" fill="rgb(255,217,0)"/><rect x="444.04" y="592.41" width="13.04" height="12.86" fill="rgb(255,222,0)"/><rect x="457.03" y="592.41" width="13.04" height="12.86" fill="rgb(255,234,0)"/><rect x="470.02" y="592.41" width="13.04" height="12.86" fill="rgb(255,234,0)"/><rect x="483.00" y="592.41" width="13.04" height="12.86" fill="rgb(255,241,0)"/><rect x="495.99" y="592.41" width="13.04" height="12.86" fill="rgb(255,218,0)"/><rect x="508.98" y="592.41" width="13.04" height="12.86" fill="rgb(255,226,0)"/><rect x="521.97" y="592.41" width="13.04" height="12.86" fill="rgb(255,233,0)"/><rect x="534.95" y="592.41" width="13.04" height="12.86" fill="rgb(255,138,0)"/><rect x="547.94" y="592.41" width="13.04" height="12.86" fill="rgb(255,191,0)"/><rect x="560.93" y="592.41" width="13.04" height="12.86" fill="rgb(255,0,0)"/><rect x="573.92" y="592.41" width="13.04" height="12.86" fill="rgb(255,138,0)"/><rect x="586.90" y="592.41" width="13.04" height="12.86" fill="rgb(255,238,0)"/><rect x="599.89" y="592.41" width="13.04" height="12.86" fill="rgb(255,240,0)"/><rect x="612.88" y="592.41" width="13.04" height="12.86" fill="rgb(255,235,0)"/><rect x="625.86" y="592.41" width="13.04" height="12.86" fill="rgb(255,238,0)"/><rect x="638.85" y="592.41" width="13.04" height="12.86" fill="rgb(255,247,0)"/><rect x="651.84" y="592.41" width="13.04" height="12.86" fill="rgb(255,240,0)"/><rect x="664.83" y="592.41" width="13.04" height="12.86" fill="rgb(255,244,0)"/><rect x="677.81" y="592.41" width="13.04" height="12.86" fill="rgb(255,240,0)"/><rect x="132.35" y="605.22" width="13.04" height="12.86" fill="rgb(255,252,0)"/><rect x="145.34" y="605.22" width="13.04" height="12.86" fill="rgb(255,250,0)"/><rect x="158.32" y="605.22" width="13.04" height="12.86" fill="rgb(255,252,0)"/><rect x="171.31" y="605.22" width="13.04" height="12.86" fill="rgb(255,251,0)"/><rect x="184.30" y="605.22" width="13.04" height="12.86" fill="rgb(255,246,0)"/><rect x="197.29" y="605.22" width="13.04" height="12.86" fill="rgb(255,250,0)"/><rect x="210.27" y="605.22" width="13.04" height="12.86" fill="rgb(255,250,0)"/><rect x="223.26" y="605.22" width="13.04" height="12.86" fill="rgb(255,248,0)"/><rect x="236.25" y="605.22" width="13.04" height="12.86" fill="rgb(255,252,0)"/><rect x="249.23" y="605.22" width="13.04" height="12.86" fill="rgb(255,234,0)"/><rect x="262.22" y="605.22" width="13.04" height="12.86" fill="rgb(255,234,0)"/><rect x="275.21" y="605.22" width="13.04" height="12.86" fill="rgb(255,228,0)"/><rect x="288.20" y="605.22" width="13.04" height="12.86" fill="rgb(255,217,0)"/><rect x="301.18" y="605.22" width="13.04" height="12.86" fill="rgb(255,219,0)"/><rect x="314.17" y="605.22" width="13.04" height="12.86" fill="rgb(255,226,0)"/><rect x="327.16" y="605.22" width="13.04" height="12.86" fill="rgb(255,226,0)"/><rect x="340.15" y="605.22" width="13.04" height="12.86" fill="rgb(255,228,0)"/><rect x="353.13" y="605.22" width="13.04" height="12.86" fill="rgb(255,231,0)"/><rect x="366.12" y="605.22" width="13.04" height="12.86" fill="rgb(255,234,0)"/><rect x="379.11" y="605.22" width="13.04" height="12.86" fill="rgb(255,234,0)"/><rect x="392.09" y="605.22" width="13.04" height="12.86" fill="rgb(255,234,0)"/><rect x="405.08" y="605.22" width="13.04" height="12.86" fill="rgb(255,234,0)"/><rect x="418.07" y="605.22" width="13.04" height="12.86" fill="rgb(255,234,0)"/><rect x="431.06" y="605.22" width="13.04" height="12.86" fill="rgb(255,234,0)"/><rect x="444.04" y="605.22" width="13.04" height="12.86" fill="rgb(255,234,0)"/><rect x="457.03" y="605.22" width="13.04" height="12.86" fill="rgb(255,240,0)"/><rect x="470.02" y="605.22" width="13.04" height="12.86" fill="rgb(255,240,0)"/><rect x="483.00" y="605.22" width="13.04" height="12.86" fill="rgb(255,241,0)"/><rect x="495.99" y="605.22" width="13.04" height="12.86" fill="rgb(255,226,0)"/><rect x="508.98" y="605.22" width="13.04" height="12.86" fill="rgb(255,233,0)"/><rect x="521.97" y="605.22" width="13.04" height="12.86" fill="rgb(255,238,0)"/><rect x="534.95" y="605.22" width="13.04" height="12.86" fill="rgb(255,183,0)"/><rect x="547.94" y="605.22" width="13.04" height="12.86" fill="rgb(255,204,0)"/><rect x="560.93" y="605.22" width="13.04" height="12.86" fill="rgb(255,138,0)"/><rect x="573.92" y="605.22" width="13.04" height="12.86" fill="rgb(255,0,0)"/><rect x="586.90" y="605.22" width="13.04" height="12.86" fill="rgb(255,242,0)"/><rect x="599.89" y="605.22" width="13.04" height="12.86" fill="rgb(255,238,0)"/><rect x="612.88" y="605.22" width="13.04" height="12.86" fill="rgb(255,240,0)"/><rect x="625.86" y="605.22" width="13.04" height="12.86" fill="rgb(255,240,0)"/><rect x="638.85" y="605.22" width="13.04" height="12.86" fill="rgb(255,247,0)"/><rect x="651.84" y="605.22" width="13.04" height="12.86" fill="rgb(255,244,0)"/><rect x="664.83" y="605.22" width="13.04" height="12.86" fill="rgb(255,238,0)"/><rect x="677.81" y="605.22" width="13.04" height="12.86" fill="rgb(255,240,0)"/><rect x="132.35" y="618.03" width="13.04" height="12.86" fill="rgb(255,246,0)"/><rect x="145.34" y="618.03" width="13.04" height="12.86" fill="rgb(255,251,0)"/><rect x="158.32" y="618.03" width="13.04" height="12.86" fill="rgb(255,251,0)"/><rect x="171.31" y="618.03" width="13.04" height="12.86" fill="rgb(255,252,0)"/><rect x="184.30" y="618.03" width="13.04" height="12.86" fill="rgb(255,251,0)"/><rect x="197.29" y="618.03" width="13.04" height="12.86" fill="rgb(255,250,0)"/><rect x="210.27" y="618.03" width="13.04" height="12.86" fill="rgb(255,248,0)"/><rect x="223.26" y="618.03" width="13.04" height="12.86" fill="rgb(255,251,0)"/><rect x="236.25" y="618.03" width="13.04" height="12.86" fill="rgb(255,248,0)"/><rect x="249.23" y="618.03" width="13.04" height="12.86" fill="rgb(255,238,0)"/><rect x="262.22" y="618.03" width="13.04" height="12.86" fill="rgb(255,240,0)"/><rect x="275.21" y="618.03" width="13.04" height="12.86" fill="rgb(255,240,0)"/><rect x="288.20" y="618.03" width="13.04" height="12.86" fill="rgb(255,238,0)"/><rect x="301.18" y="618.03" width="13.04" height="12.86" fill="rgb(255,238,0)"/><rect x="314.17" y="618.03" width="13.04" height="12.86" fill="rgb(255,235,0)"/><rect x="327.16" y="618.03" width="13.04" height="12.86" fill="rgb(255,242,0)"/><rect x="340.15" y="618.03" width="13.04" height="12.86" fill="rgb(255,240,0)"/><rect x="353.13" y="618.03" width="13.04" height="12.86" fill="rgb(255,242,0)"/><rect x="366.12" y="618.03" width="13.04" height="12.86" fill="rgb(255,240,0)"/><rect x="379.11" y="618.03" width="13.04" height="12.86" fill="rgb(255,240,0)"/><rect x="392.09" y="618.03" width="13.04" height="12.86" fill="rgb(255,244,0)"/><rect x="405.08" y="618.03" width="13.04" height="12.86" fill="rgb(255,238,0)"/><rect x="418.07" y="618.03" width="13.04" height="12.86" fill="rgb(255,240,0)"/><rect x="431.06" y="618.03" width="13.04" height="12.86" fill="rgb(255,238,0)"/><rect x="444.04" y="618.03" width="13.04" height="12.86" fill="rgb(255,238,0)"/><rect x="457.03" y="618.03" width="13.04" height="12.86" fill="rgb(255,242,0)"/><rect x="470.02" y="618.03" width="13.04" height="12.86" fill="rgb(255,242,0)"/><rect x="483.00" y="618.03" width="13.04" height="12.86" fill="rgb(255,240,0)"/><rect x="495.99" y="618.03" width="13.04" height="12.86" fill="rgb(255,240,0)"/><rect x="508.98" y="618.03" width="13.04" height="12.86" fill="rgb(255,240,0)"/><rect x="521.97" y="618.03" width="13.04" height="12.86" fill="rgb(255,240,0)"/><rect x="534.95" y="618.03" width="13.04" height="12.86" fill="rgb(255,235,0)"/><rect x="547.94" y="618.03" width="13.04" height="12.86" fill="rgb(255,240,0)"/><rect x="560.93" y="618.03" width="13.04" height="12.86" fill="rgb(255,238,0)"/><rect x="573.92" y="618.03" width="13.04" height="12.86" fill="rgb(255,242,0)"/><rect x="586.90" y="618.03" width="13.04" height="12.86" fill="rgb(255,0,0)"/><rect x="599.89" y="618.03" width="13.04" height="12.86" fill="rgb(255,200,0)"/><rect x="612.88" y="618.03" width="13.04" height="12.86" fill="rgb(255,172,0)"/><rect x="625.86" y="618.03" width="13.04" height="12.86" fill="rgb(255,138,0)"/><rect x="638.85" y="618.03" width="13.04" height="12.86" fill="rgb(255,245,0)"/><rect x="651.84" y="618.03" width="13.04" height="12.86" fill="rgb(255,218,0)"/><rect x="664.83" y="618.03" width="13.04" height="12.86" fill="rgb(255,221,0)"/><rect x="677.81" y="618.03" width="13.04" height="12.86" fill="rgb(255,221,0)"/><rect x="132.35" y="630.83" width="13.04" height="12.86" fill="rgb(255,252,0)"/><rect x="145.34" y="630.83" width="13.04" height="12.86" fill="rgb(255,252,0)"/><rect x="158.32" y="630.83" width="13.04" height="12.86" fill="rgb(255,252,0)"/><rect x="171.31" y="630.83" width="13.04" height="12.86" fill="rgb(255,250,0)"/><rect x="184.30" y="630.83" width="13.04" height="12.86" fill="rgb(255,252,0)"/><rect x="197.29" y="630.83" width="13.04" height="12.86" fill="rgb(255,252,0)"/><rect x="210.27" y="630.83" width="13.04" height="12.86" fill="rgb(255,252,0)"/><rect x="223.26" y="630.83" width="13.04" height="12.86" fill="rgb(255,252,0)"/><rect x="236.25" y="630.83" width="13.04" height="12.86" fill="rgb(255,246,0)"/><rect x="249.23" y="630.83" width="13.04" height="12.86" fill="rgb(255,235,0)"/><rect x="262.22" y="630.83" width="13.04" height="12.86" fill="rgb(255,240,0)"/><rect x="275.21" y="630.83" width="13.04" height="12.86" fill="rgb(255,244,0)"/><rect x="288.20" y="630.83" width="13.04" height="12.86" fill="rgb(255,242,0)"/><rect x="301.18" y="630.83" width="13.04" height="12.86" fill="rgb(255,238,0)"/><rect x="314.17" y="630.83" width="13.04" height="12.86" fill="rgb(255,240,0)"/><rect x="327.16" y="630.83" width="13.04" height="12.86" fill="rgb(255,235,0)"/><rect x="340.15" y="630.83" width="13.04" height="12.86" fill="rgb(255,242,0)"/><rect x="353.13" y="630.83" width="13.04" height="12.86" fill="rgb(255,242,0)"/><rect x="366.12" y="630.83" width="13.04" height="12.86" fill="rgb(255,242,0)"/><rect x="379.11" y="630.83" width="13.04" height="12.86" fill="rgb(255,238,0)"/><rect x="392.09" y="630.83" width="13.04" height="12.86" fill="rgb(255,238,0)"/><rect x="405.08" y="630.83" width="13.04" height="12.86" fill="rgb(255,244,0)"/><rect x="418.07" y="630.83" width="13.04" height="12.86" fill="rgb(255,238,0)"/><rect x="431.06" y="630.83" width="13.04" height="12.86" fill="rgb(255,238,0)"/><rect x="444.04" y="630.83" width="13.04" height="12.86" fill="rgb(255,240,0)"/><rect x="457.03" y="630.83" width="13.04" height="12.86" fill="rgb(255,240,0)"/><rect x="470.02" y="630.83" width="13.04" height="12.86" fill="rgb(255,240,0)"/><rect x="483.00" y="630.83" width="13.04" height="12.86" fill="rgb(255,240,0)"/><rect x="495.99" y="630.83" width="13.04" height="12.86" fill="rgb(255,240,0)"/><rect x="508.98" y="630.83" width="13.04" height="12.86" fill="rgb(255,235,0)"/><rect x="521.97" y="630.83" width="13.04" height="12.86" fill="rgb(255,235,0)"/><rect x="534.95" y="630.83" width="13.04" height="12.86" fill="rgb(255,240,0)"/><rect x="547.94" y="630.83" width="13.04" height="12.86" fill="rgb(255,242,0)"/><rect x="560.93" y="630.83" width="13.04" height="12.86" fill="rgb(255,240,0)"/><rect x="573.92" y="630.83" width="13.04" height="12.86" fill="rgb(255,238,0)"/><rect x="586.90" y="630.83" width="13.04" height="12.86" fill="rgb(255,200,0)"/><rect x="599.89" y="630.83" width="13.04" height="12.86" fill="rgb(255,0,0)"/><rect x="612.88" y="630.83" width="13.04" height="12.86" fill="rgb(255,138,0)"/><rect x="625.86" y="630.83" width="13.04" height="12.86" fill="rgb(255,172,0)"/><rect x="638.85" y="630.83" width="13.04" height="12.86" fill="rgb(255,245,0)"/><rect x="651.84" y="630.83" width="13.04" height="12.86" fill="rgb(255,194,0)"/><rect x="664.83" y="630.83" width="13.04" height="12.86" fill="rgb(255,209,0)"/><rect x="677.81" y="630.83" width="13.04" height="12.86" fill="rgb(255,214,0)"/><rect x="132.35" y="643.64" width="13.04" height="12.86" fill="rgb(255,252,0)"/><rect x="145.34" y="643.64" width="13.04" height="12.86" fill="rgb(255,251,0)"/><rect x="158.32" y="643.64" width="13.04" height="12.86" fill="rgb(255,251,0)"/><rect x="171.31" y="643.64" width="13.04" height="12.86" fill="rgb(255,248,0)"/><rect x="184.30" y="643.64" width="13.04" height="12.86" fill="rgb(255,251,0)"/><rect x="197.29" y="643.64" width="13.04" height="12.86" fill="rgb(255,250,0)"/><rect x="210.27" y="643.64" width="13.04" height="12.86" fill="rgb(255,252,0)"/><rect x="223.26" y="643.64" width="13.04" height="12.86" fill="rgb(255,252,0)"/><rect x="236.25" y="643.64" width="13.04" height="12.86" fill="rgb(255,246,0)"/><rect x="249.23" y="643.64" width="13.04" height="12.86" fill="rgb(255,240,0)"/><rect x="262.22" y="643.64" width="13.04" height="12.86" fill="rgb(255,242,0)"/><rect x="275.21" y="643.64" width="13.04" height="12.86" fill="rgb(255,242,0)"/><rect x="288.20" y="643.64" width="13.04" height="12.86" fill="rgb(255,242,0)"/><rect x="301.18" y="643.64" width="13.04" height="12.86" fill="rgb(255,238,0)"/><rect x="314.17" y="643.64" width="13.04" height="12.86" fill="rgb(255,244,0)"/><rect x="327.16" y="643.64" width="13.04" height="12.86" fill="rgb(255,238,0)"/><rect x="340.15" y="643.64" width="13.04" height="12.86" fill="rgb(255,235,0)"/><rect x="353.13" y="643.64" width="13.04" height="12.86" fill="rgb(255,238,0)"/><rect x="366.12" y="643.64" width="13.04" height="12.86" fill="rgb(255,238,0)"/><rect x="379.11" y="643.64" width="13.04" height="12.86" fill="rgb(255,240,0)"/><rect x="392.09" y="643.64" width="13.04" height="12.86" fill="rgb(255,240,0)"/><rect x="405.08" y="643.64" width="13.04" height="12.86" fill="rgb(255,244,0)"/><rect x="418.07" y="643.64" width="13.04" height="12.86" fill="rgb(255,244,0)"/><rect x="431.06" y="643.64" width="13.04" height="12.86" fill="rgb(255,244,0)"/><rect x="444.04" y="643.64" width="13.04" height="12.86" fill="rgb(255,240,0)"/><rect x="457.03" y="643.64" width="13.04" height="12.86" fill="rgb(255,240,0)"/><rect x="470.02" y="643.64" width="13.04" height="12.86" fill="rgb(255,242,0)"/><rect x="483.00" y="643.64" width="13.04" height="12.86" fill="rgb(255,235,0)"/><rect x="495.99" y="643.64" width="13.04" height="12.86" fill="rgb(255,238,0)"/><rect x="508.98" y="643.64" width="13.04" height="12.86" fill="rgb(255,240,0)"/><rect x="521.97" y="643.64" width="13.04" height="12.86" fill="rgb(255,244,0)"/><rect x="534.95" y="643.64" width="13.04" height="12.86" fill="rgb(255,235,0)"/><rect x="547.94" y="643.64" width="13.04" height="12.86" fill="rgb(255,238,0)"/><rect x="560.93" y="643.64" width="13.04" height="12.86" fill="rgb(255,235,0)"/><rect x="573.92" y="643.64" width="13.04" height="12.86" fill="rgb(255,240,0)"/><rect x="586.90" y="643.64" width="13.04" height="12.86" fill="rgb(255,172,0)"/><rect x="599.89" y="643.64" width="13.04" height="12.86" fill="rgb(255,138,0)"/><rect x="612.88" y="643.64" width="13.04" height="12.86" fill="rgb(255,0,0)"/><rect x="625.86" y="643.64" width="13.04" height="12.86" fill="rgb(255,133,0)"/><rect x="638.85" y="643.64" width="13.04" height="12.86" fill="rgb(255,242,0)"/><rect x="651.84" y="643.64" width="13.04" height="12.86" fill="rgb(255,183,0)"/><rect x="664.83" y="643.64" width="13.04" height="12.86" fill="rgb(255,206,0)"/><rect x="677.81" y="643.64" width="13.04" height="12.86" fill="rgb(255,209,0)"/><rect x="132.35" y="656.45" width="13.04" height="12.86" fill="rgb(255,251,0)"/><rect x="145.34" y="656.45" width="13.04" height="12.86" fill="rgb(255,250,0)"/><rect x="158.32" y="656.45" width="13.04" height="12.86" fill="rgb(255,246,0)"/><rect x="171.31" y="656.45" width="13.04" height="12.86" fill="rgb(255,251,0)"/><rect x="184.30" y="656.45" width="13.04" height="12.86" fill="rgb(255,251,0)"/><rect x="197.29" y="656.45" width="13.04" height="12.86" fill="rgb(255,251,0)"/><rect x="210.27" y="656.45" width="13.04" height="12.86" fill="rgb(255,252,0)"/><rect x="223.26" y="656.45" width="13.04" height="12.86" fill="rgb(255,246,0)"/><rect x="236.25" y="656.45" width="13.04" height="12.86" fill="rgb(255,246,0)"/><rect x="249.23" y="656.45" width="13.04" height="12.86" fill="rgb(255,238,0)"/><rect x="262.22" y="656.45" width="13.04" height="12.86" fill="rgb(255,240,0)"/><rect x="275.21" y="656.45" width="13.04" height="12.86" fill="rgb(255,242,0)"/><rect x="288.20" y="656.45" width="13.04" height="12.86" fill="rgb(255,235,0)"/><rect x="301.18" y="656.45" width="13.04" height="12.86" fill="rgb(255,240,0)"/><rect x="314.17" y="656.45" width="13.04" height="12.86" fill="rgb(255,242,0)"/><rect x="327.16" y="656.45" width="13.04" height="12.86" fill="rgb(255,238,0)"/><rect x="340.15" y="656.45" width="13.04" height="12.86" fill="rgb(255,235,0)"/><rect x="353.13" y="656.45" width="13.04" height="12.86" fill="rgb(255,244,0)"/><rect x="366.12" y="656.45" width="13.04" height="12.86" fill="rgb(255,244,0)"/><rect x="379.11" y="656.45" width="13.04" height="12.86" fill="rgb(255,235,0)"/><rect x="392.09" y="656.45" width="13.04" height="12.86" fill="rgb(255,235,0)"/><rect x="405.08" y="656.45" width="13.04" height="12.86" fill="rgb(255,244,0)"/><rect x="418.07" y="656.45" width="13.04" height="12.86" fill="rgb(255,235,0)"/><rect x="431.06" y="656.45" width="13.04" height="12.86" fill="rgb(255,240,0)"/><rect x="444.04" y="656.45" width="13.04" height="12.86" fill="rgb(255,235,0)"/><rect x="457.03" y="656.45" width="13.04" height="12.86" fill="rgb(255,244,0)"/><rect x="470.02" y="656.45" width="13.04" height="12.86" fill="rgb(255,235,0)"/><rect x="483.00" y="656.45" width="13.04" height="12.86" fill="rgb(255,238,0)"/><rect x="495.99" y="656.45" width="13.04" height="12.86" fill="rgb(255,242,0)"/><rect x="508.98" y="656.45" width="13.04" height="12.86" fill="rgb(255,235,0)"/><rect x="521.97" y="656.45" width="13.04" height="12.86" fill="rgb(255,235,0)"/><rect x="534.95" y="656.45" width="13.04" height="12.86" fill="rgb(255,240,0)"/><rect x="547.94" y="656.45" width="13.04" height="12.86" fill="rgb(255,235,0)"/><rect x="560.93" y="656.45" width="13.04" height="12.86" fill="rgb(255,238,0)"/><rect x="573.92" y="656.45" width="13.04" height="12.86" fill="rgb(255,240,0)"/><rect x="586.90" y="656.45" width="13.04" height="12.86" fill="rgb(255,138,0)"/><rect x="599.89" y="656.45" width="13.04" height="12.86" fill="rgb(255,172,0)"/><rect x="612.88" y="656.45" width="13.04" height="12.86" fill="rgb(255,133,0)"/><rect x="625.86" y="656.45" width="13.04" height="12.86" fill="rgb(255,0,0)"/><rect x="638.85" y="656.45" width="13.04" height="12.86" fill="rgb(255,242,0)"/><rect x="651.84" y="656.45" width="13.04" height="12.86" fill="rgb(255,189,0)"/><rect x="664.83" y="656.45" width="13.04" height="12.86" fill="rgb(255,206,0)"/><rect x="677.81" y="656.45" width="13.04" height="12.86" fill="rgb(255,212,0)"/><rect x="132.35" y="669.26" width="13.04" height="12.86" fill="rgb(255,246,0)"/><rect x="145.34" y="669.26" width="13.04" height="12.86" fill="rgb(255,250,0)"/><rect x="158.32" y="669.26" width="13.04" height="12.86" fill="rgb(255,246,0)"/><rect x="171.31" y="669.26" width="13.04" height="12.86" fill="rgb(255,252,0)"/><rect x="184.30" y="669.26" width="13.04" height="12.86" fill="rgb(255,251,0)"/><rect x="197.29" y="669.26" width="13.04" height="12.86" fill="rgb(255,246,0)"/><rect x="210.27" y="669.26" width="13.04" height="12.86" fill="rgb(255,250,0)"/><rect x="223.26" y="669.26" width="13.04" height="12.86" fill="rgb(255,251,0)"/><rect x="236.25" y="669.26" width="13.04" height="12.86" fill="rgb(255,252,0)"/><rect x="249.23" y="669.26" width="13.04" height="12.86" fill="rgb(255,247,0)"/><rect x="262.22" y="669.26" width="13.04" height="12.86" fill="rgb(255,247,0)"/><rect x="275.21" y="669.26" width="13.04" height="12.86" fill="rgb(255,247,0)"/><rect x="288.20" y="669.26" width="13.04" height="12.86" fill="rgb(255,247,0)"/><rect x="301.18" y="669.26" width="13.04" height="12.86" fill="rgb(255,247,0)"/><rect x="314.17" y="669.26" width="13.04" height="12.86" fill="rgb(255,247,0)"/><rect x="327.16" y="669.26" width="13.04" height="12.86" fill="rgb(255,247,0)"/><rect x="340.15" y="669.26" width="13.04" height="12.86" fill="rgb(255,247,0)"/><rect x="353.13" y="669.26" width="13.04" height="12.86" fill="rgb(255,247,0)"/><rect x="366.12" y="669.26" width="13.04" height="12.86" fill="rgb(255,247,0)"/><rect x="379.11" y="669.26" width="13.04" height="12.86" fill="rgb(255,247,0)"/><rect x="392.09" y="669.26" width="13.04" height="12.86" fill="rgb(255,247,0)"/><rect x="405.08" y="669.26" width="13.04" height="12.86" fill="rgb(255,247,0)"/><rect x="418.07" y="669.26" width="13.04" height="12.86" fill="rgb(255,247,0)"/><rect x="431.06" y="669.26" width="13.04" height="12.86" fill="rgb(255,247,0)"/><rect x="444.04" y="669.26" width="13.04" height="12.86" fill="rgb(255,247,0)"/><rect x="457.03" y="669.26" width="13.04" height="12.86" fill="rgb(255,247,0)"/><rect x="470.02" y="669.26" width="13.04" height="12.86" fill="rgb(255,247,0)"/><rect x="483.00" y="669.26" width="13.04" height="12.86" fill="rgb(255,247,0)"/><rect x="495.99" y="669.26" width="13.04" height="12.86" fill="rgb(255,247,0)"/><rect x="508.98" y="669.26" width="13.04" height="12.86" fill="rgb(255,247,0)"/><rect x="521.97" y="669.26" width="13.04" height="12.86" fill="rgb(255,247,0)"/><rect x="534.95" y="669.26" width="13.04" height="12.86" fill="rgb(255,247,0)"/><rect x="547.94" y="669.26" width="13.04" height="12.86" fill="rgb(255,247,0)"/><rect x="560.93" y="669.26" width="13.04" height="12.86" fill="rgb(255,247,0)"/><rect x="573.92" y="669.26" width="13.04" height="12.86" fill="rgb(255,247,0)"/><rect x="586.90" y="669.26" width="13.04" height="12.86" fill="rgb(255,245,0)"/><rect x="599.89" y="669.26" width="13.04" height="12.86" fill="rgb(255,245,0)"/><rect x="612.88" y="669.26" width="13.04" height="12.86" fill="rgb(255,242,0)"/><rect x="625.86" y="669.26" width="13.04" height="12.86" fill="rgb(255,242,0)"/><rect x="638.85" y="669.26" width="13.04" height="12.86" fill="rgb(255,0,0)"/><rect x="651.84" y="669.26" width="13.04" height="12.86" fill="rgb(255,200,0)"/><rect x="664.83" y="669.26" width="13.04" height="12.86" fill="rgb(255,135,0)"/><rect x="677.81" y="669.26" width="13.04" height="12.86" fill="rgb(255,187,0)"/><rect x="132.35" y="682.07" width="13.04" height="12.86" fill="rgb(255,248,0)"/><rect x="145.34" y="682.07" width="13.04" height="12.86" fill="rgb(255,248,0)"/><rect x="158.32" y="682.07" width="13.04" height="12.86" fill="rgb(255,250,0)"/><rect x="171.31" y="682.07" width="13.04" height="12.86" fill="rgb(255,250,0)"/><rect x="184.30" y="682.07" width="13.04" height="12.86" fill="rgb(255,251,0)"/><rect x="197.29" y="682.07" width="13.04" height="12.86" fill="rgb(255,246,0)"/><rect x="210.27" y="682.07" width="13.04" height="12.86" fill="rgb(255,248,0)"/><rect x="223.26" y="682.07" width="13.04" height="12.86" fill="rgb(255,250,0)"/><rect x="236.25" y="682.07" width="13.04" height="12.86" fill="rgb(255,248,0)"/><rect x="249.23" y="682.07" width="13.04" height="12.86" fill="rgb(255,242,0)"/><rect x="262.22" y="682.07" width="13.04" height="12.86" fill="rgb(255,235,0)"/><rect x="275.21" y="682.07" width="13.04" height="12.86" fill="rgb(255,242,0)"/><rect x="288.20" y="682.07" width="13.04" height="12.86" fill="rgb(255,238,0)"/><rect x="301.18" y="682.07" width="13.04" height="12.86" fill="rgb(255,244,0)"/><rect x="314.17" y="682.07" width="13.04" height="12.86" fill="rgb(255,242,0)"/><rect x="327.16" y="682.07" width="13.04" height="12.86" fill="rgb(255,235,0)"/><rect x="340.15" y="682.07" width="13.04" height="12.86" fill="rgb(255,240,0)"/><rect x="353.13" y="682.07" width="13.04" height="12.86" fill="rgb(255,240,0)"/><rect x="366.12" y="682.07" width="13.04" height="12.86" fill="rgb(255,240,0)"/><rect x="379.11" y="682.07" width="13.04" height="12.86" fill="rgb(255,240,0)"/><rect x="392.09" y="682.07" width="13.04" height="12.86" fill="rgb(255,244,0)"/><rect x="405.08" y="682.07" width="13.04" height="12.86" fill="rgb(255,238,0)"/><rect x="418.07" y="682.07" width="13.04" height="12.86" fill="rgb(255,240,0)"/><rect x="431.06" y="682.07" width="13.04" height="12.86" fill="rgb(255,240,0)"/><rect x="444.04" y="682.07" width="13.04" height="12.86" fill="rgb(255,240,0)"/><rect x="457.03" y="682.07" width="13.04" height="12.86" fill="rgb(255,240,0)"/><rect x="470.02" y="682.07" width="13.04" height="12.86" fill="rgb(255,238,0)"/><rect x="483.00" y="682.07" width="13.04" height="12.86" fill="rgb(255,238,0)"/><rect x="495.99" y="682.07" width="13.04" height="12.86" fill="rgb(255,242,0)"/><rect x="508.98" y="682.07" width="13.04" height="12.86" fill="rgb(255,238,0)"/><rect x="521.97" y="682.07" width="13.04" height="12.86" fill="rgb(255,235,0)"/><rect x="534.95" y="682.07" width="13.04" height="12.86" fill="rgb(255,240,0)"/><rect x="547.94" y="682.07" width="13.04" height="12.86" fill="rgb(255,244,0)"/><rect x="560.93" y="682.07" width="13.04" height="12.86" fill="rgb(255,240,0)"/><rect x="573.92" y="682.07" width="13.04" height="12.86" fill="rgb(255,244,0)"/><rect x="586.90" y="682.07" width="13.04" height="12.86" fill="rgb(255,218,0)"/><rect x="599.89" y="682.07" width="13.04" height="12.86" fill="rgb(255,194,0)"/><rect x="612.88" y="682.07" width="13.04" height="12.86" fill="rgb(255,183,0)"/><rect x="625.86" y="682.07" width="13.04" height="12.86" fill="rgb(255,189,0)"/><rect x="638.85" y="682.07" width="13.04" height="12.86" fill="rgb(255,200,0)"/><rect x="651.84" y="682.07" width="13.04" height="12.86" fill="rgb(255,0,0)"/><rect x="664.83" y="682.07" width="13.04" height="12.86" fill="rgb(255,133,0)"/><rect x="677.81" y="682.07" width="13.04" height="12.86" fill="rgb(255,136,0)"/><rect x="132.35" y="694.88" width="13.04" height="12.86" fill="rgb(255,246,0)"/><rect x="145.34" y="694.88" width="13.04" height="12.86" fill="rgb(255,248,0)"/><rect x="158.32" y="694.88" width="13.04" height="12.86" fill="rgb(255,251,0)"/><rect x="171.31" y="694.88" width="13.04" height="12.86" fill="rgb(255,251,0)"/><rect x="184.30" y="694.88" width="13.04" height="12.86" fill="rgb(255,246,0)"/><rect x="197.29" y="694.88" width="13.04" height="12.86" fill="rgb(255,251,0)"/><rect x="210.27" y="694.88" width="13.04" height="12.86" fill="rgb(255,252,0)"/><rect x="223.26" y="694.88" width="13.04" height="12.86" fill="rgb(255,246,0)"/><rect x="236.25" y="694.88" width="13.04" height="12.86" fill="rgb(255,251,0)"/><rect x="249.23" y="694.88" width="13.04" height="12.86" fill="rgb(255,238,0)"/><rect x="262.22" y="694.88" width="13.04" height="12.86" fill="rgb(255,244,0)"/><rect x="275.21" y="694.88" width="13.04" height="12.86" fill="rgb(255,238,0)"/><rect x="288.20" y="694.88" width="13.04" height="12.86" fill="rgb(255,242,0)"/><rect x="301.18" y="694.88" width="13.04" height="12.86" fill="rgb(255,235,0)"/><rect x="314.17" y="694.88" width="13.04" height="12.86" fill="rgb(255,240,0)"/><rect x="327.16" y="694.88" width="13.04" height="12.86" fill="rgb(255,235,0)"/><rect x="340.15" y="694.88" width="13.04" height="12.86" fill="rgb(255,242,0)"/><rect x="353.13" y="694.88" width="13.04" height="12.86" fill="rgb(255,242,0)"/><rect x="366.12" y="694.88" width="13.04" height="12.86" fill="rgb(255,242,0)"/><rect x="379.11" y="694.88" width="13.04" height="12.86" fill="rgb(255,240,0)"/><rect x="392.09" y="694.88" width="13.04" height="12.86" fill="rgb(255,240,0)"/><rect x="405.08" y="694.88" width="13.04" height="12.86" fill="rgb(255,240,0)"/><rect x="418.07" y="694.88" width="13.04" height="12.86" fill="rgb(255,238,0)"/><rect x="431.06" y="694.88" width="13.04" height="12.86" fill="rgb(255,240,0)"/><rect x="444.04" y="694.88" width="13.04" height="12.86" fill="rgb(255,235,0)"/><rect x="457.03" y="694.88" width="13.04" height="12.86" fill="rgb(255,240,0)"/><rect x="470.02" y="694.88" width="13.04" height="12.86" fill="rgb(255,235,0)"/><rect x="483.00" y="694.88" width="13.04" height="12.86" fill="rgb(255,240,0)"/><rect x="495.99" y="694.88" width="13.04" height="12.86" fill="rgb(255,240,0)"/><rect x="508.98" y="694.88" width="13.04" height="12.86" fill="rgb(255,240,0)"/><rect x="521.97" y="694.88" width="13.04" height="12.86" fill="rgb(255,242,0)"/><rect x="534.95" y="694.88" width="13.04" height="12.86" fill="rgb(255,242,0)"/><rect x="547.94" y="694.88" width="13.04" height="12.86" fill="rgb(255,238,0)"/><rect x="560.93" y="694.88" width="13.04" height="12.86" fill="rgb(255,244,0)"/><rect x="573.92" y="694.88" width="13.04" height="12.86" fill="rgb(255,238,0)"/><rect x="586.90" y="694.88" width="13.04" height="12.86" fill="rgb(255,221,0)"/><rect x="599.89" y="694.88" width="13.04" height="12.86" fill="rgb(255,209,0)"/><rect x="612.88" y="694.88" width="13.04" height="12.86" fill="rgb(255,206,0)"/><rect x="625.86" y="694.88" width="13.04" height="12.86" fill="rgb(255,206,0)"/><rect x="638.85" y="694.88" width="13.04" height="12.86" fill="rgb(255,135,0)"/><rect x="651.84" y="694.88" width="13.04" height="12.86" fill="rgb(255,133,0)"/><rect x="664.83" y="694.88" width="13.04" height="12.86" fill="rgb(255,0,0)"/><rect x="677.81" y="694.88" width="13.04" height="12.86" fill="rgb(255,135,0)"/><rect x="132.35" y="707.69" width="13.04" height="12.86" fill="rgb(255,252,0)"/><rect x="145.34" y="707.69" width="13.04" height="12.86" fill="rgb(255,248,0)"/><rect x="158.32" y="707.69" width="13.04" height="12.86" fill="rgb(255,246,0)"/><rect x="171.31" y="707.69" width="13.04" height="12.86" fill="rgb(255,250,0)"/><rect x="184.30" y="707.69" width="13.04" height="12.86" fill="rgb(255,251,0)"/><rect x="197.29" y="707.69" width="13.04" height="12.86" fill="rgb(255,251,0)"/><rect x="210.27" y="707.69" width="13.04" height="12.86" fill="rgb(255,248,0)"/><rect x="223.26" y="707.69" width="13.04" height="12.86" fill="rgb(255,246,0)"/><rect x="236.25" y="707.69" width="13.04" height="12.86" fill="rgb(255,248,0)"/><rect x="249.23" y="707.69" width="13.04" height="12.86" fill="rgb(255,242,0)"/><rect x="262.22" y="707.69" width="13.04" height="12.86" fill="rgb(255,240,0)"/><rect x="275.21" y="707.69" width="13.04" height="12.86" fill="rgb(255,242,0)"/><rect x="288.20" y="707.69" width="13.04" height="12.86" fill="rgb(255,235,0)"/><rect x="301.18" y="707.69" width="13.04" height="12.86" fill="rgb(255,242,0)"/><rect x="314.17" y="707.69" width="13.04" height="12.86" fill="rgb(255,235,0)"/><rect x="327.16" y="707.69" width="13.04" height="12.86" fill="rgb(255,242,0)"/><rect x="340.15" y="707.69" width="13.04" height="12.86" fill="rgb(255,242,0)"/><rect x="353.13" y="707.69" width="13.04" height="12.86" fill="rgb(255,242,0)"/><rect x="366.12" y="707.69" width="13.04" height="12.86" fill="rgb(255,238,0)"/><rect x="379.11" y="707.69" width="13.04" height="12.86" fill="rgb(255,235,0)"/><rect x="392.09" y="707.69" width="13.04" height="12.86" fill="rgb(255,235,0)"/><rect x="405.08" y="707.69" width="13.04" height="12.86" fill="rgb(255,238,0)"/><rect x="418.07" y="707.69" width="13.04" height="12.86" fill="rgb(255,244,0)"/><rect x="431.06" y="707.69" width="13.04" height="12.86" fill="rgb(255,240,0)"/><rect x="444.04" y="707.69" width="13.04" height="12.86" fill="rgb(255,240,0)"/><rect x="457.03" y="707.69" width="13.04" height="12.86" fill="rgb(255,242,0)"/><rect x="470.02" y="707.69" width="13.04" height="12.86" fill="rgb(255,235,0)"/><rect x="483.00" y="707.69" width="13.04" height="12.86" fill="rgb(255,244,0)"/><rect x="495.99" y="707.69" width="13.04" height="12.86" fill="rgb(255,244,0)"/><rect x="508.98" y="707.69" width="13.04" height="12.86" fill="rgb(255,235,0)"/><rect x="521.97" y="707.69" width="13.04" height="12.86" fill="rgb(255,238,0)"/><rect x="534.95" y="707.69" width="13.04" height="12.86" fill="rgb(255,240,0)"/><rect x="547.94" y="707.69" width="13.04" height="12.86" fill="rgb(255,235,0)"/><rect x="560.93" y="707.69" width="13.04" height="12.86" fill="rgb(255,240,0)"/><rect x="573.92" y="707.69" width="13.04" height="12.86" fill="rgb(255,240,0)"/><rect x="586.90" y="707.69" width="13.04" height="12.86" fill="rgb(255,221,0)"/><rect x="599.89" y="707.69" width="13.04" height="12.86" fill="rgb(255,214,0)"/><rect x="612.88" y="707.69" width="13.04" height="12.86" fill="rgb(255,209,0)"/><rect x="625.86" y="707.69" width="13.04" height="12.86" fill="rgb(255,212,0)"/><rect x="638.85" y="707.69" width="13.04" height="12.86" fill="rgb(255,187,0)"/><rect x="651.84" y="707.69" width="13.04" height="12.86" fill="rgb(255,136,0)"/><rect x="664.83" y="707.69" width="13.04" height="12.86" fill="rgb(255,135,0)"/><rect x="677.81" y="707.69" width="13.04" height="12.86" fill="rgb(255,0,0)"/></g><text class="lt" transform="translate(145.74,42.4) rotate(-90) scale(0.950,1)">CIII-2</text><text class="lt" transform="translate(158.73,42.4) rotate(-90) scale(0.950,1)">CIII-6</text><text class="lt" transform="translate(171.72,42.4) rotate(-90) scale(0.950,1)">CIII-5</text><text class="lt" transform="translate(184.71,42.4) rotate(-90) scale(0.950,1)">CIV-1</text><text class="lt" transform="translate(197.69,42.4) rotate(-90) scale(0.950,1)">CIV-2</text><text class="lt" transform="translate(210.68,42.4) rotate(-90) scale(0.950,1)">CII-1</text><text class="lt" transform="translate(223.67,42.4) rotate(-90) scale(0.950,1)">CIII-1</text><text class="lt" transform="translate(236.65,42.4) rotate(-90) scale(0.950,1)">CIII-3</text><text class="lt" transform="translate(249.64,42.4) rotate(-90) scale(0.950,1)">CII-2</text><text class="lt" transform="translate(262.63,42.4) rotate(-90) scale(0.950,1)">AV-1</text><text class="lt" transform="translate(275.62,42.4) rotate(-90) scale(0.950,1)">AV-2</text><text class="lt" transform="translate(288.60,42.4) rotate(-90) scale(0.950,1)">AV-3</text><text class="lt" transform="translate(301.59,42.4) rotate(-90) scale(0.950,1)">AIV-3</text><text class="lt" transform="translate(314.58,42.4) rotate(-90) scale(0.950,1)">AIV-1</text><text class="lt" transform="translate(327.56,42.4) rotate(-90) scale(0.950,1)">AIV-2</text><text class="lt" transform="translate(340.55,42.4) rotate(-90) scale(0.950,1)">AIV-4</text><text class="lt" transform="translate(353.54,42.4) rotate(-90) scale(0.950,1)">AIV-7</text><text class="lt" transform="translate(366.53,42.4) rotate(-90) scale(0.950,1)">AIV-6</text><text class="lt" transform="translate(379.51,42.4) rotate(-90) scale(0.950,1)">AV-5</text><text class="lt" transform="translate(392.50,42.4) rotate(-90) scale(0.950,1)">AV-6</text><text class="lt" transform="translate(405.49,42.4) rotate(-90) scale(0.950,1)">AV-8</text><text class="lt" transform="translate(418.47,42.4) rotate(-90) scale(0.950,1)">AV-7</text><text class="lt" transform="translate(431.46,42.4) rotate(-90) scale(0.950,1)">AIV-8</text><text class="lt" transform="translate(444.45,42.4) rotate(-90) scale(0.950,1)">AIV-9</text><text class="lt" transform="translate(457.44,42.4) rotate(-90) scale(0.950,1)">AIV-10</text><text class="lt" transform="translate(470.42,42.4) rotate(-90) scale(0.950,1)">AV-9</text><text class="lt" transform="translate(483.41,42.4) rotate(-90) scale(0.950,1)">AV-10</text><text class="lt" transform="translate(496.40,42.4) rotate(-90) scale(0.950,1)">AV-13</text><text class="lt" transform="translate(509.39,42.4) rotate(-90) scale(0.950,1)">AIV-13</text><text class="lt" transform="translate(522.37,42.4) rotate(-90) scale(0.950,1)">AIV-14</text><text class="lt" transform="translate(535.36,42.4) rotate(-90) scale(0.950,1)">AIV-15</text><text class="lt" transform="translate(548.35,42.4) rotate(-90) scale(0.950,1)">AIV-12</text><text class="lt" transform="translate(561.33,42.4) rotate(-90) scale(0.950,1)">AV-12</text><text class="lt" transform="translate(574.32,42.4) rotate(-90) scale(0.950,1)">AIV-11</text><text class="lt" transform="translate(587.31,42.4) rotate(-90) scale(0.950,1)">AV-11</text><text class="lt" transform="translate(600.30,42.4) rotate(-90) scale(0.950,1)">BIV-2</text><text class="lt" transform="translate(613.28,42.4) rotate(-90) scale(0.950,1)">BIV-1</text><text class="lt" transform="translate(626.27,42.4) rotate(-90) scale(0.950,1)">BIII-1</text><text class="lt" transform="translate(639.26,42.4) rotate(-90) scale(0.950,1)">BIII-3</text><text class="lt" transform="translate(652.24,42.4) rotate(-90) scale(0.950,1)">BIV-4</text><text class="lt" transform="translate(665.23,42.4) rotate(-90) scale(0.950,1)">BII-2</text><text class="lt" transform="translate(678.22,42.4) rotate(-90) scale(0.950,1)">BIII-4</text><text class="lt" transform="translate(691.21,42.4) rotate(-90) scale(0.950,1)">BIII-5</text><text class="lb" transform="translate(693.6,181.10) scale(1.015,1)">CIII-2</text><text class="lb" transform="translate(693.6,193.84) scale(1.015,1)">CIII-6</text><text class="lb" transform="translate(693.6,206.59) scale(1.015,1)">CIII-5</text><text class="lb" transform="translate(693.6,219.33) scale(1.015,1)">CIV-1</text><text class="lb" transform="translate(693.6,232.08) scale(1.015,1)">CIV-2</text><text class="lb" transform="translate(693.6,244.82) scale(1.015,1)">CII-1</text><text class="lb" transform="translate(693.6,257.57) scale(1.015,1)">CIII-1</text><text class="lb" transform="translate(693.6,270.31) scale(1.015,1)">CIII-3</text><text class="lb" transform="translate(693.6,283.06) scale(1.015,1)">CII-2</text><text class="lb" transform="translate(693.6,295.81) scale(1.015,1)">AV-1</text><text class="lb" transform="translate(693.6,308.55) scale(1.015,1)">AV-2</text><text class="lb" transform="translate(693.6,321.29) scale(1.015,1)">AV-3</text><text class="lb" transform="translate(693.6,334.04) scale(1.015,1)">AIV-3</text><text class="lb" transform="translate(693.6,346.78) scale(1.015,1)">AIV-1</text><text class="lb" transform="translate(693.6,359.53) scale(1.015,1)">AIV-2</text><text class="lb" transform="translate(693.6,372.27) scale(1.015,1)">AIV-4</text><text class="lb" transform="translate(693.6,385.02) scale(1.015,1)">AIV-7</text><text class="lb" transform="translate(693.6,397.76) scale(1.015,1)">AIV-6</text><text class="lb" transform="translate(693.6,410.51) scale(1.015,1)">AV-5</text><text class="lb" transform="translate(693.6,423.25) scale(1.015,1)">AV-6</text><text class="lb" transform="translate(693.6,436.00) scale(1.015,1)">AV-8</text><text class="lb" transform="translate(693.6,448.75) scale(1.015,1)">AV-7</text><text class="lb" transform="translate(693.6,461.49) scale(1.015,1)">AIV-8</text><text class="lb" transform="translate(693.6,474.24) scale(1.015,1)">AIV-9</text><text class="lb" transform="translate(693.6,486.98) scale(1.015,1)">AIV-10</text><text class="lb" transform="translate(693.6,499.73) scale(1.015,1)">AV-9</text><text class="lb" transform="translate(693.6,512.47) scale(1.015,1)">AV-10</text><text class="lb" transform="translate(693.6,525.21) scale(1.015,1)">AV-13</text><text class="lb" transform="translate(693.6,537.96) scale(1.015,1)">AIV-13</text><text class="lb" transform="translate(693.6,550.70) scale(1.015,1)">AIV-14</text><text class="lb" transform="translate(693.6,563.45) scale(1.015,1)">AIV-15</text><text class="lb" transform="translate(693.6,576.19) scale(1.015,1)">AIV-12</text><text class="lb" transform="translate(693.6,588.94) scale(1.015,1)">AV-12</text><text class="lb" transform="translate(693.6,601.68) scale(1.015,1)">AIV-11</text><text class="lb" transform="translate(693.6,614.43) scale(1.015,1)">AV-11</text><text class="lb" transform="translate(693.6,627.17) scale(1.015,1)">BIV-2</text><text class="lb" transform="translate(693.6,639.92) scale(1.015,1)">BIV-1</text><text class="lb" transform="translate(693.6,652.66) scale(1.015,1)">BIII-1</text><text class="lb" transform="translate(693.6,665.41) scale(1.015,1)">BIII-3</text><text class="lb" transform="translate(693.6,678.15) scale(1.015,1)">BIV-4</text><text class="lb" transform="translate(693.6,690.90) scale(1.015,1)">BII-2</text><text class="lb" transform="translate(693.6,703.64) scale(1.015,1)">BIII-4</text><text class="lb" transform="translate(693.6,716.39) scale(1.015,1)">BIII-5</text><rect x="741.1" y="174.3" width="9.8" height="108.8" fill="#e30613"/><rect x="741.1" y="287.4" width="9.8" height="322.6" fill="#1a26e6"/><rect x="741.1" y="617.4" width="9.8" height="101.6" fill="#0f5f26"/><text class="fam" transform="translate(761.20,182.90) rotate(90) scale(1.155,1)">FAMILY- C</text><text class="fam" transform="translate(762.80,384.90) rotate(90) scale(1.155,1)">FAMILY- A</text><text class="fam" transform="translate(760.40,623.40) rotate(90) scale(1.155,1)">FAMILY- B</text><rect x="132.3" y="723.2" width="558.5" height="19.2" fill="url(#cb)"/><text class="big" x="132.6" y="768.2">0</text><text class="big" x="335.5" y="768.4">Kinship-score</text><text class="big" x="653.5" y="768.3">0.5</text></svg></body></html>
